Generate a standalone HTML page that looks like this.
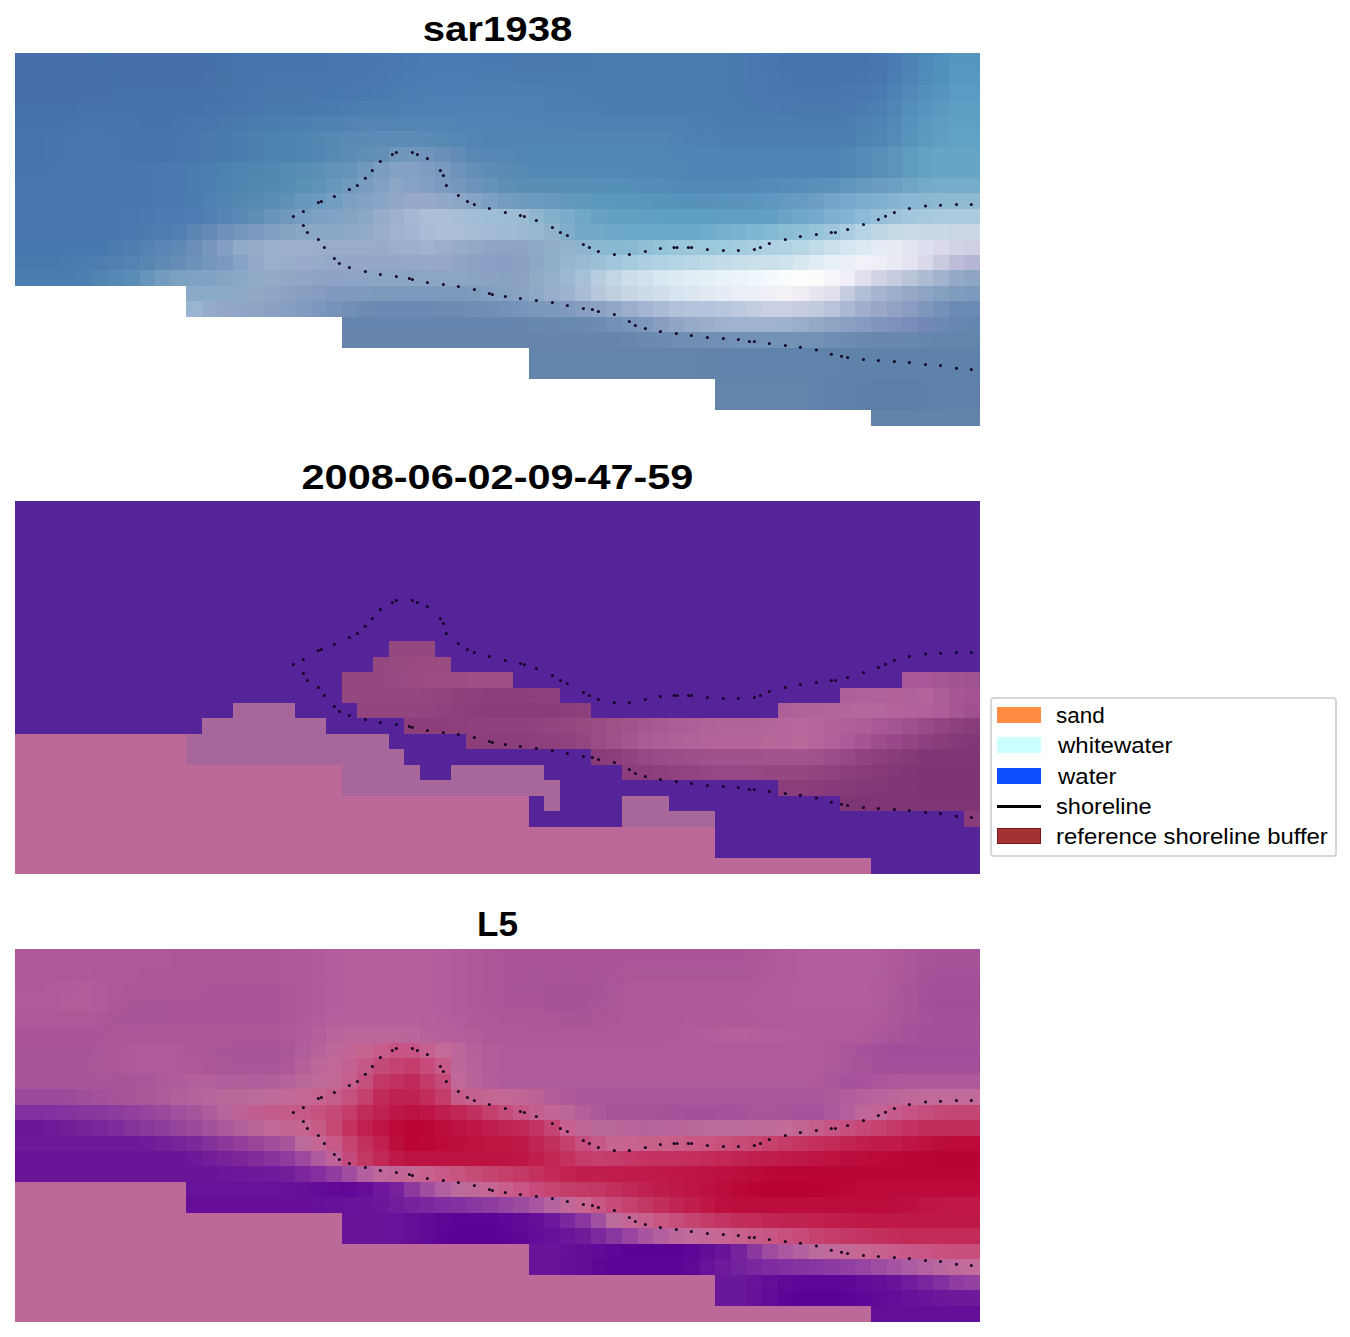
<!DOCTYPE html>
<html><head><meta charset="utf-8"><title>fig</title>
<style>
html,body{margin:0;padding:0;background:#fff;}
body{width:1350px;height:1337px;position:relative;overflow:hidden;font-family:"Liberation Sans",sans-serif;}
.t{position:absolute;left:15px;width:965px;text-align:center;font-weight:bold;color:#000;white-space:nowrap;line-height:1;}
.lg{position:absolute;left:990px;top:697px;width:343px;height:156px;border:2px solid #d6d6d6;border-radius:4px;background:#fff;}
.sw{position:absolute;left:997px;width:44px;height:16px;}
.lt{position:absolute;left:1056px;color:#000;white-space:nowrap;line-height:1;}
</style></head><body>
<svg width="1350" height="1337" viewBox="0 0 1350 1337" shape-rendering="crispEdges" style="position:absolute;left:0;top:0">
<rect x="15" y="501" width="965" height="373" fill="#552499"/>
<rect x="15" y="949" width="965" height="373" fill="#bc6899"/>
<rect x="15" y="53" width="62.56" height="16.9" fill="#466ea8"/>
<rect x="77.26" y="53" width="15.86" height="16.9" fill="#466ea7"/>
<rect x="92.82" y="53" width="15.87" height="16.9" fill="#456fa7"/>
<rect x="108.39" y="53" width="93.68" height="16.9" fill="#456fa6"/>
<rect x="201.77" y="53" width="15.87" height="16.9" fill="#4570a7"/>
<rect x="217.34" y="53" width="15.86" height="16.9" fill="#4671a8"/>
<rect x="232.9" y="53" width="15.87" height="16.9" fill="#4673a9"/>
<rect x="248.47" y="53" width="15.86" height="16.9" fill="#4774aa"/>
<rect x="264.03" y="53" width="62.56" height="16.9" fill="#4775ab"/>
<rect x="326.29" y="53" width="15.86" height="16.9" fill="#4776ac"/>
<rect x="341.85" y="53" width="15.87" height="16.9" fill="#4876ad"/>
<rect x="357.42" y="53" width="15.86" height="16.9" fill="#4877ae"/>
<rect x="372.98" y="53" width="15.87" height="16.9" fill="#4878ae"/>
<rect x="388.55" y="53" width="15.86" height="16.9" fill="#4979b0"/>
<rect x="404.11" y="53" width="15.87" height="16.9" fill="#497ab0"/>
<rect x="419.68" y="53" width="15.86" height="16.9" fill="#4a7bb2"/>
<rect x="435.24" y="53" width="47" height="16.9" fill="#4a7cb2"/>
<rect x="481.94" y="53" width="31.42" height="16.9" fill="#4a7bb0"/>
<rect x="513.06" y="53" width="47" height="16.9" fill="#4a7aae"/>
<rect x="559.76" y="53" width="31.43" height="16.9" fill="#4a7bae"/>
<rect x="590.89" y="53" width="140.38" height="16.9" fill="#4a7cae"/>
<rect x="730.97" y="53" width="15.86" height="16.9" fill="#4a7bae"/>
<rect x="746.53" y="53" width="15.87" height="16.9" fill="#4979ae"/>
<rect x="762.1" y="53" width="15.86" height="16.9" fill="#4976ad"/>
<rect x="777.66" y="53" width="15.87" height="16.9" fill="#4874ad"/>
<rect x="793.23" y="53" width="78.12" height="16.9" fill="#4873ad"/>
<rect x="871.05" y="53" width="15.86" height="16.9" fill="#4976ae"/>
<rect x="886.61" y="53" width="15.87" height="16.9" fill="#4a7cb1"/>
<rect x="902.18" y="53" width="15.86" height="16.9" fill="#4b83b4"/>
<rect x="917.74" y="53" width="15.87" height="16.9" fill="#4e89b7"/>
<rect x="933.31" y="53" width="15.86" height="16.9" fill="#518fbc"/>
<rect x="948.87" y="53" width="31.43" height="16.9" fill="#5595c0"/>
<rect x="15" y="69.6" width="62.56" height="15.75" fill="#466ea8"/>
<rect x="77.26" y="69.6" width="31.43" height="15.75" fill="#466fa7"/>
<rect x="108.39" y="69.6" width="15.86" height="15.75" fill="#456fa7"/>
<rect x="123.95" y="69.6" width="78.12" height="15.75" fill="#456fa6"/>
<rect x="201.77" y="69.6" width="15.87" height="15.75" fill="#4670a7"/>
<rect x="217.34" y="69.6" width="15.86" height="15.75" fill="#4672a8"/>
<rect x="232.9" y="69.6" width="15.87" height="15.75" fill="#4673aa"/>
<rect x="248.47" y="69.6" width="15.86" height="15.75" fill="#4775ab"/>
<rect x="264.03" y="69.6" width="62.56" height="15.75" fill="#4776ac"/>
<rect x="326.29" y="69.6" width="31.43" height="15.75" fill="#4877ad"/>
<rect x="357.42" y="69.6" width="15.86" height="15.75" fill="#4878ae"/>
<rect x="372.98" y="69.6" width="15.87" height="15.75" fill="#4979af"/>
<rect x="388.55" y="69.6" width="15.86" height="15.75" fill="#497ab0"/>
<rect x="404.11" y="69.6" width="15.87" height="15.75" fill="#4a7cb1"/>
<rect x="419.68" y="69.6" width="15.86" height="15.75" fill="#4a7db2"/>
<rect x="435.24" y="69.6" width="31.43" height="15.75" fill="#4b7eb2"/>
<rect x="466.37" y="69.6" width="15.87" height="15.75" fill="#4b7db2"/>
<rect x="481.94" y="69.6" width="31.42" height="15.75" fill="#4b7db1"/>
<rect x="513.06" y="69.6" width="15.87" height="15.75" fill="#4b7cb0"/>
<rect x="528.63" y="69.6" width="15.86" height="15.75" fill="#4b7caf"/>
<rect x="544.19" y="69.6" width="62.56" height="15.75" fill="#4a7caf"/>
<rect x="606.45" y="69.6" width="124.82" height="15.75" fill="#4a7cae"/>
<rect x="730.97" y="69.6" width="15.86" height="15.75" fill="#4a7bae"/>
<rect x="746.53" y="69.6" width="15.87" height="15.75" fill="#4979ae"/>
<rect x="762.1" y="69.6" width="15.86" height="15.75" fill="#4977ae"/>
<rect x="777.66" y="69.6" width="15.87" height="15.75" fill="#4875ad"/>
<rect x="793.23" y="69.6" width="62.55" height="15.75" fill="#4874ad"/>
<rect x="855.48" y="69.6" width="15.87" height="15.75" fill="#4875ae"/>
<rect x="871.05" y="69.6" width="15.86" height="15.75" fill="#4978af"/>
<rect x="886.61" y="69.6" width="15.87" height="15.75" fill="#4b7eb2"/>
<rect x="902.18" y="69.6" width="15.86" height="15.75" fill="#4d85b5"/>
<rect x="917.74" y="69.6" width="15.87" height="15.75" fill="#508bb9"/>
<rect x="933.31" y="69.6" width="15.86" height="15.75" fill="#5391bd"/>
<rect x="948.87" y="69.6" width="31.43" height="15.75" fill="#5797c1"/>
<rect x="15" y="85.05" width="93.69" height="15.75" fill="#466fa8"/>
<rect x="108.39" y="85.05" width="93.68" height="15.75" fill="#4670a8"/>
<rect x="201.77" y="85.05" width="15.87" height="15.75" fill="#4671a8"/>
<rect x="217.34" y="85.05" width="15.86" height="15.75" fill="#4673a9"/>
<rect x="232.9" y="85.05" width="15.87" height="15.75" fill="#4774ab"/>
<rect x="248.47" y="85.05" width="15.86" height="15.75" fill="#4876ac"/>
<rect x="264.03" y="85.05" width="47" height="15.75" fill="#4877ac"/>
<rect x="310.73" y="85.05" width="15.86" height="15.75" fill="#4878ad"/>
<rect x="326.29" y="85.05" width="15.86" height="15.75" fill="#4879ae"/>
<rect x="341.85" y="85.05" width="15.87" height="15.75" fill="#4979ae"/>
<rect x="357.42" y="85.05" width="15.86" height="15.75" fill="#497aaf"/>
<rect x="372.98" y="85.05" width="15.87" height="15.75" fill="#4a7bb0"/>
<rect x="388.55" y="85.05" width="15.86" height="15.75" fill="#4b7db1"/>
<rect x="404.11" y="85.05" width="15.87" height="15.75" fill="#4b7eb2"/>
<rect x="419.68" y="85.05" width="15.86" height="15.75" fill="#4c80b3"/>
<rect x="435.24" y="85.05" width="31.43" height="15.75" fill="#4c80b4"/>
<rect x="466.37" y="85.05" width="46.99" height="15.75" fill="#4c80b3"/>
<rect x="513.06" y="85.05" width="15.87" height="15.75" fill="#4c80b2"/>
<rect x="528.63" y="85.05" width="15.86" height="15.75" fill="#4c7fb2"/>
<rect x="544.19" y="85.05" width="31.43" height="15.75" fill="#4b7eb1"/>
<rect x="575.32" y="85.05" width="15.87" height="15.75" fill="#4b7db0"/>
<rect x="590.89" y="85.05" width="140.38" height="15.75" fill="#4a7cb0"/>
<rect x="730.97" y="85.05" width="15.86" height="15.75" fill="#4a7baf"/>
<rect x="746.53" y="85.05" width="15.87" height="15.75" fill="#4a7aaf"/>
<rect x="762.1" y="85.05" width="15.86" height="15.75" fill="#4978ae"/>
<rect x="777.66" y="85.05" width="15.87" height="15.75" fill="#4977ae"/>
<rect x="793.23" y="85.05" width="46.99" height="15.75" fill="#4976ae"/>
<rect x="839.92" y="85.05" width="15.86" height="15.75" fill="#4977ae"/>
<rect x="855.48" y="85.05" width="15.87" height="15.75" fill="#4a79af"/>
<rect x="871.05" y="85.05" width="15.86" height="15.75" fill="#4a7cb1"/>
<rect x="886.61" y="85.05" width="15.87" height="15.75" fill="#4d82b4"/>
<rect x="902.18" y="85.05" width="15.86" height="15.75" fill="#518ab8"/>
<rect x="917.74" y="85.05" width="15.87" height="15.75" fill="#5490bc"/>
<rect x="933.31" y="85.05" width="15.86" height="15.75" fill="#5795c0"/>
<rect x="948.87" y="85.05" width="31.43" height="15.75" fill="#5a9ac3"/>
<rect x="15" y="100.5" width="62.56" height="15.75" fill="#4670a9"/>
<rect x="77.26" y="100.5" width="124.81" height="15.75" fill="#4671a9"/>
<rect x="201.77" y="100.5" width="15.87" height="15.75" fill="#4773aa"/>
<rect x="217.34" y="100.5" width="15.86" height="15.75" fill="#4774ab"/>
<rect x="232.9" y="100.5" width="15.87" height="15.75" fill="#4876ac"/>
<rect x="248.47" y="100.5" width="15.86" height="15.75" fill="#4878ad"/>
<rect x="264.03" y="100.5" width="47" height="15.75" fill="#497aae"/>
<rect x="310.73" y="100.5" width="15.86" height="15.75" fill="#4a7bae"/>
<rect x="326.29" y="100.5" width="15.86" height="15.75" fill="#4b7caf"/>
<rect x="341.85" y="100.5" width="15.87" height="15.75" fill="#4c7db0"/>
<rect x="357.42" y="100.5" width="15.86" height="15.75" fill="#4c7eb0"/>
<rect x="372.98" y="100.5" width="15.87" height="15.75" fill="#4d7fb1"/>
<rect x="388.55" y="100.5" width="15.86" height="15.75" fill="#4d80b2"/>
<rect x="404.11" y="100.5" width="15.87" height="15.75" fill="#4d81b3"/>
<rect x="419.68" y="100.5" width="109.25" height="15.75" fill="#4e82b4"/>
<rect x="528.63" y="100.5" width="15.86" height="15.75" fill="#4d81b3"/>
<rect x="544.19" y="100.5" width="15.87" height="15.75" fill="#4c80b2"/>
<rect x="559.76" y="100.5" width="15.86" height="15.75" fill="#4c7fb2"/>
<rect x="575.32" y="100.5" width="15.87" height="15.75" fill="#4b7fb1"/>
<rect x="590.89" y="100.5" width="15.86" height="15.75" fill="#4b7eb1"/>
<rect x="606.45" y="100.5" width="62.56" height="15.75" fill="#4b7eb0"/>
<rect x="668.71" y="100.5" width="31.43" height="15.75" fill="#4b7db0"/>
<rect x="699.84" y="100.5" width="31.43" height="15.75" fill="#4a7db0"/>
<rect x="730.97" y="100.5" width="15.86" height="15.75" fill="#4a7cb0"/>
<rect x="746.53" y="100.5" width="15.87" height="15.75" fill="#4a7baf"/>
<rect x="762.1" y="100.5" width="15.86" height="15.75" fill="#4a7aaf"/>
<rect x="777.66" y="100.5" width="15.87" height="15.75" fill="#4a79af"/>
<rect x="793.23" y="100.5" width="46.99" height="15.75" fill="#4a79ae"/>
<rect x="839.92" y="100.5" width="15.86" height="15.75" fill="#4a7aaf"/>
<rect x="855.48" y="100.5" width="15.87" height="15.75" fill="#4b7db1"/>
<rect x="871.05" y="100.5" width="15.86" height="15.75" fill="#4c80b2"/>
<rect x="886.61" y="100.5" width="15.87" height="15.75" fill="#4f86b5"/>
<rect x="902.18" y="100.5" width="15.86" height="15.75" fill="#548eba"/>
<rect x="917.74" y="100.5" width="15.87" height="15.75" fill="#5894be"/>
<rect x="933.31" y="100.5" width="15.86" height="15.75" fill="#5b99c1"/>
<rect x="948.87" y="100.5" width="31.43" height="15.75" fill="#5e9ec4"/>
<rect x="15" y="115.95" width="46.99" height="15.75" fill="#4672ab"/>
<rect x="61.69" y="115.95" width="15.87" height="15.75" fill="#4773ab"/>
<rect x="77.26" y="115.95" width="31.43" height="15.75" fill="#4774ab"/>
<rect x="108.39" y="115.95" width="15.86" height="15.75" fill="#4773ab"/>
<rect x="123.95" y="115.95" width="15.87" height="15.75" fill="#4673ab"/>
<rect x="139.52" y="115.95" width="31.43" height="15.75" fill="#4672aa"/>
<rect x="170.65" y="115.95" width="15.86" height="15.75" fill="#4773ab"/>
<rect x="186.21" y="115.95" width="15.86" height="15.75" fill="#4875ab"/>
<rect x="201.77" y="115.95" width="15.87" height="15.75" fill="#4876ac"/>
<rect x="217.34" y="115.95" width="15.86" height="15.75" fill="#4978ad"/>
<rect x="232.9" y="115.95" width="15.87" height="15.75" fill="#497aae"/>
<rect x="248.47" y="115.95" width="15.86" height="15.75" fill="#4a7cae"/>
<rect x="264.03" y="115.95" width="15.87" height="15.75" fill="#4a7eaf"/>
<rect x="279.6" y="115.95" width="15.86" height="15.75" fill="#4a7faf"/>
<rect x="295.16" y="115.95" width="15.87" height="15.75" fill="#4c80b0"/>
<rect x="310.73" y="115.95" width="15.86" height="15.75" fill="#4e81b0"/>
<rect x="326.29" y="115.95" width="15.86" height="15.75" fill="#5082b1"/>
<rect x="341.85" y="115.95" width="15.87" height="15.75" fill="#5283b2"/>
<rect x="357.42" y="115.95" width="31.43" height="15.75" fill="#5384b3"/>
<rect x="388.55" y="115.95" width="31.43" height="15.75" fill="#5385b4"/>
<rect x="419.68" y="115.95" width="31.43" height="15.75" fill="#5285b4"/>
<rect x="450.81" y="115.95" width="15.86" height="15.75" fill="#5184b4"/>
<rect x="466.37" y="115.95" width="46.99" height="15.75" fill="#5084b4"/>
<rect x="513.06" y="115.95" width="15.87" height="15.75" fill="#4f83b4"/>
<rect x="528.63" y="115.95" width="15.86" height="15.75" fill="#4f83b3"/>
<rect x="544.19" y="115.95" width="15.87" height="15.75" fill="#4e82b3"/>
<rect x="559.76" y="115.95" width="15.86" height="15.75" fill="#4d82b2"/>
<rect x="575.32" y="115.95" width="93.69" height="15.75" fill="#4d81b2"/>
<rect x="668.71" y="115.95" width="15.86" height="15.75" fill="#4c81b2"/>
<rect x="684.27" y="115.95" width="15.87" height="15.75" fill="#4c80b1"/>
<rect x="699.84" y="115.95" width="15.86" height="15.75" fill="#4c7fb1"/>
<rect x="715.4" y="115.95" width="31.43" height="15.75" fill="#4b7eb0"/>
<rect x="746.53" y="115.95" width="47" height="15.75" fill="#4b7db0"/>
<rect x="793.23" y="115.95" width="46.99" height="15.75" fill="#4a7cb0"/>
<rect x="839.92" y="115.95" width="15.86" height="15.75" fill="#4b7eb0"/>
<rect x="855.48" y="115.95" width="15.87" height="15.75" fill="#4d81b2"/>
<rect x="871.05" y="115.95" width="15.86" height="15.75" fill="#4e84b3"/>
<rect x="886.61" y="115.95" width="15.87" height="15.75" fill="#528ab7"/>
<rect x="902.18" y="115.95" width="15.86" height="15.75" fill="#5792bc"/>
<rect x="917.74" y="115.95" width="15.87" height="15.75" fill="#5c98c0"/>
<rect x="933.31" y="115.95" width="15.86" height="15.75" fill="#5e9cc3"/>
<rect x="948.87" y="115.95" width="31.43" height="15.75" fill="#60a0c6"/>
<rect x="15" y="131.4" width="31.43" height="15.75" fill="#4673ad"/>
<rect x="46.13" y="131.4" width="15.86" height="15.75" fill="#4774ad"/>
<rect x="61.69" y="131.4" width="15.87" height="15.75" fill="#4776ad"/>
<rect x="77.26" y="131.4" width="31.43" height="15.75" fill="#4877ad"/>
<rect x="108.39" y="131.4" width="15.86" height="15.75" fill="#4776ac"/>
<rect x="123.95" y="131.4" width="15.87" height="15.75" fill="#4774ac"/>
<rect x="139.52" y="131.4" width="31.43" height="15.75" fill="#4673ab"/>
<rect x="170.65" y="131.4" width="15.86" height="15.75" fill="#4875ac"/>
<rect x="186.21" y="131.4" width="15.86" height="15.75" fill="#4877ad"/>
<rect x="201.77" y="131.4" width="15.87" height="15.75" fill="#4a79ae"/>
<rect x="217.34" y="131.4" width="15.86" height="15.75" fill="#4a7bae"/>
<rect x="232.9" y="131.4" width="15.87" height="15.75" fill="#4b7eaf"/>
<rect x="248.47" y="131.4" width="15.86" height="15.75" fill="#4b80af"/>
<rect x="264.03" y="131.4" width="15.87" height="15.75" fill="#4c83b0"/>
<rect x="279.6" y="131.4" width="15.86" height="15.75" fill="#4c84b0"/>
<rect x="295.16" y="131.4" width="15.87" height="15.75" fill="#4e85b1"/>
<rect x="310.73" y="131.4" width="15.86" height="15.75" fill="#5287b2"/>
<rect x="326.29" y="131.4" width="15.86" height="15.75" fill="#5688b4"/>
<rect x="341.85" y="131.4" width="15.87" height="15.75" fill="#5a8ab5"/>
<rect x="357.42" y="131.4" width="15.86" height="15.75" fill="#5b8bb5"/>
<rect x="372.98" y="131.4" width="15.87" height="15.75" fill="#5b8bb6"/>
<rect x="388.55" y="131.4" width="31.43" height="15.75" fill="#5c8cb6"/>
<rect x="419.68" y="131.4" width="15.86" height="15.75" fill="#5a8bb6"/>
<rect x="435.24" y="131.4" width="15.87" height="15.75" fill="#5789b5"/>
<rect x="450.81" y="131.4" width="15.86" height="15.75" fill="#5487b4"/>
<rect x="466.37" y="131.4" width="15.87" height="15.75" fill="#5185b3"/>
<rect x="481.94" y="131.4" width="187.07" height="15.75" fill="#4f84b3"/>
<rect x="668.71" y="131.4" width="15.86" height="15.75" fill="#4e83b3"/>
<rect x="684.27" y="131.4" width="15.87" height="15.75" fill="#4e82b2"/>
<rect x="699.84" y="131.4" width="15.86" height="15.75" fill="#4c81b1"/>
<rect x="715.4" y="131.4" width="15.87" height="15.75" fill="#4c80b0"/>
<rect x="730.97" y="131.4" width="109.25" height="15.75" fill="#4b7fb0"/>
<rect x="839.92" y="131.4" width="15.86" height="15.75" fill="#4c80b1"/>
<rect x="855.48" y="131.4" width="15.87" height="15.75" fill="#4e84b2"/>
<rect x="871.05" y="131.4" width="15.86" height="15.75" fill="#4f86b4"/>
<rect x="886.61" y="131.4" width="15.87" height="15.75" fill="#538cb8"/>
<rect x="902.18" y="131.4" width="15.86" height="15.75" fill="#5994bc"/>
<rect x="917.74" y="131.4" width="15.87" height="15.75" fill="#5d9ac0"/>
<rect x="933.31" y="131.4" width="15.86" height="15.75" fill="#609ec3"/>
<rect x="948.87" y="131.4" width="31.43" height="15.75" fill="#62a2c6"/>
<rect x="15" y="146.85" width="31.43" height="15.75" fill="#4673ad"/>
<rect x="46.13" y="146.85" width="15.86" height="15.75" fill="#4774ad"/>
<rect x="61.69" y="146.85" width="15.87" height="15.75" fill="#4776ad"/>
<rect x="77.26" y="146.85" width="31.43" height="15.75" fill="#4877ad"/>
<rect x="108.39" y="146.85" width="15.86" height="15.75" fill="#4776ac"/>
<rect x="123.95" y="146.85" width="15.87" height="15.75" fill="#4774ac"/>
<rect x="139.52" y="146.85" width="31.43" height="15.75" fill="#4673ab"/>
<rect x="170.65" y="146.85" width="15.86" height="15.75" fill="#4875ac"/>
<rect x="186.21" y="146.85" width="15.86" height="15.75" fill="#4877ad"/>
<rect x="201.77" y="146.85" width="15.87" height="15.75" fill="#4a79ae"/>
<rect x="217.34" y="146.85" width="15.86" height="15.75" fill="#4a7bae"/>
<rect x="232.9" y="146.85" width="15.87" height="15.75" fill="#4b7eaf"/>
<rect x="248.47" y="146.85" width="15.86" height="15.75" fill="#4b80af"/>
<rect x="264.03" y="146.85" width="15.87" height="15.75" fill="#4c83b0"/>
<rect x="279.6" y="146.85" width="15.86" height="15.75" fill="#4c84b0"/>
<rect x="295.16" y="146.85" width="15.87" height="15.75" fill="#4e85b1"/>
<rect x="310.73" y="146.85" width="15.86" height="15.75" fill="#5287b3"/>
<rect x="326.29" y="146.85" width="15.86" height="15.75" fill="#568ab4"/>
<rect x="341.85" y="146.85" width="15.87" height="15.75" fill="#5a8cb6"/>
<rect x="357.42" y="146.85" width="15.86" height="15.75" fill="#5f8eb7"/>
<rect x="372.98" y="146.85" width="15.87" height="15.75" fill="#6490b8"/>
<rect x="388.55" y="146.85" width="15.86" height="15.75" fill="#6f96bb"/>
<rect x="404.11" y="146.85" width="15.87" height="15.75" fill="#7297bc"/>
<rect x="419.68" y="146.85" width="15.86" height="15.75" fill="#7094bb"/>
<rect x="435.24" y="146.85" width="15.87" height="15.75" fill="#6a90b9"/>
<rect x="450.81" y="146.85" width="15.86" height="15.75" fill="#628cb7"/>
<rect x="466.37" y="146.85" width="15.87" height="15.75" fill="#5a88b5"/>
<rect x="481.94" y="146.85" width="15.86" height="15.75" fill="#5787b4"/>
<rect x="497.5" y="146.85" width="15.86" height="15.75" fill="#5487b4"/>
<rect x="513.06" y="146.85" width="15.87" height="15.75" fill="#5186b3"/>
<rect x="528.63" y="146.85" width="109.25" height="15.75" fill="#5086b3"/>
<rect x="637.58" y="146.85" width="15.87" height="15.75" fill="#4f86b3"/>
<rect x="653.15" y="146.85" width="15.86" height="15.75" fill="#4e86b4"/>
<rect x="668.71" y="146.85" width="171.51" height="15.75" fill="#4d86b4"/>
<rect x="839.92" y="146.85" width="15.86" height="15.75" fill="#4f88b5"/>
<rect x="855.48" y="146.85" width="15.87" height="15.75" fill="#548cb7"/>
<rect x="871.05" y="146.85" width="15.86" height="15.75" fill="#5890b9"/>
<rect x="886.61" y="146.85" width="15.87" height="15.75" fill="#5c95bc"/>
<rect x="902.18" y="146.85" width="15.86" height="15.75" fill="#609cc0"/>
<rect x="917.74" y="146.85" width="15.87" height="15.75" fill="#64a2c4"/>
<rect x="933.31" y="146.85" width="46.99" height="15.75" fill="#66a5c6"/>
<rect x="15" y="162.3" width="31.43" height="15.75" fill="#4675ad"/>
<rect x="46.13" y="162.3" width="31.43" height="15.75" fill="#4776ad"/>
<rect x="77.26" y="162.3" width="62.56" height="15.75" fill="#4877ad"/>
<rect x="139.52" y="162.3" width="15.86" height="15.75" fill="#4978ae"/>
<rect x="155.08" y="162.3" width="15.87" height="15.75" fill="#4979ae"/>
<rect x="170.65" y="162.3" width="15.86" height="15.75" fill="#4a7aaf"/>
<rect x="186.21" y="162.3" width="15.86" height="15.75" fill="#4a7caf"/>
<rect x="201.77" y="162.3" width="15.87" height="15.75" fill="#4c7eaf"/>
<rect x="217.34" y="162.3" width="15.86" height="15.75" fill="#4c82b0"/>
<rect x="232.9" y="162.3" width="15.87" height="15.75" fill="#4e84b0"/>
<rect x="248.47" y="162.3" width="15.86" height="15.75" fill="#4e86b0"/>
<rect x="264.03" y="162.3" width="15.87" height="15.75" fill="#5088b1"/>
<rect x="279.6" y="162.3" width="15.86" height="15.75" fill="#548bb3"/>
<rect x="295.16" y="162.3" width="15.87" height="15.75" fill="#588eb5"/>
<rect x="310.73" y="162.3" width="15.86" height="15.75" fill="#5c91b7"/>
<rect x="326.29" y="162.3" width="15.86" height="15.75" fill="#6192b8"/>
<rect x="341.85" y="162.3" width="15.87" height="15.75" fill="#6593ba"/>
<rect x="357.42" y="162.3" width="15.86" height="15.75" fill="#7098bd"/>
<rect x="372.98" y="162.3" width="15.87" height="15.75" fill="#7a9dc0"/>
<rect x="388.55" y="162.3" width="15.86" height="15.75" fill="#82a1c3"/>
<rect x="404.11" y="162.3" width="15.87" height="15.75" fill="#84a1c3"/>
<rect x="419.68" y="162.3" width="15.86" height="15.75" fill="#7f9cc1"/>
<rect x="435.24" y="162.3" width="15.87" height="15.75" fill="#7898be"/>
<rect x="450.81" y="162.3" width="15.86" height="15.75" fill="#6d93bb"/>
<rect x="466.37" y="162.3" width="15.87" height="15.75" fill="#628eb7"/>
<rect x="481.94" y="162.3" width="15.86" height="15.75" fill="#5d8db6"/>
<rect x="497.5" y="162.3" width="15.86" height="15.75" fill="#598bb5"/>
<rect x="513.06" y="162.3" width="15.87" height="15.75" fill="#548ab4"/>
<rect x="528.63" y="162.3" width="93.69" height="15.75" fill="#5289b4"/>
<rect x="622.02" y="162.3" width="15.86" height="15.75" fill="#5189b4"/>
<rect x="637.58" y="162.3" width="15.87" height="15.75" fill="#5088b4"/>
<rect x="653.15" y="162.3" width="15.86" height="15.75" fill="#4f87b4"/>
<rect x="668.71" y="162.3" width="15.86" height="15.75" fill="#4e86b4"/>
<rect x="684.27" y="162.3" width="155.95" height="15.75" fill="#4d86b4"/>
<rect x="839.92" y="162.3" width="15.86" height="15.75" fill="#4f88b5"/>
<rect x="855.48" y="162.3" width="15.87" height="15.75" fill="#548cb7"/>
<rect x="871.05" y="162.3" width="15.86" height="15.75" fill="#5890b9"/>
<rect x="886.61" y="162.3" width="15.87" height="15.75" fill="#5c95bc"/>
<rect x="902.18" y="162.3" width="15.86" height="15.75" fill="#609cc0"/>
<rect x="917.74" y="162.3" width="15.87" height="15.75" fill="#64a2c4"/>
<rect x="933.31" y="162.3" width="46.99" height="15.75" fill="#66a5c6"/>
<rect x="15" y="177.75" width="124.82" height="15.75" fill="#4877ae"/>
<rect x="139.52" y="177.75" width="15.86" height="15.75" fill="#4978af"/>
<rect x="155.08" y="177.75" width="15.87" height="15.75" fill="#4979af"/>
<rect x="170.65" y="177.75" width="15.86" height="15.75" fill="#4a7ab0"/>
<rect x="186.21" y="177.75" width="15.86" height="15.75" fill="#4a7cb0"/>
<rect x="201.77" y="177.75" width="15.87" height="15.75" fill="#4c7fb0"/>
<rect x="217.34" y="177.75" width="15.86" height="15.75" fill="#4c83b0"/>
<rect x="232.9" y="177.75" width="15.87" height="15.75" fill="#4e86b0"/>
<rect x="248.47" y="177.75" width="15.86" height="15.75" fill="#4e88b0"/>
<rect x="264.03" y="177.75" width="15.87" height="15.75" fill="#508ab1"/>
<rect x="279.6" y="177.75" width="15.86" height="15.75" fill="#548eb4"/>
<rect x="295.16" y="177.75" width="15.87" height="15.75" fill="#5991b7"/>
<rect x="310.73" y="177.75" width="15.86" height="15.75" fill="#5f94b9"/>
<rect x="326.29" y="177.75" width="15.86" height="15.75" fill="#6897bc"/>
<rect x="341.85" y="177.75" width="15.87" height="15.75" fill="#7099be"/>
<rect x="357.42" y="177.75" width="15.86" height="15.75" fill="#799dc1"/>
<rect x="372.98" y="177.75" width="15.87" height="15.75" fill="#81a1c3"/>
<rect x="388.55" y="177.75" width="15.86" height="15.75" fill="#8aa5c6"/>
<rect x="404.11" y="177.75" width="15.87" height="15.75" fill="#86a1c4"/>
<rect x="419.68" y="177.75" width="15.86" height="15.75" fill="#819ec3"/>
<rect x="435.24" y="177.75" width="15.87" height="15.75" fill="#7b9ac0"/>
<rect x="450.81" y="177.75" width="15.86" height="15.75" fill="#7397bd"/>
<rect x="466.37" y="177.75" width="15.87" height="15.75" fill="#6c94ba"/>
<rect x="481.94" y="177.75" width="15.86" height="15.75" fill="#6492b8"/>
<rect x="497.5" y="177.75" width="15.86" height="15.75" fill="#5e8fb6"/>
<rect x="513.06" y="177.75" width="31.43" height="15.75" fill="#5a8eb5"/>
<rect x="544.19" y="177.75" width="15.87" height="15.75" fill="#598eb5"/>
<rect x="559.76" y="177.75" width="15.86" height="15.75" fill="#588fb6"/>
<rect x="575.32" y="177.75" width="15.87" height="15.75" fill="#578fb7"/>
<rect x="590.89" y="177.75" width="15.86" height="15.75" fill="#5690b8"/>
<rect x="606.45" y="177.75" width="15.87" height="15.75" fill="#5590b8"/>
<rect x="622.02" y="177.75" width="15.86" height="15.75" fill="#548fb8"/>
<rect x="637.58" y="177.75" width="15.87" height="15.75" fill="#538db7"/>
<rect x="653.15" y="177.75" width="15.86" height="15.75" fill="#528cb7"/>
<rect x="668.71" y="177.75" width="15.86" height="15.75" fill="#518ab6"/>
<rect x="684.27" y="177.75" width="62.56" height="15.75" fill="#5089b6"/>
<rect x="746.53" y="177.75" width="15.87" height="15.75" fill="#518ab6"/>
<rect x="762.1" y="177.75" width="15.86" height="15.75" fill="#538cb8"/>
<rect x="777.66" y="177.75" width="15.87" height="15.75" fill="#558db8"/>
<rect x="793.23" y="177.75" width="15.86" height="15.75" fill="#578fba"/>
<rect x="808.79" y="177.75" width="15.86" height="15.75" fill="#5890ba"/>
<rect x="824.35" y="177.75" width="15.87" height="15.75" fill="#5b92bb"/>
<rect x="839.92" y="177.75" width="15.86" height="15.75" fill="#6095bd"/>
<rect x="855.48" y="177.75" width="15.87" height="15.75" fill="#6599be"/>
<rect x="871.05" y="177.75" width="15.86" height="15.75" fill="#6a9cc0"/>
<rect x="886.61" y="177.75" width="15.87" height="15.75" fill="#6da1c3"/>
<rect x="902.18" y="177.75" width="15.86" height="15.75" fill="#70a5c5"/>
<rect x="917.74" y="177.75" width="15.87" height="15.75" fill="#73aac8"/>
<rect x="933.31" y="177.75" width="46.99" height="15.75" fill="#74acc9"/>
<rect x="15" y="193.2" width="109.25" height="15.75" fill="#4877ae"/>
<rect x="123.95" y="193.2" width="15.87" height="15.75" fill="#4878ae"/>
<rect x="139.52" y="193.2" width="15.86" height="15.75" fill="#4978af"/>
<rect x="155.08" y="193.2" width="15.87" height="15.75" fill="#4a7aaf"/>
<rect x="170.65" y="193.2" width="15.86" height="15.75" fill="#4b7ab0"/>
<rect x="186.21" y="193.2" width="15.86" height="15.75" fill="#4c7db0"/>
<rect x="201.77" y="193.2" width="15.87" height="15.75" fill="#4e81b1"/>
<rect x="217.34" y="193.2" width="15.86" height="15.75" fill="#5084b1"/>
<rect x="232.9" y="193.2" width="15.87" height="15.75" fill="#5288b2"/>
<rect x="248.47" y="193.2" width="15.86" height="15.75" fill="#568ab4"/>
<rect x="264.03" y="193.2" width="15.87" height="15.75" fill="#5a8db5"/>
<rect x="279.6" y="193.2" width="15.86" height="15.75" fill="#6091b8"/>
<rect x="295.16" y="193.2" width="15.87" height="15.75" fill="#6697bd"/>
<rect x="310.73" y="193.2" width="15.86" height="15.75" fill="#6d9bc0"/>
<rect x="326.29" y="193.2" width="15.86" height="15.75" fill="#749ec1"/>
<rect x="341.85" y="193.2" width="15.87" height="15.75" fill="#7ba0c2"/>
<rect x="357.42" y="193.2" width="15.86" height="15.75" fill="#82a2c4"/>
<rect x="372.98" y="193.2" width="15.87" height="15.75" fill="#88a4c6"/>
<rect x="388.55" y="193.2" width="15.86" height="15.75" fill="#90a7c8"/>
<rect x="404.11" y="193.2" width="15.87" height="15.75" fill="#96a9ca"/>
<rect x="419.68" y="193.2" width="15.86" height="15.75" fill="#97a9ca"/>
<rect x="435.24" y="193.2" width="15.87" height="15.75" fill="#92a8ca"/>
<rect x="450.81" y="193.2" width="15.86" height="15.75" fill="#8da6c8"/>
<rect x="466.37" y="193.2" width="15.87" height="15.75" fill="#86a3c6"/>
<rect x="481.94" y="193.2" width="15.86" height="15.75" fill="#7ca0c4"/>
<rect x="497.5" y="193.2" width="15.86" height="15.75" fill="#749dc0"/>
<rect x="513.06" y="193.2" width="15.87" height="15.75" fill="#6f9bbf"/>
<rect x="528.63" y="193.2" width="15.86" height="15.75" fill="#6d9bbf"/>
<rect x="544.19" y="193.2" width="15.87" height="15.75" fill="#689abe"/>
<rect x="559.76" y="193.2" width="15.86" height="15.75" fill="#6399be"/>
<rect x="575.32" y="193.2" width="15.87" height="15.75" fill="#5e98bd"/>
<rect x="590.89" y="193.2" width="31.43" height="15.75" fill="#5c98bd"/>
<rect x="622.02" y="193.2" width="15.86" height="15.75" fill="#5b97bd"/>
<rect x="637.58" y="193.2" width="15.87" height="15.75" fill="#5a96bc"/>
<rect x="653.15" y="193.2" width="15.86" height="15.75" fill="#5994bc"/>
<rect x="668.71" y="193.2" width="15.86" height="15.75" fill="#5893bb"/>
<rect x="684.27" y="193.2" width="15.87" height="15.75" fill="#5792bb"/>
<rect x="699.84" y="193.2" width="15.86" height="15.75" fill="#5892bb"/>
<rect x="715.4" y="193.2" width="15.87" height="15.75" fill="#5994bc"/>
<rect x="730.97" y="193.2" width="15.86" height="15.75" fill="#5a94bd"/>
<rect x="746.53" y="193.2" width="15.87" height="15.75" fill="#5b96be"/>
<rect x="762.1" y="193.2" width="15.86" height="15.75" fill="#5e97bf"/>
<rect x="777.66" y="193.2" width="15.87" height="15.75" fill="#6399c2"/>
<rect x="793.23" y="193.2" width="15.86" height="15.75" fill="#689bc4"/>
<rect x="808.79" y="193.2" width="15.86" height="15.75" fill="#6d9ec6"/>
<rect x="824.35" y="193.2" width="15.87" height="15.75" fill="#72a3c9"/>
<rect x="839.92" y="193.2" width="15.86" height="15.75" fill="#78a8cc"/>
<rect x="855.48" y="193.2" width="15.87" height="15.75" fill="#7dacce"/>
<rect x="871.05" y="193.2" width="15.86" height="15.75" fill="#81afcf"/>
<rect x="886.61" y="193.2" width="15.87" height="15.75" fill="#86b3d1"/>
<rect x="902.18" y="193.2" width="15.86" height="15.75" fill="#89b6d2"/>
<rect x="917.74" y="193.2" width="15.87" height="15.75" fill="#8bb7d2"/>
<rect x="933.31" y="193.2" width="15.86" height="15.75" fill="#8eb9d2"/>
<rect x="948.87" y="193.2" width="31.43" height="15.75" fill="#90bad2"/>
<rect x="15" y="208.65" width="109.25" height="15.75" fill="#4878ae"/>
<rect x="123.95" y="208.65" width="15.87" height="15.75" fill="#4979ae"/>
<rect x="139.52" y="208.65" width="15.86" height="15.75" fill="#4a7ab0"/>
<rect x="155.08" y="208.65" width="15.87" height="15.75" fill="#4b7bb0"/>
<rect x="170.65" y="208.65" width="15.86" height="15.75" fill="#4c7cb2"/>
<rect x="186.21" y="208.65" width="15.86" height="15.75" fill="#4d7db2"/>
<rect x="201.77" y="208.65" width="15.87" height="15.75" fill="#507fb3"/>
<rect x="217.34" y="208.65" width="15.86" height="15.75" fill="#5684b4"/>
<rect x="232.9" y="208.65" width="15.87" height="15.75" fill="#5b89b6"/>
<rect x="248.47" y="208.65" width="15.86" height="15.75" fill="#618eb7"/>
<rect x="264.03" y="208.65" width="15.87" height="15.75" fill="#6893ba"/>
<rect x="279.6" y="208.65" width="15.86" height="15.75" fill="#7098bd"/>
<rect x="295.16" y="208.65" width="15.87" height="15.75" fill="#779dc0"/>
<rect x="310.73" y="208.65" width="15.86" height="15.75" fill="#7da1c2"/>
<rect x="326.29" y="208.65" width="15.86" height="15.75" fill="#80a2c4"/>
<rect x="341.85" y="208.65" width="15.87" height="15.75" fill="#84a4c4"/>
<rect x="357.42" y="208.65" width="15.86" height="15.75" fill="#8ba7c7"/>
<rect x="372.98" y="208.65" width="15.87" height="15.75" fill="#95acca"/>
<rect x="388.55" y="208.65" width="15.86" height="15.75" fill="#9fb0ce"/>
<rect x="404.11" y="208.65" width="15.87" height="15.75" fill="#a5b7d2"/>
<rect x="419.68" y="208.65" width="15.86" height="15.75" fill="#aabed6"/>
<rect x="435.24" y="208.65" width="15.87" height="15.75" fill="#abc0d8"/>
<rect x="450.81" y="208.65" width="15.86" height="15.75" fill="#a6bfd6"/>
<rect x="466.37" y="208.65" width="15.87" height="15.75" fill="#a2bed6"/>
<rect x="481.94" y="208.65" width="15.86" height="15.75" fill="#9fbdd4"/>
<rect x="497.5" y="208.65" width="15.86" height="15.75" fill="#9ebcd3"/>
<rect x="513.06" y="208.65" width="15.87" height="15.75" fill="#9cbbd2"/>
<rect x="528.63" y="208.65" width="15.86" height="15.75" fill="#90b5ce"/>
<rect x="544.19" y="208.65" width="15.87" height="15.75" fill="#85b0cb"/>
<rect x="559.76" y="208.65" width="15.86" height="15.75" fill="#7aabc8"/>
<rect x="575.32" y="208.65" width="15.87" height="15.75" fill="#70a6c6"/>
<rect x="590.89" y="208.65" width="15.86" height="15.75" fill="#67a2c5"/>
<rect x="606.45" y="208.65" width="31.43" height="15.75" fill="#62a0c4"/>
<rect x="637.58" y="208.65" width="15.87" height="15.75" fill="#619fc4"/>
<rect x="653.15" y="208.65" width="15.86" height="15.75" fill="#609fc4"/>
<rect x="668.71" y="208.65" width="46.99" height="15.75" fill="#5f9ec4"/>
<rect x="715.4" y="208.65" width="15.87" height="15.75" fill="#609ec4"/>
<rect x="730.97" y="208.65" width="15.86" height="15.75" fill="#619fc5"/>
<rect x="746.53" y="208.65" width="15.87" height="15.75" fill="#639fc5"/>
<rect x="762.1" y="208.65" width="15.86" height="15.75" fill="#64a0c6"/>
<rect x="777.66" y="208.65" width="15.87" height="15.75" fill="#6aa3c8"/>
<rect x="793.23" y="208.65" width="15.86" height="15.75" fill="#6fa6cb"/>
<rect x="808.79" y="208.65" width="15.86" height="15.75" fill="#76aacd"/>
<rect x="824.35" y="208.65" width="15.87" height="15.75" fill="#7dafd0"/>
<rect x="839.92" y="208.65" width="15.86" height="15.75" fill="#84b4d3"/>
<rect x="855.48" y="208.65" width="15.87" height="15.75" fill="#8dbad6"/>
<rect x="871.05" y="208.65" width="15.86" height="15.75" fill="#96bfd9"/>
<rect x="886.61" y="208.65" width="15.87" height="15.75" fill="#9dc3da"/>
<rect x="902.18" y="208.65" width="15.86" height="15.75" fill="#a2c6dc"/>
<rect x="917.74" y="208.65" width="15.87" height="15.75" fill="#a7c9dc"/>
<rect x="933.31" y="208.65" width="46.99" height="15.75" fill="#aacadd"/>
<rect x="15" y="224.1" width="109.25" height="15.75" fill="#4878ae"/>
<rect x="123.95" y="224.1" width="15.87" height="15.75" fill="#4979af"/>
<rect x="139.52" y="224.1" width="15.86" height="15.75" fill="#4c7bb0"/>
<rect x="155.08" y="224.1" width="15.87" height="15.75" fill="#4f7db1"/>
<rect x="170.65" y="224.1" width="15.86" height="15.75" fill="#527fb2"/>
<rect x="186.21" y="224.1" width="15.86" height="15.75" fill="#5c85b4"/>
<rect x="201.77" y="224.1" width="15.87" height="15.75" fill="#658ab7"/>
<rect x="217.34" y="224.1" width="15.86" height="15.75" fill="#6d90ba"/>
<rect x="232.9" y="224.1" width="15.87" height="15.75" fill="#7496bd"/>
<rect x="248.47" y="224.1" width="15.86" height="15.75" fill="#7b9cc0"/>
<rect x="264.03" y="224.1" width="15.87" height="15.75" fill="#80a0c2"/>
<rect x="279.6" y="224.1" width="15.86" height="15.75" fill="#85a4c4"/>
<rect x="295.16" y="224.1" width="15.87" height="15.75" fill="#8aa8c6"/>
<rect x="310.73" y="224.1" width="15.86" height="15.75" fill="#8ba8c7"/>
<rect x="326.29" y="224.1" width="15.86" height="15.75" fill="#8ca8c7"/>
<rect x="341.85" y="224.1" width="15.87" height="15.75" fill="#8da8c8"/>
<rect x="357.42" y="224.1" width="15.86" height="15.75" fill="#92aac9"/>
<rect x="372.98" y="224.1" width="15.87" height="15.75" fill="#98aecc"/>
<rect x="388.55" y="224.1" width="15.86" height="15.75" fill="#a0b2cf"/>
<rect x="404.11" y="224.1" width="15.87" height="15.75" fill="#a5b6d2"/>
<rect x="419.68" y="224.1" width="15.86" height="15.75" fill="#a9bbd5"/>
<rect x="435.24" y="224.1" width="15.87" height="15.75" fill="#adbfd8"/>
<rect x="450.81" y="224.1" width="15.86" height="15.75" fill="#aabed7"/>
<rect x="466.37" y="224.1" width="15.87" height="15.75" fill="#a7bdd6"/>
<rect x="481.94" y="224.1" width="15.86" height="15.75" fill="#a4bcd5"/>
<rect x="497.5" y="224.1" width="15.86" height="15.75" fill="#a2bbd4"/>
<rect x="513.06" y="224.1" width="15.87" height="15.75" fill="#a0b9d2"/>
<rect x="528.63" y="224.1" width="15.86" height="15.75" fill="#98b6d0"/>
<rect x="544.19" y="224.1" width="15.87" height="15.75" fill="#90b2cd"/>
<rect x="559.76" y="224.1" width="15.86" height="15.75" fill="#82adca"/>
<rect x="575.32" y="224.1" width="15.87" height="15.75" fill="#74a8c8"/>
<rect x="590.89" y="224.1" width="15.86" height="15.75" fill="#71a8c8"/>
<rect x="606.45" y="224.1" width="15.87" height="15.75" fill="#6ea7c8"/>
<rect x="622.02" y="224.1" width="15.86" height="15.75" fill="#6ba7c8"/>
<rect x="637.58" y="224.1" width="46.99" height="15.75" fill="#6aa7c8"/>
<rect x="684.27" y="224.1" width="15.87" height="15.75" fill="#6ca9c9"/>
<rect x="699.84" y="224.1" width="15.86" height="15.75" fill="#70accb"/>
<rect x="715.4" y="224.1" width="15.87" height="15.75" fill="#74b0cd"/>
<rect x="730.97" y="224.1" width="15.86" height="15.75" fill="#78b3cf"/>
<rect x="746.53" y="224.1" width="15.87" height="15.75" fill="#7db7d1"/>
<rect x="762.1" y="224.1" width="15.86" height="15.75" fill="#83bad3"/>
<rect x="777.66" y="224.1" width="15.87" height="15.75" fill="#8abdd6"/>
<rect x="793.23" y="224.1" width="15.86" height="15.75" fill="#90c0d8"/>
<rect x="808.79" y="224.1" width="15.86" height="15.75" fill="#97c4da"/>
<rect x="824.35" y="224.1" width="15.87" height="15.75" fill="#9ec7dd"/>
<rect x="839.92" y="224.1" width="15.86" height="15.75" fill="#a9cce0"/>
<rect x="855.48" y="224.1" width="15.87" height="15.75" fill="#b6d3e3"/>
<rect x="871.05" y="224.1" width="15.86" height="15.75" fill="#bdd7e5"/>
<rect x="886.61" y="224.1" width="15.87" height="15.75" fill="#c4dae7"/>
<rect x="902.18" y="224.1" width="15.86" height="15.75" fill="#c8dbe7"/>
<rect x="917.74" y="224.1" width="15.87" height="15.75" fill="#c9d9e6"/>
<rect x="933.31" y="224.1" width="15.86" height="15.75" fill="#c9d8e5"/>
<rect x="948.87" y="224.1" width="31.43" height="15.75" fill="#cad6e4"/>
<rect x="15" y="239.55" width="93.69" height="15.75" fill="#4879ae"/>
<rect x="108.39" y="239.55" width="15.86" height="15.75" fill="#4b7baf"/>
<rect x="123.95" y="239.55" width="15.87" height="15.75" fill="#507eb0"/>
<rect x="139.52" y="239.55" width="15.86" height="15.75" fill="#5582b2"/>
<rect x="155.08" y="239.55" width="15.87" height="15.75" fill="#5a85b4"/>
<rect x="170.65" y="239.55" width="15.86" height="15.75" fill="#5e88b5"/>
<rect x="186.21" y="239.55" width="15.86" height="15.75" fill="#6a8eb9"/>
<rect x="201.77" y="239.55" width="15.87" height="15.75" fill="#7695bc"/>
<rect x="217.34" y="239.55" width="15.86" height="15.75" fill="#839ec2"/>
<rect x="232.9" y="239.55" width="15.87" height="15.75" fill="#92aac9"/>
<rect x="248.47" y="239.55" width="15.86" height="15.75" fill="#96acca"/>
<rect x="264.03" y="239.55" width="15.87" height="15.75" fill="#99afcb"/>
<rect x="279.6" y="239.55" width="15.86" height="15.75" fill="#9bafcc"/>
<rect x="295.16" y="239.55" width="15.87" height="15.75" fill="#9baecc"/>
<rect x="310.73" y="239.55" width="15.86" height="15.75" fill="#9aadcb"/>
<rect x="326.29" y="239.55" width="15.86" height="15.75" fill="#9aaccb"/>
<rect x="341.85" y="239.55" width="31.43" height="15.75" fill="#9aabcb"/>
<rect x="372.98" y="239.55" width="15.87" height="15.75" fill="#9aaacb"/>
<rect x="388.55" y="239.55" width="15.86" height="15.75" fill="#9cadcd"/>
<rect x="404.11" y="239.55" width="15.87" height="15.75" fill="#9eafce"/>
<rect x="419.68" y="239.55" width="15.86" height="15.75" fill="#a0b2d0"/>
<rect x="435.24" y="239.55" width="15.87" height="15.75" fill="#9bafcd"/>
<rect x="450.81" y="239.55" width="15.86" height="15.75" fill="#96acca"/>
<rect x="466.37" y="239.55" width="15.87" height="15.75" fill="#93a9c7"/>
<rect x="481.94" y="239.55" width="15.86" height="15.75" fill="#91a6c6"/>
<rect x="497.5" y="239.55" width="15.86" height="15.75" fill="#8fa3c5"/>
<rect x="513.06" y="239.55" width="15.87" height="15.75" fill="#8fa4c5"/>
<rect x="528.63" y="239.55" width="15.86" height="15.75" fill="#91a9c8"/>
<rect x="544.19" y="239.55" width="15.87" height="15.75" fill="#93aecb"/>
<rect x="559.76" y="239.55" width="15.86" height="15.75" fill="#92b1cd"/>
<rect x="575.32" y="239.55" width="15.87" height="15.75" fill="#8eb4cf"/>
<rect x="590.89" y="239.55" width="15.86" height="15.75" fill="#8ab7d1"/>
<rect x="606.45" y="239.55" width="15.87" height="15.75" fill="#88b8d2"/>
<rect x="622.02" y="239.55" width="15.86" height="15.75" fill="#8abad3"/>
<rect x="637.58" y="239.55" width="15.87" height="15.75" fill="#90bed6"/>
<rect x="653.15" y="239.55" width="15.86" height="15.75" fill="#94c2d8"/>
<rect x="668.71" y="239.55" width="15.86" height="15.75" fill="#9ac6db"/>
<rect x="684.27" y="239.55" width="31.43" height="15.75" fill="#9cc8dc"/>
<rect x="715.4" y="239.55" width="15.87" height="15.75" fill="#9ecadd"/>
<rect x="730.97" y="239.55" width="15.86" height="15.75" fill="#a4ccdf"/>
<rect x="746.53" y="239.55" width="15.87" height="15.75" fill="#a8d0e1"/>
<rect x="762.1" y="239.55" width="15.86" height="15.75" fill="#aed2e3"/>
<rect x="777.66" y="239.55" width="15.87" height="15.75" fill="#b0d4e4"/>
<rect x="793.23" y="239.55" width="15.86" height="15.75" fill="#b5d7e6"/>
<rect x="808.79" y="239.55" width="15.86" height="15.75" fill="#c0dce9"/>
<rect x="824.35" y="239.55" width="15.87" height="15.75" fill="#cbe1ec"/>
<rect x="839.92" y="239.55" width="15.86" height="15.75" fill="#d4e6ef"/>
<rect x="855.48" y="239.55" width="15.87" height="15.75" fill="#dce9f2"/>
<rect x="871.05" y="239.55" width="15.86" height="15.75" fill="#e5ecf5"/>
<rect x="886.61" y="239.55" width="15.87" height="15.75" fill="#e7ebf4"/>
<rect x="902.18" y="239.55" width="15.86" height="15.75" fill="#e2e5f1"/>
<rect x="917.74" y="239.55" width="15.87" height="15.75" fill="#dedfee"/>
<rect x="933.31" y="239.55" width="15.86" height="15.75" fill="#d9d9ea"/>
<rect x="948.87" y="239.55" width="15.87" height="15.75" fill="#d3d3e6"/>
<rect x="964.44" y="239.55" width="15.86" height="15.75" fill="#d0d0e4"/>
<rect x="15" y="255" width="46.99" height="15.75" fill="#487aae"/>
<rect x="61.69" y="255" width="15.87" height="15.75" fill="#497bae"/>
<rect x="77.26" y="255" width="15.86" height="15.75" fill="#4b7daf"/>
<rect x="92.82" y="255" width="15.87" height="15.75" fill="#4d7eaf"/>
<rect x="108.39" y="255" width="15.86" height="15.75" fill="#4f80b0"/>
<rect x="123.95" y="255" width="15.87" height="15.75" fill="#5583b2"/>
<rect x="139.52" y="255" width="15.86" height="15.75" fill="#5a86b4"/>
<rect x="155.08" y="255" width="15.87" height="15.75" fill="#6089b6"/>
<rect x="170.65" y="255" width="15.86" height="15.75" fill="#668db8"/>
<rect x="186.21" y="255" width="15.86" height="15.75" fill="#6b92b9"/>
<rect x="201.77" y="255" width="15.87" height="15.75" fill="#7396bc"/>
<rect x="217.34" y="255" width="15.86" height="15.75" fill="#7c9abf"/>
<rect x="232.9" y="255" width="15.87" height="15.75" fill="#88a2c5"/>
<rect x="248.47" y="255" width="15.86" height="15.75" fill="#94aaca"/>
<rect x="264.03" y="255" width="15.87" height="15.75" fill="#9aaecd"/>
<rect x="279.6" y="255" width="15.86" height="15.75" fill="#99adcc"/>
<rect x="295.16" y="255" width="15.87" height="15.75" fill="#98abcc"/>
<rect x="310.73" y="255" width="15.86" height="15.75" fill="#96aaca"/>
<rect x="326.29" y="255" width="15.86" height="15.75" fill="#95a8ca"/>
<rect x="341.85" y="255" width="47" height="15.75" fill="#94a7c9"/>
<rect x="388.55" y="255" width="15.86" height="15.75" fill="#95a7c9"/>
<rect x="404.11" y="255" width="15.87" height="15.75" fill="#96a8ca"/>
<rect x="419.68" y="255" width="15.86" height="15.75" fill="#97a9cb"/>
<rect x="435.24" y="255" width="15.87" height="15.75" fill="#96a7ca"/>
<rect x="450.81" y="255" width="15.86" height="15.75" fill="#90a4c6"/>
<rect x="466.37" y="255" width="15.87" height="15.75" fill="#8da1c4"/>
<rect x="481.94" y="255" width="15.86" height="15.75" fill="#8a9fc3"/>
<rect x="497.5" y="255" width="15.86" height="15.75" fill="#889dc2"/>
<rect x="513.06" y="255" width="15.87" height="15.75" fill="#89a0c3"/>
<rect x="528.63" y="255" width="15.86" height="15.75" fill="#8da7c7"/>
<rect x="544.19" y="255" width="15.87" height="15.75" fill="#90afcb"/>
<rect x="559.76" y="255" width="15.86" height="15.75" fill="#94b6cf"/>
<rect x="575.32" y="255" width="15.87" height="15.75" fill="#98bbd3"/>
<rect x="590.89" y="255" width="15.86" height="15.75" fill="#9cc1d7"/>
<rect x="606.45" y="255" width="15.87" height="15.75" fill="#a0c6db"/>
<rect x="622.02" y="255" width="15.86" height="15.75" fill="#a6cade"/>
<rect x="637.58" y="255" width="15.87" height="15.75" fill="#accee0"/>
<rect x="653.15" y="255" width="15.86" height="15.75" fill="#b2d2e3"/>
<rect x="668.71" y="255" width="15.86" height="15.75" fill="#b5d4e4"/>
<rect x="684.27" y="255" width="15.87" height="15.75" fill="#b8d6e5"/>
<rect x="699.84" y="255" width="15.86" height="15.75" fill="#bdd9e7"/>
<rect x="715.4" y="255" width="15.87" height="15.75" fill="#c2dce9"/>
<rect x="730.97" y="255" width="15.86" height="15.75" fill="#c7dfeb"/>
<rect x="746.53" y="255" width="31.43" height="15.75" fill="#cae1ec"/>
<rect x="777.66" y="255" width="15.87" height="15.75" fill="#cee3ee"/>
<rect x="793.23" y="255" width="15.86" height="15.75" fill="#d7e8f0"/>
<rect x="808.79" y="255" width="15.86" height="15.75" fill="#e0edf4"/>
<rect x="824.35" y="255" width="15.87" height="15.75" fill="#e6f0f6"/>
<rect x="839.92" y="255" width="15.86" height="15.75" fill="#ebf0f7"/>
<rect x="855.48" y="255" width="15.87" height="15.75" fill="#f0f2f8"/>
<rect x="871.05" y="255" width="15.86" height="15.75" fill="#efeff7"/>
<rect x="886.61" y="255" width="15.87" height="15.75" fill="#eaeaf4"/>
<rect x="902.18" y="255" width="15.86" height="15.75" fill="#e4e4f1"/>
<rect x="917.74" y="255" width="15.87" height="15.75" fill="#d9d9ea"/>
<rect x="933.31" y="255" width="15.86" height="15.75" fill="#cacae1"/>
<rect x="948.87" y="255" width="15.87" height="15.75" fill="#bdbdda"/>
<rect x="964.44" y="255" width="15.86" height="15.75" fill="#b6b6d7"/>
<rect x="15" y="270.45" width="62.56" height="15.75" fill="#4a7eb0"/>
<rect x="77.26" y="270.45" width="15.86" height="15.75" fill="#4c80b1"/>
<rect x="92.82" y="270.45" width="15.87" height="15.75" fill="#5184b3"/>
<rect x="108.39" y="270.45" width="15.86" height="15.75" fill="#5588b6"/>
<rect x="123.95" y="270.45" width="15.87" height="15.75" fill="#5a8cb8"/>
<rect x="139.52" y="270.45" width="15.86" height="15.75" fill="#6794bb"/>
<rect x="155.08" y="270.45" width="15.87" height="15.75" fill="#749cbe"/>
<rect x="170.65" y="270.45" width="15.86" height="15.75" fill="#7ba1c1"/>
<rect x="186.21" y="270.45" width="15.86" height="15.75" fill="#7ea2c2"/>
<rect x="201.77" y="270.45" width="15.87" height="15.75" fill="#80a3c3"/>
<rect x="217.34" y="270.45" width="15.86" height="15.75" fill="#86a5c4"/>
<rect x="232.9" y="270.45" width="15.87" height="15.75" fill="#8ba8c6"/>
<rect x="248.47" y="270.45" width="15.86" height="15.75" fill="#91aac7"/>
<rect x="264.03" y="270.45" width="15.87" height="15.75" fill="#93aac8"/>
<rect x="279.6" y="270.45" width="15.86" height="15.75" fill="#91a8c7"/>
<rect x="295.16" y="270.45" width="15.87" height="15.75" fill="#90a6c7"/>
<rect x="310.73" y="270.45" width="15.86" height="15.75" fill="#8ea4c6"/>
<rect x="326.29" y="270.45" width="15.86" height="15.75" fill="#8da3c6"/>
<rect x="341.85" y="270.45" width="15.87" height="15.75" fill="#8da4c6"/>
<rect x="357.42" y="270.45" width="15.86" height="15.75" fill="#8ca4c5"/>
<rect x="372.98" y="270.45" width="78.13" height="15.75" fill="#8ca5c5"/>
<rect x="450.81" y="270.45" width="15.86" height="15.75" fill="#8ca4c5"/>
<rect x="466.37" y="270.45" width="15.87" height="15.75" fill="#8aa3c4"/>
<rect x="481.94" y="270.45" width="15.86" height="15.75" fill="#8aa1c3"/>
<rect x="497.5" y="270.45" width="15.86" height="15.75" fill="#88a0c2"/>
<rect x="513.06" y="270.45" width="15.87" height="15.75" fill="#8ba2c4"/>
<rect x="528.63" y="270.45" width="15.86" height="15.75" fill="#90aac8"/>
<rect x="544.19" y="270.45" width="15.87" height="15.75" fill="#95b0cc"/>
<rect x="559.76" y="270.45" width="15.86" height="15.75" fill="#9db8d1"/>
<rect x="575.32" y="270.45" width="15.87" height="15.75" fill="#a6c0d6"/>
<rect x="590.89" y="270.45" width="15.86" height="15.75" fill="#b6cee0"/>
<rect x="606.45" y="270.45" width="15.87" height="15.75" fill="#c2d7e5"/>
<rect x="622.02" y="270.45" width="15.86" height="15.75" fill="#ccdeea"/>
<rect x="637.58" y="270.45" width="15.87" height="15.75" fill="#d2e2ed"/>
<rect x="653.15" y="270.45" width="15.86" height="15.75" fill="#d8e7f0"/>
<rect x="668.71" y="270.45" width="15.86" height="15.75" fill="#ddeaf3"/>
<rect x="684.27" y="270.45" width="15.87" height="15.75" fill="#e2eef5"/>
<rect x="699.84" y="270.45" width="15.86" height="15.75" fill="#e5f0f6"/>
<rect x="715.4" y="270.45" width="15.87" height="15.75" fill="#e8f3f8"/>
<rect x="730.97" y="270.45" width="15.86" height="15.75" fill="#ebf5f9"/>
<rect x="746.53" y="270.45" width="15.87" height="15.75" fill="#eef7fb"/>
<rect x="762.1" y="270.45" width="15.86" height="15.75" fill="#f3f9fc"/>
<rect x="777.66" y="270.45" width="15.87" height="15.75" fill="#f8fcfd"/>
<rect x="793.23" y="270.45" width="15.86" height="15.75" fill="#fdfefe"/>
<rect x="808.79" y="270.45" width="15.86" height="15.75" fill="#fcfcfd"/>
<rect x="824.35" y="270.45" width="15.87" height="15.75" fill="#f6f5fa"/>
<rect x="839.92" y="270.45" width="15.86" height="15.75" fill="#f0eff7"/>
<rect x="855.48" y="270.45" width="15.87" height="15.75" fill="#e0e0ed"/>
<rect x="871.05" y="270.45" width="15.86" height="15.75" fill="#d2d4e5"/>
<rect x="886.61" y="270.45" width="15.87" height="15.75" fill="#c6ccdf"/>
<rect x="902.18" y="270.45" width="15.86" height="15.75" fill="#bac4d9"/>
<rect x="917.74" y="270.45" width="15.87" height="15.75" fill="#aebcd3"/>
<rect x="933.31" y="270.45" width="15.86" height="15.75" fill="#a2b3cd"/>
<rect x="948.87" y="270.45" width="15.87" height="15.75" fill="#94aac8"/>
<rect x="964.44" y="270.45" width="15.86" height="15.75" fill="#8ea5c5"/>
<rect x="186.21" y="285.9" width="31.43" height="15.75" fill="#8aaaca"/>
<rect x="217.34" y="285.9" width="15.86" height="15.75" fill="#8ca9c9"/>
<rect x="232.9" y="285.9" width="15.87" height="15.75" fill="#8fa9c8"/>
<rect x="248.47" y="285.9" width="15.86" height="15.75" fill="#91a8c7"/>
<rect x="264.03" y="285.9" width="15.87" height="15.75" fill="#90a6c6"/>
<rect x="279.6" y="285.9" width="15.86" height="15.75" fill="#8ca2c4"/>
<rect x="295.16" y="285.9" width="15.87" height="15.75" fill="#899fc2"/>
<rect x="310.73" y="285.9" width="15.86" height="15.75" fill="#859bc0"/>
<rect x="326.29" y="285.9" width="15.86" height="15.75" fill="#8299bf"/>
<rect x="341.85" y="285.9" width="15.87" height="15.75" fill="#8099be"/>
<rect x="357.42" y="285.9" width="15.86" height="15.75" fill="#7f9abe"/>
<rect x="372.98" y="285.9" width="15.87" height="15.75" fill="#7d9abd"/>
<rect x="388.55" y="285.9" width="78.12" height="15.75" fill="#7c9abd"/>
<rect x="466.37" y="285.9" width="15.87" height="15.75" fill="#7e9bbe"/>
<rect x="481.94" y="285.9" width="15.86" height="15.75" fill="#829ec0"/>
<rect x="497.5" y="285.9" width="15.86" height="15.75" fill="#86a0c2"/>
<rect x="513.06" y="285.9" width="15.87" height="15.75" fill="#8aa3c4"/>
<rect x="528.63" y="285.9" width="15.86" height="15.75" fill="#90a8c8"/>
<rect x="544.19" y="285.9" width="15.87" height="15.75" fill="#96aecb"/>
<rect x="559.76" y="285.9" width="15.86" height="15.75" fill="#9cb2ce"/>
<rect x="575.32" y="285.9" width="15.87" height="15.75" fill="#a8bcd4"/>
<rect x="590.89" y="285.9" width="15.86" height="15.75" fill="#b8c8dc"/>
<rect x="606.45" y="285.9" width="15.87" height="15.75" fill="#c0cee0"/>
<rect x="622.02" y="285.9" width="15.86" height="15.75" fill="#c8d5e5"/>
<rect x="637.58" y="285.9" width="15.87" height="15.75" fill="#cddae8"/>
<rect x="653.15" y="285.9" width="15.86" height="15.75" fill="#d2deeb"/>
<rect x="668.71" y="285.9" width="15.86" height="15.75" fill="#d7e3ee"/>
<rect x="684.27" y="285.9" width="15.87" height="15.75" fill="#dce6f1"/>
<rect x="699.84" y="285.9" width="15.86" height="15.75" fill="#e1e9f3"/>
<rect x="715.4" y="285.9" width="15.87" height="15.75" fill="#e5ecf5"/>
<rect x="730.97" y="285.9" width="15.86" height="15.75" fill="#eaeff7"/>
<rect x="746.53" y="285.9" width="15.87" height="15.75" fill="#edeff7"/>
<rect x="762.1" y="285.9" width="15.86" height="15.75" fill="#f0f0f6"/>
<rect x="777.66" y="285.9" width="15.87" height="15.75" fill="#f3f0f6"/>
<rect x="793.23" y="285.9" width="15.86" height="15.75" fill="#f0edf4"/>
<rect x="808.79" y="285.9" width="15.86" height="15.75" fill="#e7e6f0"/>
<rect x="824.35" y="285.9" width="15.87" height="15.75" fill="#dfe0ec"/>
<rect x="839.92" y="285.9" width="15.86" height="15.75" fill="#c5ccdf"/>
<rect x="855.48" y="285.9" width="15.87" height="15.75" fill="#b2bed5"/>
<rect x="871.05" y="285.9" width="15.86" height="15.75" fill="#a7b6d0"/>
<rect x="886.61" y="285.9" width="15.87" height="15.75" fill="#9caeca"/>
<rect x="902.18" y="285.9" width="15.86" height="15.75" fill="#95a9c7"/>
<rect x="917.74" y="285.9" width="15.87" height="15.75" fill="#8ea4c4"/>
<rect x="933.31" y="285.9" width="15.86" height="15.75" fill="#86a0c2"/>
<rect x="948.87" y="285.9" width="15.87" height="15.75" fill="#809cbf"/>
<rect x="964.44" y="285.9" width="15.86" height="15.75" fill="#7c9abe"/>
<rect x="186.21" y="301.35" width="15.86" height="15.75" fill="#9ab5d0"/>
<rect x="201.77" y="301.35" width="15.87" height="15.75" fill="#96accd"/>
<rect x="217.34" y="301.35" width="15.86" height="15.75" fill="#93a7cb"/>
<rect x="232.9" y="301.35" width="15.87" height="15.75" fill="#90a6c8"/>
<rect x="248.47" y="301.35" width="15.86" height="15.75" fill="#8ea5c6"/>
<rect x="264.03" y="301.35" width="15.87" height="15.75" fill="#8aa1c4"/>
<rect x="279.6" y="301.35" width="15.86" height="15.75" fill="#859ec1"/>
<rect x="295.16" y="301.35" width="15.87" height="15.75" fill="#819abf"/>
<rect x="310.73" y="301.35" width="15.86" height="15.75" fill="#7c96bd"/>
<rect x="326.29" y="301.35" width="15.86" height="15.75" fill="#7793ba"/>
<rect x="341.85" y="301.35" width="15.87" height="15.75" fill="#728fb7"/>
<rect x="357.42" y="301.35" width="15.86" height="15.75" fill="#6d8cb4"/>
<rect x="372.98" y="301.35" width="62.56" height="15.75" fill="#6a8ab3"/>
<rect x="435.24" y="301.35" width="31.43" height="15.75" fill="#6c8cb4"/>
<rect x="466.37" y="301.35" width="15.87" height="15.75" fill="#6e8eb5"/>
<rect x="481.94" y="301.35" width="15.86" height="15.75" fill="#708fb6"/>
<rect x="497.5" y="301.35" width="15.86" height="15.75" fill="#7392b8"/>
<rect x="513.06" y="301.35" width="15.87" height="15.75" fill="#7795ba"/>
<rect x="528.63" y="301.35" width="15.86" height="15.75" fill="#7a98bc"/>
<rect x="544.19" y="301.35" width="15.87" height="15.75" fill="#7d98bd"/>
<rect x="559.76" y="301.35" width="15.86" height="15.75" fill="#8099be"/>
<rect x="575.32" y="301.35" width="15.87" height="15.75" fill="#869ec2"/>
<rect x="590.89" y="301.35" width="15.86" height="15.75" fill="#8ba2c5"/>
<rect x="606.45" y="301.35" width="15.87" height="15.75" fill="#92a8c8"/>
<rect x="622.02" y="301.35" width="15.86" height="15.75" fill="#9caece"/>
<rect x="637.58" y="301.35" width="15.87" height="15.75" fill="#a3b5d2"/>
<rect x="653.15" y="301.35" width="15.86" height="15.75" fill="#aabbd6"/>
<rect x="668.71" y="301.35" width="15.86" height="15.75" fill="#b1c1da"/>
<rect x="684.27" y="301.35" width="31.43" height="15.75" fill="#b4c4dc"/>
<rect x="715.4" y="301.35" width="15.87" height="15.75" fill="#b7c6dd"/>
<rect x="730.97" y="301.35" width="15.86" height="15.75" fill="#bdc9df"/>
<rect x="746.53" y="301.35" width="15.87" height="15.75" fill="#c3cde1"/>
<rect x="762.1" y="301.35" width="15.86" height="15.75" fill="#c9d0e3"/>
<rect x="777.66" y="301.35" width="15.87" height="15.75" fill="#cad0e3"/>
<rect x="793.23" y="301.35" width="15.86" height="15.75" fill="#c6cde0"/>
<rect x="808.79" y="301.35" width="15.86" height="15.75" fill="#c2cadd"/>
<rect x="824.35" y="301.35" width="15.87" height="15.75" fill="#bac3d9"/>
<rect x="839.92" y="301.35" width="15.86" height="15.75" fill="#adb8d2"/>
<rect x="855.48" y="301.35" width="15.87" height="15.75" fill="#a0aecb"/>
<rect x="871.05" y="301.35" width="15.86" height="15.75" fill="#99a8c8"/>
<rect x="886.61" y="301.35" width="15.87" height="15.75" fill="#91a2c5"/>
<rect x="902.18" y="301.35" width="15.86" height="15.75" fill="#8a9cc2"/>
<rect x="917.74" y="301.35" width="15.87" height="15.75" fill="#7f97bd"/>
<rect x="933.31" y="301.35" width="15.86" height="15.75" fill="#7591b9"/>
<rect x="948.87" y="301.35" width="31.43" height="15.75" fill="#6a8cb4"/>
<rect x="341.85" y="316.8" width="171.51" height="15.75" fill="#6586ae"/>
<rect x="513.06" y="316.8" width="15.87" height="15.75" fill="#6686ae"/>
<rect x="528.63" y="316.8" width="15.86" height="15.75" fill="#6788af"/>
<rect x="544.19" y="316.8" width="15.87" height="15.75" fill="#6888b0"/>
<rect x="559.76" y="316.8" width="15.86" height="15.75" fill="#698ab1"/>
<rect x="575.32" y="316.8" width="15.87" height="15.75" fill="#6a8ab1"/>
<rect x="590.89" y="316.8" width="15.86" height="15.75" fill="#6d8cb3"/>
<rect x="606.45" y="316.8" width="15.87" height="15.75" fill="#7390b6"/>
<rect x="622.02" y="316.8" width="15.86" height="15.75" fill="#7894b9"/>
<rect x="637.58" y="316.8" width="15.87" height="15.75" fill="#7e98bc"/>
<rect x="653.15" y="316.8" width="15.86" height="15.75" fill="#879ec1"/>
<rect x="668.71" y="316.8" width="15.86" height="15.75" fill="#90a5c6"/>
<rect x="684.27" y="316.8" width="15.87" height="15.75" fill="#96aac9"/>
<rect x="699.84" y="316.8" width="15.86" height="15.75" fill="#9aaecc"/>
<rect x="715.4" y="316.8" width="15.87" height="15.75" fill="#9eb2ce"/>
<rect x="730.97" y="316.8" width="46.99" height="15.75" fill="#a0b4cf"/>
<rect x="777.66" y="316.8" width="15.87" height="15.75" fill="#9db2cd"/>
<rect x="793.23" y="316.8" width="15.86" height="15.75" fill="#98aeca"/>
<rect x="808.79" y="316.8" width="15.86" height="15.75" fill="#93a9c7"/>
<rect x="824.35" y="316.8" width="15.87" height="15.75" fill="#8ea5c4"/>
<rect x="839.92" y="316.8" width="15.86" height="15.75" fill="#89a0c2"/>
<rect x="855.48" y="316.8" width="15.87" height="15.75" fill="#859bbf"/>
<rect x="871.05" y="316.8" width="15.86" height="15.75" fill="#8096bd"/>
<rect x="886.61" y="316.8" width="15.87" height="15.75" fill="#7c91bb"/>
<rect x="902.18" y="316.8" width="15.86" height="15.75" fill="#788dba"/>
<rect x="917.74" y="316.8" width="15.87" height="15.75" fill="#7488b8"/>
<rect x="933.31" y="316.8" width="15.86" height="15.75" fill="#6e88b5"/>
<rect x="948.87" y="316.8" width="15.87" height="15.75" fill="#6787b2"/>
<rect x="964.44" y="316.8" width="15.86" height="15.75" fill="#6487b0"/>
<rect x="341.85" y="332.25" width="202.64" height="15.75" fill="#6585ad"/>
<rect x="544.19" y="332.25" width="78.13" height="15.75" fill="#6686ac"/>
<rect x="622.02" y="332.25" width="15.86" height="15.75" fill="#6787ad"/>
<rect x="637.58" y="332.25" width="15.87" height="15.75" fill="#6989af"/>
<rect x="653.15" y="332.25" width="15.86" height="15.75" fill="#6b8bb1"/>
<rect x="668.71" y="332.25" width="15.86" height="15.75" fill="#6d8db3"/>
<rect x="684.27" y="332.25" width="15.87" height="15.75" fill="#6e8eb4"/>
<rect x="699.84" y="332.25" width="31.43" height="15.75" fill="#7090b5"/>
<rect x="730.97" y="332.25" width="78.12" height="15.75" fill="#7292b6"/>
<rect x="808.79" y="332.25" width="15.86" height="15.75" fill="#7191b5"/>
<rect x="824.35" y="332.25" width="15.87" height="15.75" fill="#6e8eb4"/>
<rect x="839.92" y="332.25" width="15.86" height="15.75" fill="#6c8cb2"/>
<rect x="855.48" y="332.25" width="15.87" height="15.75" fill="#6989b1"/>
<rect x="871.05" y="332.25" width="31.43" height="15.75" fill="#6888b0"/>
<rect x="902.18" y="332.25" width="15.86" height="15.75" fill="#6788af"/>
<rect x="917.74" y="332.25" width="15.87" height="15.75" fill="#6587ae"/>
<rect x="933.31" y="332.25" width="15.86" height="15.75" fill="#6486ad"/>
<rect x="948.87" y="332.25" width="31.43" height="15.75" fill="#6285ac"/>
<rect x="528.63" y="347.7" width="171.51" height="15.75" fill="#6384ab"/>
<rect x="699.84" y="347.7" width="15.86" height="15.75" fill="#6284ab"/>
<rect x="715.4" y="347.7" width="15.87" height="15.75" fill="#6183ab"/>
<rect x="730.97" y="347.7" width="109.25" height="15.75" fill="#6083ab"/>
<rect x="839.92" y="347.7" width="140.38" height="15.75" fill="#5f82aa"/>
<rect x="528.63" y="363.15" width="171.51" height="15.75" fill="#6384ab"/>
<rect x="699.84" y="363.15" width="15.86" height="15.75" fill="#6284ab"/>
<rect x="715.4" y="363.15" width="15.87" height="15.75" fill="#6183ab"/>
<rect x="730.97" y="363.15" width="109.25" height="15.75" fill="#6083ab"/>
<rect x="839.92" y="363.15" width="140.38" height="15.75" fill="#5f82aa"/>
<rect x="715.4" y="378.6" width="93.69" height="15.75" fill="#6384ab"/>
<rect x="808.79" y="378.6" width="15.86" height="15.75" fill="#6283ab"/>
<rect x="824.35" y="378.6" width="15.87" height="15.75" fill="#6082aa"/>
<rect x="839.92" y="378.6" width="15.86" height="15.75" fill="#5e81a9"/>
<rect x="855.48" y="378.6" width="15.87" height="15.75" fill="#5c80a8"/>
<rect x="871.05" y="378.6" width="31.43" height="15.75" fill="#5b7fa8"/>
<rect x="902.18" y="378.6" width="15.86" height="15.75" fill="#5c7fa8"/>
<rect x="917.74" y="378.6" width="15.87" height="15.75" fill="#5d80a9"/>
<rect x="933.31" y="378.6" width="15.86" height="15.75" fill="#5f81a9"/>
<rect x="948.87" y="378.6" width="31.43" height="15.75" fill="#6082aa"/>
<rect x="715.4" y="394.05" width="93.69" height="15.75" fill="#6384ab"/>
<rect x="808.79" y="394.05" width="15.86" height="15.75" fill="#6283ab"/>
<rect x="824.35" y="394.05" width="15.87" height="15.75" fill="#6082aa"/>
<rect x="839.92" y="394.05" width="15.86" height="15.75" fill="#5e81a9"/>
<rect x="855.48" y="394.05" width="15.87" height="15.75" fill="#5c80a8"/>
<rect x="871.05" y="394.05" width="31.43" height="15.75" fill="#5b7fa8"/>
<rect x="902.18" y="394.05" width="15.86" height="15.75" fill="#5c7fa8"/>
<rect x="917.74" y="394.05" width="15.87" height="15.75" fill="#5d80a9"/>
<rect x="933.31" y="394.05" width="15.86" height="15.75" fill="#5f81a9"/>
<rect x="948.87" y="394.05" width="31.43" height="15.75" fill="#6082aa"/>
<rect x="871.05" y="409.5" width="109.25" height="16.8" fill="#6283aa"/>
<rect x="15" y="501" width="965.3" height="16.9" fill="#552499"/>
<rect x="15" y="517.6" width="965.3" height="15.75" fill="#552499"/>
<rect x="15" y="533.05" width="965.3" height="15.75" fill="#552499"/>
<rect x="15" y="548.5" width="965.3" height="15.75" fill="#552499"/>
<rect x="15" y="563.95" width="965.3" height="15.75" fill="#552499"/>
<rect x="15" y="579.4" width="965.3" height="15.75" fill="#552499"/>
<rect x="15" y="594.85" width="965.3" height="15.75" fill="#552499"/>
<rect x="15" y="610.3" width="965.3" height="15.75" fill="#552499"/>
<rect x="15" y="625.75" width="965.3" height="15.75" fill="#552499"/>
<rect x="15" y="641.2" width="373.85" height="15.75" fill="#552499"/>
<rect x="388.55" y="641.2" width="46.99" height="15.75" fill="#95487f"/>
<rect x="435.24" y="641.2" width="545.06" height="15.75" fill="#552499"/>
<rect x="15" y="656.65" width="358.28" height="15.75" fill="#552499"/>
<rect x="372.98" y="656.65" width="15.87" height="15.75" fill="#95487f"/>
<rect x="388.55" y="656.65" width="15.86" height="15.75" fill="#974a80"/>
<rect x="404.11" y="656.65" width="15.87" height="15.75" fill="#994b81"/>
<rect x="419.68" y="656.65" width="31.43" height="15.75" fill="#9a4c82"/>
<rect x="450.81" y="656.65" width="529.49" height="15.75" fill="#552499"/>
<rect x="15" y="672.1" width="327.15" height="15.75" fill="#552499"/>
<rect x="341.85" y="672.1" width="31.43" height="15.75" fill="#93467f"/>
<rect x="372.98" y="672.1" width="15.87" height="15.75" fill="#954880"/>
<rect x="388.55" y="672.1" width="15.86" height="15.75" fill="#974981"/>
<rect x="404.11" y="672.1" width="15.87" height="15.75" fill="#994b82"/>
<rect x="419.68" y="672.1" width="15.86" height="15.75" fill="#9a4c83"/>
<rect x="435.24" y="672.1" width="31.43" height="15.75" fill="#9b4d84"/>
<rect x="466.37" y="672.1" width="31.43" height="15.75" fill="#9c4e85"/>
<rect x="497.5" y="672.1" width="15.86" height="15.75" fill="#9d4f86"/>
<rect x="513.06" y="672.1" width="389.42" height="15.75" fill="#552499"/>
<rect x="902.18" y="672.1" width="15.86" height="15.75" fill="#a85899"/>
<rect x="917.74" y="672.1" width="15.87" height="15.75" fill="#a8589a"/>
<rect x="933.31" y="672.1" width="15.86" height="15.75" fill="#a55697"/>
<rect x="948.87" y="672.1" width="15.87" height="15.75" fill="#a25394"/>
<rect x="964.44" y="672.1" width="15.86" height="15.75" fill="#a05292"/>
<rect x="15" y="687.55" width="327.15" height="15.75" fill="#552499"/>
<rect x="341.85" y="687.55" width="78.13" height="15.75" fill="#95477f"/>
<rect x="419.68" y="687.55" width="15.86" height="15.75" fill="#94467e"/>
<rect x="435.24" y="687.55" width="15.87" height="15.75" fill="#91447e"/>
<rect x="450.81" y="687.55" width="15.86" height="15.75" fill="#8f417c"/>
<rect x="466.37" y="687.55" width="15.87" height="15.75" fill="#8c3f7c"/>
<rect x="481.94" y="687.55" width="46.99" height="15.75" fill="#8b3e7b"/>
<rect x="528.63" y="687.55" width="15.86" height="15.75" fill="#8c3f7c"/>
<rect x="544.19" y="687.55" width="15.87" height="15.75" fill="#8e407d"/>
<rect x="559.76" y="687.55" width="280.46" height="15.75" fill="#552499"/>
<rect x="839.92" y="687.55" width="15.86" height="15.75" fill="#ad6098"/>
<rect x="855.48" y="687.55" width="15.87" height="15.75" fill="#af6199"/>
<rect x="871.05" y="687.55" width="15.86" height="15.75" fill="#b0629a"/>
<rect x="886.61" y="687.55" width="15.87" height="15.75" fill="#b1639a"/>
<rect x="902.18" y="687.55" width="15.86" height="15.75" fill="#b1639b"/>
<rect x="917.74" y="687.55" width="15.87" height="15.75" fill="#b2649b"/>
<rect x="933.31" y="687.55" width="15.86" height="15.75" fill="#ac5e98"/>
<rect x="948.87" y="687.55" width="15.87" height="15.75" fill="#a75795"/>
<rect x="964.44" y="687.55" width="15.86" height="15.75" fill="#a45494"/>
<rect x="15" y="703" width="218.2" height="15.75" fill="#552499"/>
<rect x="232.9" y="703" width="62.56" height="15.75" fill="#a7679a"/>
<rect x="295.16" y="703" width="62.56" height="15.75" fill="#552499"/>
<rect x="357.42" y="703" width="62.56" height="15.75" fill="#93457f"/>
<rect x="419.68" y="703" width="15.86" height="15.75" fill="#92447e"/>
<rect x="435.24" y="703" width="15.87" height="15.75" fill="#8f427d"/>
<rect x="450.81" y="703" width="15.86" height="15.75" fill="#8d3f7c"/>
<rect x="466.37" y="703" width="15.87" height="15.75" fill="#8a3d7b"/>
<rect x="481.94" y="703" width="78.12" height="15.75" fill="#893c7a"/>
<rect x="559.76" y="703" width="15.86" height="15.75" fill="#8a3d7b"/>
<rect x="575.32" y="703" width="15.87" height="15.75" fill="#8d407d"/>
<rect x="590.89" y="703" width="187.07" height="15.75" fill="#552499"/>
<rect x="777.66" y="703" width="15.87" height="15.75" fill="#ac6097"/>
<rect x="793.23" y="703" width="15.86" height="15.75" fill="#af6399"/>
<rect x="808.79" y="703" width="15.86" height="15.75" fill="#b1649a"/>
<rect x="824.35" y="703" width="15.87" height="15.75" fill="#b2669b"/>
<rect x="839.92" y="703" width="15.86" height="15.75" fill="#b3669b"/>
<rect x="855.48" y="703" width="15.87" height="15.75" fill="#b4689c"/>
<rect x="871.05" y="703" width="15.86" height="15.75" fill="#b4679c"/>
<rect x="886.61" y="703" width="15.87" height="15.75" fill="#b3659b"/>
<rect x="902.18" y="703" width="15.86" height="15.75" fill="#b2639b"/>
<rect x="917.74" y="703" width="15.87" height="15.75" fill="#b1619a"/>
<rect x="933.31" y="703" width="15.86" height="15.75" fill="#ad5d98"/>
<rect x="948.87" y="703" width="15.87" height="15.75" fill="#a65694"/>
<rect x="964.44" y="703" width="15.86" height="15.75" fill="#a05090"/>
<rect x="15" y="718.45" width="187.07" height="15.75" fill="#552499"/>
<rect x="201.77" y="718.45" width="124.82" height="15.75" fill="#a7679a"/>
<rect x="326.29" y="718.45" width="78.12" height="15.75" fill="#552499"/>
<rect x="404.11" y="718.45" width="47" height="15.75" fill="#8c3e7b"/>
<rect x="450.81" y="718.45" width="15.86" height="15.75" fill="#8d3f7c"/>
<rect x="466.37" y="718.45" width="15.87" height="15.75" fill="#8d407c"/>
<rect x="481.94" y="718.45" width="46.99" height="15.75" fill="#8e417d"/>
<rect x="528.63" y="718.45" width="15.86" height="15.75" fill="#8f427d"/>
<rect x="544.19" y="718.45" width="15.87" height="15.75" fill="#92447e"/>
<rect x="559.76" y="718.45" width="15.86" height="15.75" fill="#94477f"/>
<rect x="575.32" y="718.45" width="15.87" height="15.75" fill="#964a80"/>
<rect x="590.89" y="718.45" width="15.86" height="15.75" fill="#994d84"/>
<rect x="606.45" y="718.45" width="15.87" height="15.75" fill="#9c5187"/>
<rect x="622.02" y="718.45" width="15.86" height="15.75" fill="#a0548c"/>
<rect x="637.58" y="718.45" width="15.87" height="15.75" fill="#a35890"/>
<rect x="653.15" y="718.45" width="15.86" height="15.75" fill="#a65b93"/>
<rect x="668.71" y="718.45" width="15.86" height="15.75" fill="#a95e95"/>
<rect x="684.27" y="718.45" width="15.87" height="15.75" fill="#ac6097"/>
<rect x="699.84" y="718.45" width="15.86" height="15.75" fill="#af6399"/>
<rect x="715.4" y="718.45" width="31.43" height="15.75" fill="#b0649a"/>
<rect x="746.53" y="718.45" width="15.87" height="15.75" fill="#b1649a"/>
<rect x="762.1" y="718.45" width="15.86" height="15.75" fill="#b3669b"/>
<rect x="777.66" y="718.45" width="15.87" height="15.75" fill="#b5669b"/>
<rect x="793.23" y="718.45" width="15.86" height="15.75" fill="#b7689c"/>
<rect x="808.79" y="718.45" width="15.86" height="15.75" fill="#b6669b"/>
<rect x="824.35" y="718.45" width="15.87" height="15.75" fill="#b3639a"/>
<rect x="839.92" y="718.45" width="15.86" height="15.75" fill="#b06099"/>
<rect x="855.48" y="718.45" width="15.87" height="15.75" fill="#ac5c97"/>
<rect x="871.05" y="718.45" width="15.86" height="15.75" fill="#a75895"/>
<rect x="886.61" y="718.45" width="15.87" height="15.75" fill="#a25493"/>
<rect x="902.18" y="718.45" width="15.86" height="15.75" fill="#9d4f8f"/>
<rect x="917.74" y="718.45" width="15.87" height="15.75" fill="#984a88"/>
<rect x="933.31" y="718.45" width="15.86" height="15.75" fill="#934582"/>
<rect x="948.87" y="718.45" width="15.87" height="15.75" fill="#8d407e"/>
<rect x="964.44" y="718.45" width="15.86" height="15.75" fill="#883c7c"/>
<rect x="15" y="733.9" width="171.51" height="15.75" fill="#bc6899"/>
<rect x="186.21" y="733.9" width="202.64" height="15.75" fill="#a7679a"/>
<rect x="388.55" y="733.9" width="78.12" height="15.75" fill="#552499"/>
<rect x="466.37" y="733.9" width="62.56" height="15.75" fill="#8c3e7b"/>
<rect x="528.63" y="733.9" width="15.86" height="15.75" fill="#8d3f7c"/>
<rect x="544.19" y="733.9" width="15.87" height="15.75" fill="#8e407c"/>
<rect x="559.76" y="733.9" width="15.86" height="15.75" fill="#8f427e"/>
<rect x="575.32" y="733.9" width="15.87" height="15.75" fill="#934680"/>
<rect x="590.89" y="733.9" width="15.86" height="15.75" fill="#994d86"/>
<rect x="606.45" y="733.9" width="15.87" height="15.75" fill="#9e528a"/>
<rect x="622.02" y="733.9" width="15.86" height="15.75" fill="#a3578e"/>
<rect x="637.58" y="733.9" width="15.87" height="15.75" fill="#a85c93"/>
<rect x="653.15" y="733.9" width="15.86" height="15.75" fill="#ab5f96"/>
<rect x="668.71" y="733.9" width="15.86" height="15.75" fill="#ae6197"/>
<rect x="684.27" y="733.9" width="15.87" height="15.75" fill="#b06399"/>
<rect x="699.84" y="733.9" width="15.86" height="15.75" fill="#b3659a"/>
<rect x="715.4" y="733.9" width="47" height="15.75" fill="#b4669b"/>
<rect x="762.1" y="733.9" width="15.86" height="15.75" fill="#b6689b"/>
<rect x="777.66" y="733.9" width="15.87" height="15.75" fill="#b6689c"/>
<rect x="793.23" y="733.9" width="15.86" height="15.75" fill="#b86a9c"/>
<rect x="808.79" y="733.9" width="15.86" height="15.75" fill="#b5679b"/>
<rect x="824.35" y="733.9" width="15.87" height="15.75" fill="#b06199"/>
<rect x="839.92" y="733.9" width="15.86" height="15.75" fill="#ab5b97"/>
<rect x="855.48" y="733.9" width="15.87" height="15.75" fill="#a55594"/>
<rect x="871.05" y="733.9" width="15.86" height="15.75" fill="#9e4e8f"/>
<rect x="886.61" y="733.9" width="15.87" height="15.75" fill="#98488a"/>
<rect x="902.18" y="733.9" width="15.86" height="15.75" fill="#934485"/>
<rect x="917.74" y="733.9" width="15.87" height="15.75" fill="#8d4081"/>
<rect x="933.31" y="733.9" width="15.86" height="15.75" fill="#883c7c"/>
<rect x="948.87" y="733.9" width="15.87" height="15.75" fill="#843a7a"/>
<rect x="964.44" y="733.9" width="15.86" height="15.75" fill="#803878"/>
<rect x="15" y="749.35" width="171.51" height="15.75" fill="#bc6899"/>
<rect x="186.21" y="749.35" width="218.2" height="15.75" fill="#a7679a"/>
<rect x="404.11" y="749.35" width="187.08" height="15.75" fill="#552499"/>
<rect x="590.89" y="749.35" width="15.86" height="15.75" fill="#8a3c7a"/>
<rect x="606.45" y="749.35" width="15.87" height="15.75" fill="#8c3e7c"/>
<rect x="622.02" y="749.35" width="15.86" height="15.75" fill="#914380"/>
<rect x="637.58" y="749.35" width="15.87" height="15.75" fill="#964884"/>
<rect x="653.15" y="749.35" width="15.86" height="15.75" fill="#994b87"/>
<rect x="668.71" y="749.35" width="15.86" height="15.75" fill="#9b4d88"/>
<rect x="684.27" y="749.35" width="15.87" height="15.75" fill="#9d4f8a"/>
<rect x="699.84" y="749.35" width="15.86" height="15.75" fill="#9f518b"/>
<rect x="715.4" y="749.35" width="47" height="15.75" fill="#a0528c"/>
<rect x="762.1" y="749.35" width="31.43" height="15.75" fill="#a1538d"/>
<rect x="793.23" y="749.35" width="15.86" height="15.75" fill="#a2548e"/>
<rect x="808.79" y="749.35" width="15.86" height="15.75" fill="#a0528c"/>
<rect x="824.35" y="749.35" width="15.87" height="15.75" fill="#9a4c88"/>
<rect x="839.92" y="749.35" width="15.86" height="15.75" fill="#964885"/>
<rect x="855.48" y="749.35" width="15.87" height="15.75" fill="#904281"/>
<rect x="871.05" y="749.35" width="15.86" height="15.75" fill="#8c3f7e"/>
<rect x="886.61" y="749.35" width="15.87" height="15.75" fill="#883c7c"/>
<rect x="902.18" y="749.35" width="15.86" height="15.75" fill="#843a79"/>
<rect x="917.74" y="749.35" width="15.87" height="15.75" fill="#803777"/>
<rect x="933.31" y="749.35" width="46.99" height="15.75" fill="#7e3676"/>
<rect x="15" y="764.8" width="327.15" height="15.75" fill="#bc6899"/>
<rect x="341.85" y="764.8" width="78.13" height="15.75" fill="#a7679a"/>
<rect x="419.68" y="764.8" width="31.43" height="15.75" fill="#552499"/>
<rect x="450.81" y="764.8" width="93.68" height="15.75" fill="#a7679a"/>
<rect x="544.19" y="764.8" width="78.13" height="15.75" fill="#552499"/>
<rect x="622.02" y="764.8" width="31.43" height="15.75" fill="#8c3e7c"/>
<rect x="653.15" y="764.8" width="15.86" height="15.75" fill="#8d3f7d"/>
<rect x="668.71" y="764.8" width="15.86" height="15.75" fill="#90427f"/>
<rect x="684.27" y="764.8" width="15.87" height="15.75" fill="#924481"/>
<rect x="699.84" y="764.8" width="15.86" height="15.75" fill="#954783"/>
<rect x="715.4" y="764.8" width="31.43" height="15.75" fill="#964884"/>
<rect x="746.53" y="764.8" width="15.87" height="15.75" fill="#964883"/>
<rect x="762.1" y="764.8" width="15.86" height="15.75" fill="#954782"/>
<rect x="777.66" y="764.8" width="15.87" height="15.75" fill="#954781"/>
<rect x="793.23" y="764.8" width="15.86" height="15.75" fill="#944680"/>
<rect x="808.79" y="764.8" width="15.86" height="15.75" fill="#92447e"/>
<rect x="824.35" y="764.8" width="15.87" height="15.75" fill="#8f427d"/>
<rect x="839.92" y="764.8" width="15.86" height="15.75" fill="#8b3e7c"/>
<rect x="855.48" y="764.8" width="15.87" height="15.75" fill="#883c7b"/>
<rect x="871.05" y="764.8" width="15.86" height="15.75" fill="#853979"/>
<rect x="886.61" y="764.8" width="15.87" height="15.75" fill="#823878"/>
<rect x="902.18" y="764.8" width="15.86" height="15.75" fill="#803677"/>
<rect x="917.74" y="764.8" width="15.87" height="15.75" fill="#7d3576"/>
<rect x="933.31" y="764.8" width="46.99" height="15.75" fill="#7c3475"/>
<rect x="15" y="780.25" width="327.15" height="15.75" fill="#bc6899"/>
<rect x="341.85" y="780.25" width="218.21" height="15.75" fill="#a7679a"/>
<rect x="559.76" y="780.25" width="218.2" height="15.75" fill="#552499"/>
<rect x="777.66" y="780.25" width="31.43" height="15.75" fill="#8a3c7b"/>
<rect x="808.79" y="780.25" width="15.86" height="15.75" fill="#893c7b"/>
<rect x="824.35" y="780.25" width="15.87" height="15.75" fill="#873a7b"/>
<rect x="839.92" y="780.25" width="15.86" height="15.75" fill="#853a7a"/>
<rect x="855.48" y="780.25" width="15.87" height="15.75" fill="#83387a"/>
<rect x="871.05" y="780.25" width="15.86" height="15.75" fill="#813879"/>
<rect x="886.61" y="780.25" width="15.87" height="15.75" fill="#803678"/>
<rect x="902.18" y="780.25" width="15.86" height="15.75" fill="#7e3677"/>
<rect x="917.74" y="780.25" width="15.87" height="15.75" fill="#7d3476"/>
<rect x="933.31" y="780.25" width="46.99" height="15.75" fill="#7c3475"/>
<rect x="15" y="795.7" width="513.93" height="15.75" fill="#bc6899"/>
<rect x="528.63" y="795.7" width="15.86" height="15.75" fill="#552499"/>
<rect x="544.19" y="795.7" width="15.87" height="15.75" fill="#a7679a"/>
<rect x="559.76" y="795.7" width="62.56" height="15.75" fill="#552499"/>
<rect x="622.02" y="795.7" width="46.99" height="15.75" fill="#a7679a"/>
<rect x="668.71" y="795.7" width="171.51" height="15.75" fill="#552499"/>
<rect x="839.92" y="795.7" width="140.38" height="15.75" fill="#7e3676"/>
<rect x="15" y="811.15" width="513.93" height="15.75" fill="#bc6899"/>
<rect x="528.63" y="811.15" width="93.69" height="15.75" fill="#552499"/>
<rect x="622.02" y="811.15" width="93.68" height="15.75" fill="#a7679a"/>
<rect x="715.4" y="811.15" width="249.34" height="15.75" fill="#552499"/>
<rect x="964.44" y="811.15" width="15.86" height="15.75" fill="#8a3c7c"/>
<rect x="15" y="826.6" width="700.7" height="15.75" fill="#bc6899"/>
<rect x="715.4" y="826.6" width="264.9" height="15.75" fill="#552499"/>
<rect x="15" y="842.05" width="700.7" height="15.75" fill="#bc6899"/>
<rect x="715.4" y="842.05" width="264.9" height="15.75" fill="#552499"/>
<rect x="15" y="857.5" width="856.35" height="16.8" fill="#bc6899"/>
<rect x="871.05" y="857.5" width="109.25" height="16.8" fill="#552499"/>
<rect x="15" y="949" width="155.95" height="16.9" fill="#ae5799"/>
<rect x="170.65" y="949" width="109.25" height="16.9" fill="#ad5699"/>
<rect x="279.6" y="949" width="15.86" height="16.9" fill="#ae5799"/>
<rect x="295.16" y="949" width="15.87" height="16.9" fill="#b0599a"/>
<rect x="310.73" y="949" width="15.86" height="16.9" fill="#b25b9b"/>
<rect x="326.29" y="949" width="15.86" height="16.9" fill="#b45d9c"/>
<rect x="341.85" y="949" width="93.69" height="16.9" fill="#b55e9c"/>
<rect x="435.24" y="949" width="15.87" height="16.9" fill="#b45d9c"/>
<rect x="450.81" y="949" width="15.86" height="16.9" fill="#b15a9b"/>
<rect x="466.37" y="949" width="15.87" height="16.9" fill="#af589a"/>
<rect x="481.94" y="949" width="15.86" height="16.9" fill="#ac5599"/>
<rect x="497.5" y="949" width="249.33" height="16.9" fill="#ab5499"/>
<rect x="746.53" y="949" width="15.87" height="16.9" fill="#ac5599"/>
<rect x="762.1" y="949" width="15.86" height="16.9" fill="#ae579a"/>
<rect x="777.66" y="949" width="15.87" height="16.9" fill="#b05a9b"/>
<rect x="793.23" y="949" width="15.86" height="16.9" fill="#b25c9c"/>
<rect x="808.79" y="949" width="62.56" height="16.9" fill="#b35d9c"/>
<rect x="871.05" y="949" width="15.86" height="16.9" fill="#b25c9c"/>
<rect x="886.61" y="949" width="15.87" height="16.9" fill="#af599b"/>
<rect x="902.18" y="949" width="15.86" height="16.9" fill="#ac569b"/>
<rect x="917.74" y="949" width="15.87" height="16.9" fill="#a9539a"/>
<rect x="933.31" y="949" width="46.99" height="16.9" fill="#a8529a"/>
<rect x="15" y="965.6" width="31.43" height="15.75" fill="#ae5899"/>
<rect x="46.13" y="965.6" width="31.43" height="15.75" fill="#af5899"/>
<rect x="77.26" y="965.6" width="15.86" height="15.75" fill="#b05999"/>
<rect x="92.82" y="965.6" width="15.87" height="15.75" fill="#af5899"/>
<rect x="108.39" y="965.6" width="31.43" height="15.75" fill="#ae5799"/>
<rect x="139.52" y="965.6" width="62.55" height="15.75" fill="#ad5699"/>
<rect x="201.77" y="965.6" width="78.13" height="15.75" fill="#ac5699"/>
<rect x="279.6" y="965.6" width="15.86" height="15.75" fill="#ae5799"/>
<rect x="295.16" y="965.6" width="15.87" height="15.75" fill="#b0599a"/>
<rect x="310.73" y="965.6" width="15.86" height="15.75" fill="#b25b9b"/>
<rect x="326.29" y="965.6" width="15.86" height="15.75" fill="#b45d9c"/>
<rect x="341.85" y="965.6" width="93.69" height="15.75" fill="#b55e9c"/>
<rect x="435.24" y="965.6" width="15.87" height="15.75" fill="#b45d9c"/>
<rect x="450.81" y="965.6" width="15.86" height="15.75" fill="#b15a9b"/>
<rect x="466.37" y="965.6" width="15.87" height="15.75" fill="#af589a"/>
<rect x="481.94" y="965.6" width="15.86" height="15.75" fill="#ac5599"/>
<rect x="497.5" y="965.6" width="31.43" height="15.75" fill="#ab5499"/>
<rect x="528.63" y="965.6" width="15.86" height="15.75" fill="#aa5499"/>
<rect x="544.19" y="965.6" width="15.87" height="15.75" fill="#aa5399"/>
<rect x="559.76" y="965.6" width="15.86" height="15.75" fill="#a95399"/>
<rect x="575.32" y="965.6" width="15.87" height="15.75" fill="#aa5399"/>
<rect x="590.89" y="965.6" width="15.86" height="15.75" fill="#aa5499"/>
<rect x="606.45" y="965.6" width="15.87" height="15.75" fill="#ab5499"/>
<rect x="622.02" y="965.6" width="15.86" height="15.75" fill="#ac5599"/>
<rect x="637.58" y="965.6" width="109.25" height="15.75" fill="#ac569a"/>
<rect x="746.53" y="965.6" width="15.87" height="15.75" fill="#ad569a"/>
<rect x="762.1" y="965.6" width="15.86" height="15.75" fill="#af589a"/>
<rect x="777.66" y="965.6" width="15.87" height="15.75" fill="#b05a9b"/>
<rect x="793.23" y="965.6" width="15.86" height="15.75" fill="#b25c9c"/>
<rect x="808.79" y="965.6" width="62.56" height="15.75" fill="#b35d9c"/>
<rect x="871.05" y="965.6" width="15.86" height="15.75" fill="#b15c9c"/>
<rect x="886.61" y="965.6" width="15.87" height="15.75" fill="#ae589b"/>
<rect x="902.18" y="965.6" width="15.86" height="15.75" fill="#ab569b"/>
<rect x="917.74" y="965.6" width="15.87" height="15.75" fill="#a8529a"/>
<rect x="933.31" y="965.6" width="46.99" height="15.75" fill="#a7519a"/>
<rect x="15" y="981.05" width="31.43" height="15.75" fill="#b0599a"/>
<rect x="46.13" y="981.05" width="15.86" height="15.75" fill="#b15a9a"/>
<rect x="61.69" y="981.05" width="15.87" height="15.75" fill="#b15b9a"/>
<rect x="77.26" y="981.05" width="15.86" height="15.75" fill="#b25c9a"/>
<rect x="92.82" y="981.05" width="15.87" height="15.75" fill="#b15a9a"/>
<rect x="108.39" y="981.05" width="15.86" height="15.75" fill="#af5899"/>
<rect x="123.95" y="981.05" width="15.87" height="15.75" fill="#ad5699"/>
<rect x="139.52" y="981.05" width="62.55" height="15.75" fill="#ac5599"/>
<rect x="201.77" y="981.05" width="78.13" height="15.75" fill="#ac5499"/>
<rect x="279.6" y="981.05" width="15.86" height="15.75" fill="#ad5699"/>
<rect x="295.16" y="981.05" width="15.87" height="15.75" fill="#af589a"/>
<rect x="310.73" y="981.05" width="15.86" height="15.75" fill="#b15a9b"/>
<rect x="326.29" y="981.05" width="15.86" height="15.75" fill="#b45d9c"/>
<rect x="341.85" y="981.05" width="93.69" height="15.75" fill="#b55e9c"/>
<rect x="435.24" y="981.05" width="15.87" height="15.75" fill="#b45d9c"/>
<rect x="450.81" y="981.05" width="15.86" height="15.75" fill="#b15a9b"/>
<rect x="466.37" y="981.05" width="15.87" height="15.75" fill="#af589a"/>
<rect x="481.94" y="981.05" width="15.86" height="15.75" fill="#ac5599"/>
<rect x="497.5" y="981.05" width="15.86" height="15.75" fill="#ab5499"/>
<rect x="513.06" y="981.05" width="15.87" height="15.75" fill="#aa5499"/>
<rect x="528.63" y="981.05" width="15.86" height="15.75" fill="#a95399"/>
<rect x="544.19" y="981.05" width="15.87" height="15.75" fill="#a85299"/>
<rect x="559.76" y="981.05" width="15.86" height="15.75" fill="#a65198"/>
<rect x="575.32" y="981.05" width="15.87" height="15.75" fill="#a75199"/>
<rect x="590.89" y="981.05" width="15.86" height="15.75" fill="#a95399"/>
<rect x="606.45" y="981.05" width="15.87" height="15.75" fill="#ab559a"/>
<rect x="622.02" y="981.05" width="15.86" height="15.75" fill="#ae579a"/>
<rect x="637.58" y="981.05" width="109.25" height="15.75" fill="#af589a"/>
<rect x="746.53" y="981.05" width="15.87" height="15.75" fill="#af599b"/>
<rect x="762.1" y="981.05" width="15.86" height="15.75" fill="#b05a9b"/>
<rect x="777.66" y="981.05" width="15.87" height="15.75" fill="#b15b9b"/>
<rect x="793.23" y="981.05" width="15.86" height="15.75" fill="#b25c9c"/>
<rect x="808.79" y="981.05" width="62.56" height="15.75" fill="#b35d9c"/>
<rect x="871.05" y="981.05" width="15.86" height="15.75" fill="#b15b9c"/>
<rect x="886.61" y="981.05" width="15.87" height="15.75" fill="#ad589b"/>
<rect x="902.18" y="981.05" width="15.86" height="15.75" fill="#aa549b"/>
<rect x="917.74" y="981.05" width="15.87" height="15.75" fill="#a6519a"/>
<rect x="933.31" y="981.05" width="46.99" height="15.75" fill="#a44f9a"/>
<rect x="15" y="996.5" width="31.43" height="15.75" fill="#b05a9a"/>
<rect x="46.13" y="996.5" width="15.86" height="15.75" fill="#b15a9a"/>
<rect x="61.69" y="996.5" width="31.43" height="15.75" fill="#b25c9a"/>
<rect x="92.82" y="996.5" width="15.87" height="15.75" fill="#b05a9a"/>
<rect x="108.39" y="996.5" width="15.86" height="15.75" fill="#ad579a"/>
<rect x="123.95" y="996.5" width="15.87" height="15.75" fill="#ab5599"/>
<rect x="139.52" y="996.5" width="31.43" height="15.75" fill="#aa5499"/>
<rect x="170.65" y="996.5" width="109.25" height="15.75" fill="#ab5499"/>
<rect x="279.6" y="996.5" width="15.86" height="15.75" fill="#ac5599"/>
<rect x="295.16" y="996.5" width="15.87" height="15.75" fill="#af589a"/>
<rect x="310.73" y="996.5" width="15.86" height="15.75" fill="#b15a9b"/>
<rect x="326.29" y="996.5" width="15.86" height="15.75" fill="#b45d9c"/>
<rect x="341.85" y="996.5" width="93.69" height="15.75" fill="#b55e9c"/>
<rect x="435.24" y="996.5" width="15.87" height="15.75" fill="#b45d9c"/>
<rect x="450.81" y="996.5" width="15.86" height="15.75" fill="#b15a9b"/>
<rect x="466.37" y="996.5" width="15.87" height="15.75" fill="#af589a"/>
<rect x="481.94" y="996.5" width="15.86" height="15.75" fill="#ad5699"/>
<rect x="497.5" y="996.5" width="15.86" height="15.75" fill="#ac5499"/>
<rect x="513.06" y="996.5" width="15.87" height="15.75" fill="#ab5499"/>
<rect x="528.63" y="996.5" width="15.86" height="15.75" fill="#aa5399"/>
<rect x="544.19" y="996.5" width="15.87" height="15.75" fill="#a85299"/>
<rect x="559.76" y="996.5" width="15.86" height="15.75" fill="#a75198"/>
<rect x="575.32" y="996.5" width="15.87" height="15.75" fill="#a75299"/>
<rect x="590.89" y="996.5" width="15.86" height="15.75" fill="#aa5499"/>
<rect x="606.45" y="996.5" width="15.87" height="15.75" fill="#ac569a"/>
<rect x="622.02" y="996.5" width="15.86" height="15.75" fill="#ae589a"/>
<rect x="637.58" y="996.5" width="109.25" height="15.75" fill="#af599a"/>
<rect x="746.53" y="996.5" width="15.87" height="15.75" fill="#b0599b"/>
<rect x="762.1" y="996.5" width="15.86" height="15.75" fill="#b05a9b"/>
<rect x="777.66" y="996.5" width="15.87" height="15.75" fill="#b15b9b"/>
<rect x="793.23" y="996.5" width="78.12" height="15.75" fill="#b25c9c"/>
<rect x="871.05" y="996.5" width="15.86" height="15.75" fill="#b05b9c"/>
<rect x="886.61" y="996.5" width="15.87" height="15.75" fill="#ad579b"/>
<rect x="902.18" y="996.5" width="15.86" height="15.75" fill="#a9549b"/>
<rect x="917.74" y="996.5" width="15.87" height="15.75" fill="#a6509a"/>
<rect x="933.31" y="996.5" width="46.99" height="15.75" fill="#a44e9a"/>
<rect x="15" y="1011.95" width="31.43" height="15.75" fill="#ae5899"/>
<rect x="46.13" y="1011.95" width="46.99" height="15.75" fill="#af5899"/>
<rect x="92.82" y="1011.95" width="15.87" height="15.75" fill="#ad5799"/>
<rect x="108.39" y="1011.95" width="15.86" height="15.75" fill="#ab5599"/>
<rect x="123.95" y="1011.95" width="15.87" height="15.75" fill="#a9549a"/>
<rect x="139.52" y="1011.95" width="15.86" height="15.75" fill="#a95499"/>
<rect x="155.08" y="1011.95" width="15.87" height="15.75" fill="#aa5499"/>
<rect x="170.65" y="1011.95" width="109.25" height="15.75" fill="#ab5499"/>
<rect x="279.6" y="1011.95" width="15.86" height="15.75" fill="#ad5699"/>
<rect x="295.16" y="1011.95" width="15.87" height="15.75" fill="#b0599a"/>
<rect x="310.73" y="1011.95" width="15.86" height="15.75" fill="#b25c9b"/>
<rect x="326.29" y="1011.95" width="15.86" height="15.75" fill="#b55f9c"/>
<rect x="341.85" y="1011.95" width="62.56" height="15.75" fill="#b7609c"/>
<rect x="404.11" y="1011.95" width="15.87" height="15.75" fill="#b6609c"/>
<rect x="419.68" y="1011.95" width="15.86" height="15.75" fill="#b65f9c"/>
<rect x="435.24" y="1011.95" width="15.87" height="15.75" fill="#b45e9c"/>
<rect x="450.81" y="1011.95" width="15.86" height="15.75" fill="#b25c9b"/>
<rect x="466.37" y="1011.95" width="15.87" height="15.75" fill="#b0599a"/>
<rect x="481.94" y="1011.95" width="15.86" height="15.75" fill="#ae5799"/>
<rect x="497.5" y="1011.95" width="31.43" height="15.75" fill="#ad5699"/>
<rect x="528.63" y="1011.95" width="15.86" height="15.75" fill="#ac5699"/>
<rect x="544.19" y="1011.95" width="15.87" height="15.75" fill="#ac5599"/>
<rect x="559.76" y="1011.95" width="31.43" height="15.75" fill="#ab5599"/>
<rect x="590.89" y="1011.95" width="15.86" height="15.75" fill="#ac5699"/>
<rect x="606.45" y="1011.95" width="15.87" height="15.75" fill="#ad5699"/>
<rect x="622.02" y="1011.95" width="15.86" height="15.75" fill="#ae5799"/>
<rect x="637.58" y="1011.95" width="46.99" height="15.75" fill="#ae589a"/>
<rect x="684.27" y="1011.95" width="15.87" height="15.75" fill="#af589a"/>
<rect x="699.84" y="1011.95" width="15.86" height="15.75" fill="#af599a"/>
<rect x="715.4" y="1011.95" width="47" height="15.75" fill="#b0599a"/>
<rect x="762.1" y="1011.95" width="31.43" height="15.75" fill="#b05a9b"/>
<rect x="793.23" y="1011.95" width="62.55" height="15.75" fill="#b15b9b"/>
<rect x="855.48" y="1011.95" width="15.87" height="15.75" fill="#b05a9b"/>
<rect x="871.05" y="1011.95" width="15.86" height="15.75" fill="#af599b"/>
<rect x="886.61" y="1011.95" width="15.87" height="15.75" fill="#ac569b"/>
<rect x="902.18" y="1011.95" width="15.86" height="15.75" fill="#a9539a"/>
<rect x="917.74" y="1011.95" width="15.87" height="15.75" fill="#a6519a"/>
<rect x="933.31" y="1011.95" width="46.99" height="15.75" fill="#a5509a"/>
<rect x="15" y="1027.4" width="93.69" height="15.75" fill="#ab5499"/>
<rect x="108.39" y="1027.4" width="171.51" height="15.75" fill="#ac5599"/>
<rect x="279.6" y="1027.4" width="15.86" height="15.75" fill="#ae5799"/>
<rect x="295.16" y="1027.4" width="15.87" height="15.75" fill="#b25b9a"/>
<rect x="310.73" y="1027.4" width="15.86" height="15.75" fill="#b6609b"/>
<rect x="326.29" y="1027.4" width="15.86" height="15.75" fill="#ba649c"/>
<rect x="341.85" y="1027.4" width="62.56" height="15.75" fill="#bc669c"/>
<rect x="404.11" y="1027.4" width="15.87" height="15.75" fill="#bb659c"/>
<rect x="419.68" y="1027.4" width="15.86" height="15.75" fill="#b8629c"/>
<rect x="435.24" y="1027.4" width="15.87" height="15.75" fill="#b6609c"/>
<rect x="450.81" y="1027.4" width="15.86" height="15.75" fill="#b45e9c"/>
<rect x="466.37" y="1027.4" width="15.87" height="15.75" fill="#b25c9a"/>
<rect x="481.94" y="1027.4" width="15.86" height="15.75" fill="#af599a"/>
<rect x="497.5" y="1027.4" width="171.51" height="15.75" fill="#ae5899"/>
<rect x="668.71" y="1027.4" width="15.86" height="15.75" fill="#af5999"/>
<rect x="684.27" y="1027.4" width="15.87" height="15.75" fill="#b15b9a"/>
<rect x="699.84" y="1027.4" width="15.86" height="15.75" fill="#b25c9b"/>
<rect x="715.4" y="1027.4" width="15.87" height="15.75" fill="#b45e9c"/>
<rect x="730.97" y="1027.4" width="15.86" height="15.75" fill="#b55f9c"/>
<rect x="746.53" y="1027.4" width="15.87" height="15.75" fill="#b45e9c"/>
<rect x="762.1" y="1027.4" width="15.86" height="15.75" fill="#b35d9c"/>
<rect x="777.66" y="1027.4" width="15.87" height="15.75" fill="#b25c9b"/>
<rect x="793.23" y="1027.4" width="15.86" height="15.75" fill="#b15b9b"/>
<rect x="808.79" y="1027.4" width="46.99" height="15.75" fill="#b05a9b"/>
<rect x="855.48" y="1027.4" width="15.87" height="15.75" fill="#af599b"/>
<rect x="871.05" y="1027.4" width="15.86" height="15.75" fill="#ac569b"/>
<rect x="886.61" y="1027.4" width="15.87" height="15.75" fill="#aa549a"/>
<rect x="902.18" y="1027.4" width="15.86" height="15.75" fill="#a7519a"/>
<rect x="917.74" y="1027.4" width="62.56" height="15.75" fill="#a6509a"/>
<rect x="15" y="1042.85" width="62.56" height="15.75" fill="#a8539a"/>
<rect x="77.26" y="1042.85" width="15.86" height="15.75" fill="#a9549a"/>
<rect x="92.82" y="1042.85" width="15.87" height="15.75" fill="#ab569a"/>
<rect x="108.39" y="1042.85" width="15.86" height="15.75" fill="#ad579a"/>
<rect x="123.95" y="1042.85" width="15.87" height="15.75" fill="#af599a"/>
<rect x="139.52" y="1042.85" width="31.43" height="15.75" fill="#b05a9a"/>
<rect x="170.65" y="1042.85" width="15.86" height="15.75" fill="#af599a"/>
<rect x="186.21" y="1042.85" width="15.86" height="15.75" fill="#ad579a"/>
<rect x="201.77" y="1042.85" width="15.87" height="15.75" fill="#ac569a"/>
<rect x="217.34" y="1042.85" width="15.86" height="15.75" fill="#aa549a"/>
<rect x="232.9" y="1042.85" width="47" height="15.75" fill="#a9539a"/>
<rect x="279.6" y="1042.85" width="15.86" height="15.75" fill="#ac569a"/>
<rect x="295.16" y="1042.85" width="15.87" height="15.75" fill="#b15c9b"/>
<rect x="310.73" y="1042.85" width="15.86" height="15.75" fill="#b7629b"/>
<rect x="326.29" y="1042.85" width="15.86" height="15.75" fill="#bc689c"/>
<rect x="341.85" y="1042.85" width="15.87" height="15.75" fill="#c16696"/>
<rect x="357.42" y="1042.85" width="15.86" height="15.75" fill="#c66590"/>
<rect x="372.98" y="1042.85" width="15.87" height="15.75" fill="#c75d8a"/>
<rect x="388.55" y="1042.85" width="15.86" height="15.75" fill="#c85483"/>
<rect x="404.11" y="1042.85" width="15.87" height="15.75" fill="#c75585"/>
<rect x="419.68" y="1042.85" width="15.86" height="15.75" fill="#c6608e"/>
<rect x="435.24" y="1042.85" width="15.87" height="15.75" fill="#c46a98"/>
<rect x="450.81" y="1042.85" width="15.86" height="15.75" fill="#bc669c"/>
<rect x="466.37" y="1042.85" width="15.87" height="15.75" fill="#b7619b"/>
<rect x="481.94" y="1042.85" width="15.86" height="15.75" fill="#b25c9a"/>
<rect x="497.5" y="1042.85" width="327.15" height="15.75" fill="#b05a9a"/>
<rect x="824.35" y="1042.85" width="15.87" height="15.75" fill="#ae589a"/>
<rect x="839.92" y="1042.85" width="15.86" height="15.75" fill="#ab569a"/>
<rect x="855.48" y="1042.85" width="15.87" height="15.75" fill="#a7529a"/>
<rect x="871.05" y="1042.85" width="15.86" height="15.75" fill="#a4509a"/>
<rect x="886.61" y="1042.85" width="93.69" height="15.75" fill="#a24e9a"/>
<rect x="15" y="1058.3" width="62.56" height="15.75" fill="#a9539a"/>
<rect x="77.26" y="1058.3" width="15.86" height="15.75" fill="#aa549a"/>
<rect x="92.82" y="1058.3" width="15.87" height="15.75" fill="#ac569a"/>
<rect x="108.39" y="1058.3" width="15.86" height="15.75" fill="#ad579a"/>
<rect x="123.95" y="1058.3" width="15.87" height="15.75" fill="#af599a"/>
<rect x="139.52" y="1058.3" width="31.43" height="15.75" fill="#b05a9a"/>
<rect x="170.65" y="1058.3" width="15.86" height="15.75" fill="#af599a"/>
<rect x="186.21" y="1058.3" width="15.86" height="15.75" fill="#ae589a"/>
<rect x="201.77" y="1058.3" width="15.87" height="15.75" fill="#ad579a"/>
<rect x="217.34" y="1058.3" width="15.86" height="15.75" fill="#ac569a"/>
<rect x="232.9" y="1058.3" width="47" height="15.75" fill="#ab559a"/>
<rect x="279.6" y="1058.3" width="15.86" height="15.75" fill="#ae589a"/>
<rect x="295.16" y="1058.3" width="15.87" height="15.75" fill="#b6609a"/>
<rect x="310.73" y="1058.3" width="15.86" height="15.75" fill="#bc669a"/>
<rect x="326.29" y="1058.3" width="15.86" height="15.75" fill="#c16898"/>
<rect x="341.85" y="1058.3" width="15.87" height="15.75" fill="#c36292"/>
<rect x="357.42" y="1058.3" width="15.86" height="15.75" fill="#c45988"/>
<rect x="372.98" y="1058.3" width="15.87" height="15.75" fill="#c44a78"/>
<rect x="388.55" y="1058.3" width="15.86" height="15.75" fill="#c44372"/>
<rect x="404.11" y="1058.3" width="15.87" height="15.75" fill="#c43c6c"/>
<rect x="419.68" y="1058.3" width="15.86" height="15.75" fill="#c64b7a"/>
<rect x="435.24" y="1058.3" width="15.87" height="15.75" fill="#c85a88"/>
<rect x="450.81" y="1058.3" width="15.86" height="15.75" fill="#bc689c"/>
<rect x="466.37" y="1058.3" width="15.87" height="15.75" fill="#b7629b"/>
<rect x="481.94" y="1058.3" width="15.86" height="15.75" fill="#b25d9a"/>
<rect x="497.5" y="1058.3" width="327.15" height="15.75" fill="#b05a9a"/>
<rect x="824.35" y="1058.3" width="15.87" height="15.75" fill="#ae599a"/>
<rect x="839.92" y="1058.3" width="15.86" height="15.75" fill="#ab569a"/>
<rect x="855.48" y="1058.3" width="15.87" height="15.75" fill="#a8539a"/>
<rect x="871.05" y="1058.3" width="15.86" height="15.75" fill="#a5509a"/>
<rect x="886.61" y="1058.3" width="93.69" height="15.75" fill="#a34f9a"/>
<rect x="15" y="1073.75" width="124.82" height="15.75" fill="#a8559a"/>
<rect x="139.52" y="1073.75" width="15.86" height="15.75" fill="#aa569a"/>
<rect x="155.08" y="1073.75" width="15.87" height="15.75" fill="#ad599b"/>
<rect x="170.65" y="1073.75" width="15.86" height="15.75" fill="#b05c9b"/>
<rect x="186.21" y="1073.75" width="15.86" height="15.75" fill="#b35f9c"/>
<rect x="201.77" y="1073.75" width="15.87" height="15.75" fill="#b4609c"/>
<rect x="217.34" y="1073.75" width="15.86" height="15.75" fill="#b35e9c"/>
<rect x="232.9" y="1073.75" width="15.87" height="15.75" fill="#b25e9b"/>
<rect x="248.47" y="1073.75" width="15.86" height="15.75" fill="#b15c9b"/>
<rect x="264.03" y="1073.75" width="15.87" height="15.75" fill="#b25e9b"/>
<rect x="279.6" y="1073.75" width="15.86" height="15.75" fill="#b6639c"/>
<rect x="295.16" y="1073.75" width="15.87" height="15.75" fill="#ba689c"/>
<rect x="310.73" y="1073.75" width="15.86" height="15.75" fill="#be6a9a"/>
<rect x="326.29" y="1073.75" width="15.86" height="15.75" fill="#c26894"/>
<rect x="341.85" y="1073.75" width="15.87" height="15.75" fill="#c4608b"/>
<rect x="357.42" y="1073.75" width="15.86" height="15.75" fill="#c4507e"/>
<rect x="372.98" y="1073.75" width="15.87" height="15.75" fill="#c23868"/>
<rect x="388.55" y="1073.75" width="15.86" height="15.75" fill="#c13161"/>
<rect x="404.11" y="1073.75" width="15.87" height="15.75" fill="#c02a5a"/>
<rect x="419.68" y="1073.75" width="15.86" height="15.75" fill="#c23a69"/>
<rect x="435.24" y="1073.75" width="15.87" height="15.75" fill="#c44a78"/>
<rect x="450.81" y="1073.75" width="15.86" height="15.75" fill="#c0689a"/>
<rect x="466.37" y="1073.75" width="15.87" height="15.75" fill="#ba639a"/>
<rect x="481.94" y="1073.75" width="15.86" height="15.75" fill="#b35e9b"/>
<rect x="497.5" y="1073.75" width="311.59" height="15.75" fill="#b05b9b"/>
<rect x="808.79" y="1073.75" width="15.86" height="15.75" fill="#af599b"/>
<rect x="824.35" y="1073.75" width="15.87" height="15.75" fill="#ac569c"/>
<rect x="839.92" y="1073.75" width="15.86" height="15.75" fill="#a9529c"/>
<rect x="855.48" y="1073.75" width="15.87" height="15.75" fill="#a9519c"/>
<rect x="871.05" y="1073.75" width="15.86" height="15.75" fill="#ac549c"/>
<rect x="886.61" y="1073.75" width="15.87" height="15.75" fill="#af579c"/>
<rect x="902.18" y="1073.75" width="78.12" height="15.75" fill="#b0589c"/>
<rect x="15" y="1089.2" width="46.99" height="15.75" fill="#9a4a9a"/>
<rect x="61.69" y="1089.2" width="15.87" height="15.75" fill="#9c4b9a"/>
<rect x="77.26" y="1089.2" width="15.86" height="15.75" fill="#9f4e9a"/>
<rect x="92.82" y="1089.2" width="15.87" height="15.75" fill="#a3519a"/>
<rect x="108.39" y="1089.2" width="15.86" height="15.75" fill="#a6549a"/>
<rect x="123.95" y="1089.2" width="15.87" height="15.75" fill="#a8559a"/>
<rect x="139.52" y="1089.2" width="15.86" height="15.75" fill="#aa579a"/>
<rect x="155.08" y="1089.2" width="15.87" height="15.75" fill="#ae5b9b"/>
<rect x="170.65" y="1089.2" width="15.86" height="15.75" fill="#b25f9b"/>
<rect x="186.21" y="1089.2" width="15.86" height="15.75" fill="#b6639c"/>
<rect x="201.77" y="1089.2" width="15.87" height="15.75" fill="#b8669c"/>
<rect x="217.34" y="1089.2" width="15.86" height="15.75" fill="#ba679c"/>
<rect x="232.9" y="1089.2" width="15.87" height="15.75" fill="#ba689c"/>
<rect x="248.47" y="1089.2" width="15.86" height="15.75" fill="#bc699c"/>
<rect x="264.03" y="1089.2" width="15.87" height="15.75" fill="#be6a9a"/>
<rect x="279.6" y="1089.2" width="15.86" height="15.75" fill="#c26997"/>
<rect x="295.16" y="1089.2" width="15.87" height="15.75" fill="#c66894"/>
<rect x="310.73" y="1089.2" width="15.86" height="15.75" fill="#c86490"/>
<rect x="326.29" y="1089.2" width="15.86" height="15.75" fill="#c65e8a"/>
<rect x="341.85" y="1089.2" width="15.87" height="15.75" fill="#c5517f"/>
<rect x="357.42" y="1089.2" width="15.86" height="15.75" fill="#c4406e"/>
<rect x="372.98" y="1089.2" width="15.87" height="15.75" fill="#c02a58"/>
<rect x="388.55" y="1089.2" width="15.86" height="15.75" fill="#bf2150"/>
<rect x="404.11" y="1089.2" width="15.87" height="15.75" fill="#bf2151"/>
<rect x="419.68" y="1089.2" width="15.86" height="15.75" fill="#c22c5a"/>
<rect x="435.24" y="1089.2" width="15.87" height="15.75" fill="#c43c6a"/>
<rect x="450.81" y="1089.2" width="15.86" height="15.75" fill="#c65c88"/>
<rect x="466.37" y="1089.2" width="15.87" height="15.75" fill="#c5618d"/>
<rect x="481.94" y="1089.2" width="15.86" height="15.75" fill="#c46692"/>
<rect x="497.5" y="1089.2" width="15.86" height="15.75" fill="#c46894"/>
<rect x="513.06" y="1089.2" width="15.87" height="15.75" fill="#c16695"/>
<rect x="528.63" y="1089.2" width="15.86" height="15.75" fill="#bb6297"/>
<rect x="544.19" y="1089.2" width="15.87" height="15.75" fill="#b55d99"/>
<rect x="559.76" y="1089.2" width="15.86" height="15.75" fill="#af599b"/>
<rect x="575.32" y="1089.2" width="249.33" height="15.75" fill="#ac579c"/>
<rect x="824.35" y="1089.2" width="15.87" height="15.75" fill="#ae599c"/>
<rect x="839.92" y="1089.2" width="15.86" height="15.75" fill="#b25c9c"/>
<rect x="855.48" y="1089.2" width="15.87" height="15.75" fill="#b6609c"/>
<rect x="871.05" y="1089.2" width="15.86" height="15.75" fill="#ba639c"/>
<rect x="886.61" y="1089.2" width="15.87" height="15.75" fill="#bd669b"/>
<rect x="902.18" y="1089.2" width="15.86" height="15.75" fill="#c0699a"/>
<rect x="917.74" y="1089.2" width="62.56" height="15.75" fill="#c26a9a"/>
<rect x="15" y="1104.65" width="31.43" height="15.75" fill="#8030a0"/>
<rect x="46.13" y="1104.65" width="15.86" height="15.75" fill="#8131a0"/>
<rect x="61.69" y="1104.65" width="15.87" height="15.75" fill="#84349f"/>
<rect x="77.26" y="1104.65" width="15.86" height="15.75" fill="#86369f"/>
<rect x="92.82" y="1104.65" width="15.87" height="15.75" fill="#89399e"/>
<rect x="108.39" y="1104.65" width="15.86" height="15.75" fill="#8c3c9e"/>
<rect x="123.95" y="1104.65" width="15.87" height="15.75" fill="#91419d"/>
<rect x="139.52" y="1104.65" width="15.86" height="15.75" fill="#95459d"/>
<rect x="155.08" y="1104.65" width="15.87" height="15.75" fill="#9a4a9c"/>
<rect x="170.65" y="1104.65" width="15.86" height="15.75" fill="#a0509c"/>
<rect x="186.21" y="1104.65" width="15.86" height="15.75" fill="#a5559c"/>
<rect x="201.77" y="1104.65" width="15.87" height="15.75" fill="#ad5c9c"/>
<rect x="217.34" y="1104.65" width="15.86" height="15.75" fill="#b8659c"/>
<rect x="232.9" y="1104.65" width="15.87" height="15.75" fill="#bd6196"/>
<rect x="248.47" y="1104.65" width="15.86" height="15.75" fill="#c25e8f"/>
<rect x="264.03" y="1104.65" width="15.87" height="15.75" fill="#c45c8b"/>
<rect x="279.6" y="1104.65" width="15.86" height="15.75" fill="#c55b88"/>
<rect x="295.16" y="1104.65" width="15.87" height="15.75" fill="#c65a86"/>
<rect x="310.73" y="1104.65" width="15.86" height="15.75" fill="#c6537f"/>
<rect x="326.29" y="1104.65" width="15.86" height="15.75" fill="#c54976"/>
<rect x="341.85" y="1104.65" width="15.87" height="15.75" fill="#c43c6a"/>
<rect x="357.42" y="1104.65" width="15.86" height="15.75" fill="#c02c5a"/>
<rect x="372.98" y="1104.65" width="15.87" height="15.75" fill="#be2250"/>
<rect x="388.55" y="1104.65" width="15.86" height="15.75" fill="#bd1747"/>
<rect x="404.11" y="1104.65" width="15.87" height="15.75" fill="#bc1242"/>
<rect x="419.68" y="1104.65" width="15.86" height="15.75" fill="#bd1646"/>
<rect x="435.24" y="1104.65" width="15.87" height="15.75" fill="#be1e4d"/>
<rect x="450.81" y="1104.65" width="15.86" height="15.75" fill="#bf2654"/>
<rect x="466.37" y="1104.65" width="15.87" height="15.75" fill="#c1315f"/>
<rect x="481.94" y="1104.65" width="15.86" height="15.75" fill="#c33f6d"/>
<rect x="497.5" y="1104.65" width="15.86" height="15.75" fill="#c44c7a"/>
<rect x="513.06" y="1104.65" width="15.87" height="15.75" fill="#c65684"/>
<rect x="528.63" y="1104.65" width="15.86" height="15.75" fill="#c4608e"/>
<rect x="544.19" y="1104.65" width="15.87" height="15.75" fill="#c26696"/>
<rect x="559.76" y="1104.65" width="15.86" height="15.75" fill="#bc669a"/>
<rect x="575.32" y="1104.65" width="15.87" height="15.75" fill="#b45f9a"/>
<rect x="590.89" y="1104.65" width="15.86" height="15.75" fill="#ac589a"/>
<rect x="606.45" y="1104.65" width="47" height="15.75" fill="#a8549a"/>
<rect x="653.15" y="1104.65" width="15.86" height="15.75" fill="#a7539a"/>
<rect x="668.71" y="1104.65" width="15.86" height="15.75" fill="#a6529a"/>
<rect x="684.27" y="1104.65" width="15.87" height="15.75" fill="#a5519a"/>
<rect x="699.84" y="1104.65" width="15.86" height="15.75" fill="#a4509a"/>
<rect x="715.4" y="1104.65" width="15.87" height="15.75" fill="#a6519a"/>
<rect x="730.97" y="1104.65" width="15.86" height="15.75" fill="#a7539b"/>
<rect x="746.53" y="1104.65" width="15.87" height="15.75" fill="#a9549b"/>
<rect x="762.1" y="1104.65" width="15.86" height="15.75" fill="#a9559b"/>
<rect x="777.66" y="1104.65" width="15.87" height="15.75" fill="#a8549b"/>
<rect x="793.23" y="1104.65" width="15.86" height="15.75" fill="#a7539c"/>
<rect x="808.79" y="1104.65" width="15.86" height="15.75" fill="#a6529c"/>
<rect x="824.35" y="1104.65" width="15.87" height="15.75" fill="#ad589d"/>
<rect x="839.92" y="1104.65" width="15.86" height="15.75" fill="#b45e9e"/>
<rect x="855.48" y="1104.65" width="15.87" height="15.75" fill="#bf679b"/>
<rect x="871.05" y="1104.65" width="15.86" height="15.75" fill="#c46695"/>
<rect x="886.61" y="1104.65" width="15.87" height="15.75" fill="#c65c8b"/>
<rect x="902.18" y="1104.65" width="15.86" height="15.75" fill="#c65383"/>
<rect x="917.74" y="1104.65" width="15.87" height="15.75" fill="#c54e7d"/>
<rect x="933.31" y="1104.65" width="15.86" height="15.75" fill="#c44977"/>
<rect x="948.87" y="1104.65" width="31.43" height="15.75" fill="#c44674"/>
<rect x="15" y="1120.1" width="31.43" height="15.75" fill="#6a1898"/>
<rect x="46.13" y="1120.1" width="15.86" height="15.75" fill="#6d1b99"/>
<rect x="61.69" y="1120.1" width="15.87" height="15.75" fill="#701f99"/>
<rect x="77.26" y="1120.1" width="15.86" height="15.75" fill="#73229a"/>
<rect x="92.82" y="1120.1" width="15.87" height="15.75" fill="#77279a"/>
<rect x="108.39" y="1120.1" width="15.86" height="15.75" fill="#7d2d9b"/>
<rect x="123.95" y="1120.1" width="15.87" height="15.75" fill="#82349b"/>
<rect x="139.52" y="1120.1" width="15.86" height="15.75" fill="#883a9c"/>
<rect x="155.08" y="1120.1" width="15.87" height="15.75" fill="#8e3f9b"/>
<rect x="170.65" y="1120.1" width="15.86" height="15.75" fill="#94459b"/>
<rect x="186.21" y="1120.1" width="15.86" height="15.75" fill="#9a4a9a"/>
<rect x="201.77" y="1120.1" width="15.87" height="15.75" fill="#a2529b"/>
<rect x="217.34" y="1120.1" width="15.86" height="15.75" fill="#aa5a9c"/>
<rect x="232.9" y="1120.1" width="15.87" height="15.75" fill="#b2609a"/>
<rect x="248.47" y="1120.1" width="15.86" height="15.75" fill="#bb6599"/>
<rect x="264.03" y="1120.1" width="15.87" height="15.75" fill="#c06896"/>
<rect x="279.6" y="1120.1" width="15.86" height="15.75" fill="#c26793"/>
<rect x="295.16" y="1120.1" width="15.87" height="15.75" fill="#c46690"/>
<rect x="310.73" y="1120.1" width="15.86" height="15.75" fill="#c65c86"/>
<rect x="326.29" y="1120.1" width="15.86" height="15.75" fill="#c64874"/>
<rect x="341.85" y="1120.1" width="15.87" height="15.75" fill="#c43260"/>
<rect x="357.42" y="1120.1" width="15.86" height="15.75" fill="#c02050"/>
<rect x="372.98" y="1120.1" width="15.87" height="15.75" fill="#be1545"/>
<rect x="388.55" y="1120.1" width="15.86" height="15.75" fill="#bb0a3a"/>
<rect x="404.11" y="1120.1" width="15.87" height="15.75" fill="#ba0434"/>
<rect x="419.68" y="1120.1" width="15.86" height="15.75" fill="#ba0737"/>
<rect x="435.24" y="1120.1" width="15.87" height="15.75" fill="#bc0c3c"/>
<rect x="450.81" y="1120.1" width="15.86" height="15.75" fill="#bc1242"/>
<rect x="466.37" y="1120.1" width="15.87" height="15.75" fill="#be1747"/>
<rect x="481.94" y="1120.1" width="15.86" height="15.75" fill="#be1d4d"/>
<rect x="497.5" y="1120.1" width="15.86" height="15.75" fill="#bf2352"/>
<rect x="513.06" y="1120.1" width="15.87" height="15.75" fill="#c02957"/>
<rect x="528.63" y="1120.1" width="15.86" height="15.75" fill="#c23463"/>
<rect x="544.19" y="1120.1" width="15.87" height="15.75" fill="#c64474"/>
<rect x="559.76" y="1120.1" width="15.86" height="15.75" fill="#c86090"/>
<rect x="575.32" y="1120.1" width="15.87" height="15.75" fill="#c06798"/>
<rect x="590.89" y="1120.1" width="15.86" height="15.75" fill="#bb699c"/>
<rect x="606.45" y="1120.1" width="15.87" height="15.75" fill="#ba679c"/>
<rect x="622.02" y="1120.1" width="15.86" height="15.75" fill="#b9659c"/>
<rect x="637.58" y="1120.1" width="15.87" height="15.75" fill="#b8649c"/>
<rect x="653.15" y="1120.1" width="15.86" height="15.75" fill="#b8659c"/>
<rect x="668.71" y="1120.1" width="15.86" height="15.75" fill="#ba669c"/>
<rect x="684.27" y="1120.1" width="15.87" height="15.75" fill="#ba689c"/>
<rect x="699.84" y="1120.1" width="15.86" height="15.75" fill="#bc699c"/>
<rect x="715.4" y="1120.1" width="31.43" height="15.75" fill="#bc6a9c"/>
<rect x="746.53" y="1120.1" width="15.87" height="15.75" fill="#bd6a9b"/>
<rect x="762.1" y="1120.1" width="15.86" height="15.75" fill="#c06a99"/>
<rect x="777.66" y="1120.1" width="15.87" height="15.75" fill="#c36a97"/>
<rect x="793.23" y="1120.1" width="15.86" height="15.75" fill="#c46692"/>
<rect x="808.79" y="1120.1" width="15.86" height="15.75" fill="#c65e8c"/>
<rect x="824.35" y="1120.1" width="15.87" height="15.75" fill="#c65684"/>
<rect x="839.92" y="1120.1" width="15.86" height="15.75" fill="#c64f7d"/>
<rect x="855.48" y="1120.1" width="15.87" height="15.75" fill="#c64876"/>
<rect x="871.05" y="1120.1" width="15.86" height="15.75" fill="#c5416f"/>
<rect x="886.61" y="1120.1" width="15.87" height="15.75" fill="#c43967"/>
<rect x="902.18" y="1120.1" width="15.86" height="15.75" fill="#c33260"/>
<rect x="917.74" y="1120.1" width="62.56" height="15.75" fill="#c22e5c"/>
<rect x="15" y="1135.55" width="124.82" height="15.75" fill="#6c1a99"/>
<rect x="139.52" y="1135.55" width="15.86" height="15.75" fill="#6e1c99"/>
<rect x="155.08" y="1135.55" width="15.87" height="15.75" fill="#722099"/>
<rect x="170.65" y="1135.55" width="15.86" height="15.75" fill="#76249a"/>
<rect x="186.21" y="1135.55" width="15.86" height="15.75" fill="#7a289a"/>
<rect x="201.77" y="1135.55" width="15.87" height="15.75" fill="#82309a"/>
<rect x="217.34" y="1135.55" width="15.86" height="15.75" fill="#8a389a"/>
<rect x="232.9" y="1135.55" width="15.87" height="15.75" fill="#923e9a"/>
<rect x="248.47" y="1135.55" width="15.86" height="15.75" fill="#9a459a"/>
<rect x="264.03" y="1135.55" width="15.87" height="15.75" fill="#a14d9b"/>
<rect x="279.6" y="1135.55" width="15.86" height="15.75" fill="#a8559c"/>
<rect x="295.16" y="1135.55" width="15.87" height="15.75" fill="#bc6a9c"/>
<rect x="310.73" y="1135.55" width="15.86" height="15.75" fill="#c46794"/>
<rect x="326.29" y="1135.55" width="15.86" height="15.75" fill="#c75a86"/>
<rect x="341.85" y="1135.55" width="15.87" height="15.75" fill="#c54570"/>
<rect x="357.42" y="1135.55" width="15.86" height="15.75" fill="#c2315e"/>
<rect x="372.98" y="1135.55" width="15.87" height="15.75" fill="#c0204e"/>
<rect x="388.55" y="1135.55" width="15.86" height="15.75" fill="#bc0e3d"/>
<rect x="404.11" y="1135.55" width="15.87" height="15.75" fill="#bb0535"/>
<rect x="419.68" y="1135.55" width="15.86" height="15.75" fill="#bb0737"/>
<rect x="435.24" y="1135.55" width="15.87" height="15.75" fill="#bc0b3a"/>
<rect x="450.81" y="1135.55" width="15.86" height="15.75" fill="#bc0e3d"/>
<rect x="466.37" y="1135.55" width="15.87" height="15.75" fill="#bd1240"/>
<rect x="481.94" y="1135.55" width="31.42" height="15.75" fill="#bd1442"/>
<rect x="513.06" y="1135.55" width="15.87" height="15.75" fill="#be1a47"/>
<rect x="528.63" y="1135.55" width="15.86" height="15.75" fill="#bf2552"/>
<rect x="544.19" y="1135.55" width="15.87" height="15.75" fill="#c0305c"/>
<rect x="559.76" y="1135.55" width="15.86" height="15.75" fill="#c4416f"/>
<rect x="575.32" y="1135.55" width="15.87" height="15.75" fill="#c64f7d"/>
<rect x="590.89" y="1135.55" width="15.86" height="15.75" fill="#c65a86"/>
<rect x="606.45" y="1135.55" width="15.87" height="15.75" fill="#c66590"/>
<rect x="622.02" y="1135.55" width="15.86" height="15.75" fill="#c7638d"/>
<rect x="637.58" y="1135.55" width="15.87" height="15.75" fill="#c7628b"/>
<rect x="653.15" y="1135.55" width="15.86" height="15.75" fill="#c86088"/>
<rect x="668.71" y="1135.55" width="15.86" height="15.75" fill="#c85d85"/>
<rect x="684.27" y="1135.55" width="15.87" height="15.75" fill="#c85983"/>
<rect x="699.84" y="1135.55" width="15.86" height="15.75" fill="#c85680"/>
<rect x="715.4" y="1135.55" width="15.87" height="15.75" fill="#c8517c"/>
<rect x="730.97" y="1135.55" width="15.86" height="15.75" fill="#c74c77"/>
<rect x="746.53" y="1135.55" width="15.87" height="15.75" fill="#c64772"/>
<rect x="762.1" y="1135.55" width="15.86" height="15.75" fill="#c6416c"/>
<rect x="777.66" y="1135.55" width="15.87" height="15.75" fill="#c53b68"/>
<rect x="793.23" y="1135.55" width="15.86" height="15.75" fill="#c43562"/>
<rect x="808.79" y="1135.55" width="15.86" height="15.75" fill="#c42f5d"/>
<rect x="824.35" y="1135.55" width="15.87" height="15.75" fill="#c22a58"/>
<rect x="839.92" y="1135.55" width="15.86" height="15.75" fill="#c22452"/>
<rect x="855.48" y="1135.55" width="15.87" height="15.75" fill="#c01f4d"/>
<rect x="871.05" y="1135.55" width="15.86" height="15.75" fill="#c01c4a"/>
<rect x="886.61" y="1135.55" width="15.87" height="15.75" fill="#c01a48"/>
<rect x="902.18" y="1135.55" width="15.86" height="15.75" fill="#be1544"/>
<rect x="917.74" y="1135.55" width="15.87" height="15.75" fill="#be1140"/>
<rect x="933.31" y="1135.55" width="15.86" height="15.75" fill="#bc0c3c"/>
<rect x="948.87" y="1135.55" width="31.43" height="15.75" fill="#bc0a3a"/>
<rect x="15" y="1151" width="171.51" height="15.75" fill="#6a1499"/>
<rect x="186.21" y="1151" width="15.86" height="15.75" fill="#6d1799"/>
<rect x="201.77" y="1151" width="15.87" height="15.75" fill="#721c9a"/>
<rect x="217.34" y="1151" width="15.86" height="15.75" fill="#77219a"/>
<rect x="232.9" y="1151" width="15.87" height="15.75" fill="#7c269a"/>
<rect x="248.47" y="1151" width="15.86" height="15.75" fill="#822c9c"/>
<rect x="264.03" y="1151" width="15.87" height="15.75" fill="#88329d"/>
<rect x="279.6" y="1151" width="15.86" height="15.75" fill="#903c9f"/>
<rect x="295.16" y="1151" width="15.87" height="15.75" fill="#9d49a0"/>
<rect x="310.73" y="1151" width="15.86" height="15.75" fill="#b05a9f"/>
<rect x="326.29" y="1151" width="15.86" height="15.75" fill="#c0629a"/>
<rect x="341.85" y="1151" width="15.87" height="15.75" fill="#c34a7a"/>
<rect x="357.42" y="1151" width="15.86" height="15.75" fill="#c33763"/>
<rect x="372.98" y="1151" width="15.87" height="15.75" fill="#c02856"/>
<rect x="388.55" y="1151" width="15.86" height="15.75" fill="#be1a49"/>
<rect x="404.11" y="1151" width="109.25" height="15.75" fill="#bd1342"/>
<rect x="513.06" y="1151" width="15.87" height="15.75" fill="#be1745"/>
<rect x="528.63" y="1151" width="15.86" height="15.75" fill="#c01e4c"/>
<rect x="544.19" y="1151" width="15.87" height="15.75" fill="#c22652"/>
<rect x="559.76" y="1151" width="15.86" height="15.75" fill="#c4315e"/>
<rect x="575.32" y="1151" width="15.87" height="15.75" fill="#c53c6a"/>
<rect x="590.89" y="1151" width="15.86" height="15.75" fill="#c6406e"/>
<rect x="606.45" y="1151" width="15.87" height="15.75" fill="#c53c6a"/>
<rect x="622.02" y="1151" width="15.86" height="15.75" fill="#c53766"/>
<rect x="637.58" y="1151" width="15.87" height="15.75" fill="#c43362"/>
<rect x="653.15" y="1151" width="31.42" height="15.75" fill="#c43160"/>
<rect x="684.27" y="1151" width="15.87" height="15.75" fill="#c42f5e"/>
<rect x="699.84" y="1151" width="15.86" height="15.75" fill="#c22b5a"/>
<rect x="715.4" y="1151" width="15.87" height="15.75" fill="#c22856"/>
<rect x="730.97" y="1151" width="15.86" height="15.75" fill="#c02452"/>
<rect x="746.53" y="1151" width="15.87" height="15.75" fill="#c0204e"/>
<rect x="762.1" y="1151" width="15.86" height="15.75" fill="#bf1e4c"/>
<rect x="777.66" y="1151" width="15.87" height="15.75" fill="#bf1a48"/>
<rect x="793.23" y="1151" width="15.86" height="15.75" fill="#be1846"/>
<rect x="808.79" y="1151" width="15.86" height="15.75" fill="#be1443"/>
<rect x="824.35" y="1151" width="15.87" height="15.75" fill="#bd1240"/>
<rect x="839.92" y="1151" width="15.86" height="15.75" fill="#bc0e3e"/>
<rect x="855.48" y="1151" width="15.87" height="15.75" fill="#bb0c3b"/>
<rect x="871.05" y="1151" width="15.86" height="15.75" fill="#bb0939"/>
<rect x="886.61" y="1151" width="15.87" height="15.75" fill="#ba0838"/>
<rect x="902.18" y="1151" width="15.86" height="15.75" fill="#b90636"/>
<rect x="917.74" y="1151" width="15.87" height="15.75" fill="#b80535"/>
<rect x="933.31" y="1151" width="46.99" height="15.75" fill="#b80434"/>
<rect x="15" y="1166.45" width="187.07" height="15.75" fill="#6a1499"/>
<rect x="201.77" y="1166.45" width="15.87" height="15.75" fill="#6a1599"/>
<rect x="217.34" y="1166.45" width="15.86" height="15.75" fill="#6c1699"/>
<rect x="232.9" y="1166.45" width="15.87" height="15.75" fill="#6c189a"/>
<rect x="248.47" y="1166.45" width="15.86" height="15.75" fill="#6e199a"/>
<rect x="264.03" y="1166.45" width="15.87" height="15.75" fill="#6e1a9a"/>
<rect x="279.6" y="1166.45" width="15.86" height="15.75" fill="#721e9b"/>
<rect x="295.16" y="1166.45" width="15.87" height="15.75" fill="#7b269d"/>
<rect x="310.73" y="1166.45" width="15.86" height="15.75" fill="#842e9f"/>
<rect x="326.29" y="1166.45" width="15.86" height="15.75" fill="#903ba0"/>
<rect x="341.85" y="1166.45" width="15.87" height="15.75" fill="#a04ca0"/>
<rect x="357.42" y="1166.45" width="15.86" height="15.75" fill="#b35f9f"/>
<rect x="372.98" y="1166.45" width="15.87" height="15.75" fill="#be689c"/>
<rect x="388.55" y="1166.45" width="15.86" height="15.75" fill="#c26697"/>
<rect x="404.11" y="1166.45" width="15.87" height="15.75" fill="#c66692"/>
<rect x="419.68" y="1166.45" width="15.86" height="15.75" fill="#c8618d"/>
<rect x="435.24" y="1166.45" width="15.87" height="15.75" fill="#c75a86"/>
<rect x="450.81" y="1166.45" width="15.86" height="15.75" fill="#c7537f"/>
<rect x="466.37" y="1166.45" width="15.87" height="15.75" fill="#c64c78"/>
<rect x="481.94" y="1166.45" width="15.86" height="15.75" fill="#c54572"/>
<rect x="497.5" y="1166.45" width="15.86" height="15.75" fill="#c53f6b"/>
<rect x="513.06" y="1166.45" width="15.87" height="15.75" fill="#c43865"/>
<rect x="528.63" y="1166.45" width="15.86" height="15.75" fill="#c3315e"/>
<rect x="544.19" y="1166.45" width="15.87" height="15.75" fill="#c22957"/>
<rect x="559.76" y="1166.45" width="15.86" height="15.75" fill="#c12250"/>
<rect x="575.32" y="1166.45" width="31.43" height="15.75" fill="#c01e4d"/>
<rect x="606.45" y="1166.45" width="15.87" height="15.75" fill="#c01d4c"/>
<rect x="622.02" y="1166.45" width="15.86" height="15.75" fill="#bf1c4a"/>
<rect x="637.58" y="1166.45" width="15.87" height="15.75" fill="#bf1a49"/>
<rect x="653.15" y="1166.45" width="15.86" height="15.75" fill="#be1947"/>
<rect x="668.71" y="1166.45" width="15.86" height="15.75" fill="#be1745"/>
<rect x="684.27" y="1166.45" width="15.87" height="15.75" fill="#bd1543"/>
<rect x="699.84" y="1166.45" width="15.86" height="15.75" fill="#bd1342"/>
<rect x="715.4" y="1166.45" width="15.87" height="15.75" fill="#bc1140"/>
<rect x="730.97" y="1166.45" width="15.86" height="15.75" fill="#bb0e3d"/>
<rect x="746.53" y="1166.45" width="15.87" height="15.75" fill="#ba0b3a"/>
<rect x="762.1" y="1166.45" width="15.86" height="15.75" fill="#b90837"/>
<rect x="777.66" y="1166.45" width="202.64" height="15.75" fill="#b90636"/>
<rect x="15" y="1181.9" width="171.51" height="15.75" fill="#bc6899"/>
<rect x="186.21" y="1181.9" width="93.69" height="15.75" fill="#67129a"/>
<rect x="279.6" y="1181.9" width="15.86" height="15.75" fill="#66119a"/>
<rect x="295.16" y="1181.9" width="15.87" height="15.75" fill="#650e99"/>
<rect x="310.73" y="1181.9" width="15.86" height="15.75" fill="#630c99"/>
<rect x="326.29" y="1181.9" width="15.86" height="15.75" fill="#620998"/>
<rect x="341.85" y="1181.9" width="15.87" height="15.75" fill="#610898"/>
<rect x="357.42" y="1181.9" width="15.86" height="15.75" fill="#650d99"/>
<rect x="372.98" y="1181.9" width="15.87" height="15.75" fill="#6e169c"/>
<rect x="388.55" y="1181.9" width="15.86" height="15.75" fill="#77209e"/>
<rect x="404.11" y="1181.9" width="15.87" height="15.75" fill="#8d389f"/>
<rect x="419.68" y="1181.9" width="15.86" height="15.75" fill="#a04ea0"/>
<rect x="435.24" y="1181.9" width="15.87" height="15.75" fill="#b060a0"/>
<rect x="450.81" y="1181.9" width="15.86" height="15.75" fill="#bb6a9e"/>
<rect x="466.37" y="1181.9" width="15.87" height="15.75" fill="#c06999"/>
<rect x="481.94" y="1181.9" width="15.86" height="15.75" fill="#c66894"/>
<rect x="497.5" y="1181.9" width="15.86" height="15.75" fill="#c75e8c"/>
<rect x="513.06" y="1181.9" width="15.87" height="15.75" fill="#c85584"/>
<rect x="528.63" y="1181.9" width="15.86" height="15.75" fill="#c74c7c"/>
<rect x="544.19" y="1181.9" width="15.87" height="15.75" fill="#c64573"/>
<rect x="559.76" y="1181.9" width="15.86" height="15.75" fill="#c43e6a"/>
<rect x="575.32" y="1181.9" width="15.87" height="15.75" fill="#c33a66"/>
<rect x="590.89" y="1181.9" width="15.86" height="15.75" fill="#c23763"/>
<rect x="606.45" y="1181.9" width="15.87" height="15.75" fill="#c1305d"/>
<rect x="622.02" y="1181.9" width="15.86" height="15.75" fill="#c02957"/>
<rect x="637.58" y="1181.9" width="15.87" height="15.75" fill="#bf2251"/>
<rect x="653.15" y="1181.9" width="15.86" height="15.75" fill="#be1d4c"/>
<rect x="668.71" y="1181.9" width="15.86" height="15.75" fill="#bd1948"/>
<rect x="684.27" y="1181.9" width="15.87" height="15.75" fill="#bd1444"/>
<rect x="699.84" y="1181.9" width="15.86" height="15.75" fill="#bc1040"/>
<rect x="715.4" y="1181.9" width="15.87" height="15.75" fill="#bb0c3c"/>
<rect x="730.97" y="1181.9" width="15.86" height="15.75" fill="#ba0838"/>
<rect x="746.53" y="1181.9" width="15.87" height="15.75" fill="#b90434"/>
<rect x="762.1" y="1181.9" width="46.99" height="15.75" fill="#b80232"/>
<rect x="808.79" y="1181.9" width="15.86" height="15.75" fill="#b80333"/>
<rect x="824.35" y="1181.9" width="15.87" height="15.75" fill="#ba0535"/>
<rect x="839.92" y="1181.9" width="15.86" height="15.75" fill="#ba0737"/>
<rect x="855.48" y="1181.9" width="15.87" height="15.75" fill="#bc0939"/>
<rect x="871.05" y="1181.9" width="109.25" height="15.75" fill="#bc0a3a"/>
<rect x="15" y="1197.35" width="171.51" height="15.75" fill="#bc6899"/>
<rect x="186.21" y="1197.35" width="124.82" height="15.75" fill="#660e98"/>
<rect x="310.73" y="1197.35" width="15.86" height="15.75" fill="#660f98"/>
<rect x="326.29" y="1197.35" width="15.86" height="15.75" fill="#671098"/>
<rect x="341.85" y="1197.35" width="15.87" height="15.75" fill="#671298"/>
<rect x="357.42" y="1197.35" width="15.86" height="15.75" fill="#681398"/>
<rect x="372.98" y="1197.35" width="15.87" height="15.75" fill="#6b1799"/>
<rect x="388.55" y="1197.35" width="15.86" height="15.75" fill="#701d9b"/>
<rect x="404.11" y="1197.35" width="15.87" height="15.75" fill="#75229e"/>
<rect x="419.68" y="1197.35" width="15.86" height="15.75" fill="#7a28a0"/>
<rect x="435.24" y="1197.35" width="15.87" height="15.75" fill="#7f2da0"/>
<rect x="450.81" y="1197.35" width="15.86" height="15.75" fill="#8331a0"/>
<rect x="466.37" y="1197.35" width="15.87" height="15.75" fill="#8836a0"/>
<rect x="481.94" y="1197.35" width="15.86" height="15.75" fill="#8e3ca0"/>
<rect x="497.5" y="1197.35" width="15.86" height="15.75" fill="#9544a0"/>
<rect x="513.06" y="1197.35" width="15.87" height="15.75" fill="#9c4ca0"/>
<rect x="528.63" y="1197.35" width="15.86" height="15.75" fill="#a7569f"/>
<rect x="544.19" y="1197.35" width="15.87" height="15.75" fill="#b5649d"/>
<rect x="559.76" y="1197.35" width="15.86" height="15.75" fill="#c06898"/>
<rect x="575.32" y="1197.35" width="15.87" height="15.75" fill="#c86590"/>
<rect x="590.89" y="1197.35" width="15.86" height="15.75" fill="#c85784"/>
<rect x="606.45" y="1197.35" width="15.87" height="15.75" fill="#c74b78"/>
<rect x="622.02" y="1197.35" width="15.86" height="15.75" fill="#c5416e"/>
<rect x="637.58" y="1197.35" width="15.87" height="15.75" fill="#c33764"/>
<rect x="653.15" y="1197.35" width="15.86" height="15.75" fill="#c22e5b"/>
<rect x="668.71" y="1197.35" width="15.86" height="15.75" fill="#c02452"/>
<rect x="684.27" y="1197.35" width="15.87" height="15.75" fill="#bf1d4c"/>
<rect x="699.84" y="1197.35" width="15.86" height="15.75" fill="#be1645"/>
<rect x="715.4" y="1197.35" width="15.87" height="15.75" fill="#bd0f3f"/>
<rect x="730.97" y="1197.35" width="155.94" height="15.75" fill="#bc0c3c"/>
<rect x="886.61" y="1197.35" width="15.87" height="15.75" fill="#bc0e3e"/>
<rect x="902.18" y="1197.35" width="15.86" height="15.75" fill="#be1040"/>
<rect x="917.74" y="1197.35" width="15.87" height="15.75" fill="#be1444"/>
<rect x="933.31" y="1197.35" width="15.86" height="15.75" fill="#c01646"/>
<rect x="948.87" y="1197.35" width="31.43" height="15.75" fill="#c01848"/>
<rect x="15" y="1212.8" width="327.15" height="15.75" fill="#bc6899"/>
<rect x="341.85" y="1212.8" width="47" height="15.75" fill="#681499"/>
<rect x="388.55" y="1212.8" width="15.86" height="15.75" fill="#661299"/>
<rect x="404.11" y="1212.8" width="15.87" height="15.75" fill="#640e98"/>
<rect x="419.68" y="1212.8" width="15.86" height="15.75" fill="#600a97"/>
<rect x="435.24" y="1212.8" width="15.87" height="15.75" fill="#5e0696"/>
<rect x="450.81" y="1212.8" width="46.99" height="15.75" fill="#5c0496"/>
<rect x="497.5" y="1212.8" width="15.86" height="15.75" fill="#5e0697"/>
<rect x="513.06" y="1212.8" width="15.87" height="15.75" fill="#610a98"/>
<rect x="528.63" y="1212.8" width="15.86" height="15.75" fill="#640e99"/>
<rect x="544.19" y="1212.8" width="15.87" height="15.75" fill="#6d189c"/>
<rect x="559.76" y="1212.8" width="15.86" height="15.75" fill="#7a28a0"/>
<rect x="575.32" y="1212.8" width="15.87" height="15.75" fill="#8a36a0"/>
<rect x="590.89" y="1212.8" width="15.86" height="15.75" fill="#a050a0"/>
<rect x="606.45" y="1212.8" width="15.87" height="15.75" fill="#bc6a9c"/>
<rect x="622.02" y="1212.8" width="15.86" height="15.75" fill="#c46794"/>
<rect x="637.58" y="1212.8" width="15.87" height="15.75" fill="#c8608c"/>
<rect x="653.15" y="1212.8" width="15.86" height="15.75" fill="#c85782"/>
<rect x="668.71" y="1212.8" width="15.86" height="15.75" fill="#c74d7a"/>
<rect x="684.27" y="1212.8" width="15.87" height="15.75" fill="#c64471"/>
<rect x="699.84" y="1212.8" width="15.86" height="15.75" fill="#c53b68"/>
<rect x="715.4" y="1212.8" width="15.87" height="15.75" fill="#c43462"/>
<rect x="730.97" y="1212.8" width="15.86" height="15.75" fill="#c22e5c"/>
<rect x="746.53" y="1212.8" width="15.87" height="15.75" fill="#c22a58"/>
<rect x="762.1" y="1212.8" width="15.86" height="15.75" fill="#c02452"/>
<rect x="777.66" y="1212.8" width="31.43" height="15.75" fill="#c02250"/>
<rect x="808.79" y="1212.8" width="15.86" height="15.75" fill="#c0214f"/>
<rect x="824.35" y="1212.8" width="15.87" height="15.75" fill="#bf1e4c"/>
<rect x="839.92" y="1212.8" width="15.86" height="15.75" fill="#bf1c4a"/>
<rect x="855.48" y="1212.8" width="15.87" height="15.75" fill="#be1947"/>
<rect x="871.05" y="1212.8" width="109.25" height="15.75" fill="#be1846"/>
<rect x="15" y="1228.25" width="327.15" height="15.75" fill="#bc6899"/>
<rect x="341.85" y="1228.25" width="47" height="15.75" fill="#681499"/>
<rect x="388.55" y="1228.25" width="15.86" height="15.75" fill="#661299"/>
<rect x="404.11" y="1228.25" width="15.87" height="15.75" fill="#630d98"/>
<rect x="419.68" y="1228.25" width="15.86" height="15.75" fill="#5f0997"/>
<rect x="435.24" y="1228.25" width="15.87" height="15.75" fill="#5c0496"/>
<rect x="450.81" y="1228.25" width="46.99" height="15.75" fill="#5a0296"/>
<rect x="497.5" y="1228.25" width="15.86" height="15.75" fill="#5c0497"/>
<rect x="513.06" y="1228.25" width="15.87" height="15.75" fill="#5f0898"/>
<rect x="528.63" y="1228.25" width="15.86" height="15.75" fill="#630c99"/>
<rect x="544.19" y="1228.25" width="15.87" height="15.75" fill="#66109a"/>
<rect x="559.76" y="1228.25" width="15.86" height="15.75" fill="#6b169a"/>
<rect x="575.32" y="1228.25" width="15.87" height="15.75" fill="#701c9a"/>
<rect x="590.89" y="1228.25" width="15.86" height="15.75" fill="#7c299e"/>
<rect x="606.45" y="1228.25" width="15.87" height="15.75" fill="#8937a0"/>
<rect x="622.02" y="1228.25" width="15.86" height="15.75" fill="#9844a0"/>
<rect x="637.58" y="1228.25" width="15.87" height="15.75" fill="#a854a0"/>
<rect x="653.15" y="1228.25" width="15.86" height="15.75" fill="#b4609f"/>
<rect x="668.71" y="1228.25" width="15.86" height="15.75" fill="#bc689d"/>
<rect x="684.27" y="1228.25" width="15.87" height="15.75" fill="#c16b9a"/>
<rect x="699.84" y="1228.25" width="15.86" height="15.75" fill="#c46896"/>
<rect x="715.4" y="1228.25" width="15.87" height="15.75" fill="#c76692"/>
<rect x="730.97" y="1228.25" width="15.86" height="15.75" fill="#c8628d"/>
<rect x="746.53" y="1228.25" width="15.87" height="15.75" fill="#c85c88"/>
<rect x="762.1" y="1228.25" width="15.86" height="15.75" fill="#c85683"/>
<rect x="777.66" y="1228.25" width="15.87" height="15.75" fill="#c8507e"/>
<rect x="793.23" y="1228.25" width="15.86" height="15.75" fill="#c74a78"/>
<rect x="808.79" y="1228.25" width="15.86" height="15.75" fill="#c64371"/>
<rect x="824.35" y="1228.25" width="15.87" height="15.75" fill="#c53d6b"/>
<rect x="839.92" y="1228.25" width="15.86" height="15.75" fill="#c43866"/>
<rect x="855.48" y="1228.25" width="15.87" height="15.75" fill="#c33462"/>
<rect x="871.05" y="1228.25" width="15.86" height="15.75" fill="#c3305e"/>
<rect x="886.61" y="1228.25" width="15.87" height="15.75" fill="#c22c5a"/>
<rect x="902.18" y="1228.25" width="78.12" height="15.75" fill="#c22a58"/>
<rect x="15" y="1243.7" width="513.93" height="15.75" fill="#bc6899"/>
<rect x="528.63" y="1243.7" width="31.43" height="15.75" fill="#681499"/>
<rect x="559.76" y="1243.7" width="15.86" height="15.75" fill="#661099"/>
<rect x="575.32" y="1243.7" width="15.87" height="15.75" fill="#630c98"/>
<rect x="590.89" y="1243.7" width="15.86" height="15.75" fill="#610998"/>
<rect x="606.45" y="1243.7" width="15.87" height="15.75" fill="#5e0697"/>
<rect x="622.02" y="1243.7" width="15.86" height="15.75" fill="#5b0396"/>
<rect x="637.58" y="1243.7" width="46.99" height="15.75" fill="#5a0296"/>
<rect x="684.27" y="1243.7" width="15.87" height="15.75" fill="#5d0697"/>
<rect x="699.84" y="1243.7" width="15.86" height="15.75" fill="#620d98"/>
<rect x="715.4" y="1243.7" width="15.87" height="15.75" fill="#671499"/>
<rect x="730.97" y="1243.7" width="15.86" height="15.75" fill="#75239c"/>
<rect x="746.53" y="1243.7" width="15.87" height="15.75" fill="#8a38a0"/>
<rect x="762.1" y="1243.7" width="15.86" height="15.75" fill="#9e4ba0"/>
<rect x="777.66" y="1243.7" width="15.87" height="15.75" fill="#ac58a0"/>
<rect x="793.23" y="1243.7" width="15.86" height="15.75" fill="#b4619f"/>
<rect x="808.79" y="1243.7" width="15.86" height="15.75" fill="#bc6a9e"/>
<rect x="824.35" y="1243.7" width="15.87" height="15.75" fill="#c0699a"/>
<rect x="839.92" y="1243.7" width="15.86" height="15.75" fill="#c46996"/>
<rect x="855.48" y="1243.7" width="15.87" height="15.75" fill="#c86892"/>
<rect x="871.05" y="1243.7" width="15.86" height="15.75" fill="#c8638f"/>
<rect x="886.61" y="1243.7" width="15.87" height="15.75" fill="#c85d8b"/>
<rect x="902.18" y="1243.7" width="15.86" height="15.75" fill="#c85888"/>
<rect x="917.74" y="1243.7" width="15.87" height="15.75" fill="#c85584"/>
<rect x="933.31" y="1243.7" width="15.86" height="15.75" fill="#c85180"/>
<rect x="948.87" y="1243.7" width="31.43" height="15.75" fill="#c84e7c"/>
<rect x="15" y="1259.15" width="513.93" height="15.75" fill="#bc6899"/>
<rect x="528.63" y="1259.15" width="31.43" height="15.75" fill="#681499"/>
<rect x="559.76" y="1259.15" width="15.86" height="15.75" fill="#650f98"/>
<rect x="575.32" y="1259.15" width="15.87" height="15.75" fill="#610b97"/>
<rect x="590.89" y="1259.15" width="15.86" height="15.75" fill="#5e0696"/>
<rect x="606.45" y="1259.15" width="78.12" height="15.75" fill="#5c0496"/>
<rect x="684.27" y="1259.15" width="15.87" height="15.75" fill="#5f0997"/>
<rect x="699.84" y="1259.15" width="15.86" height="15.75" fill="#661299"/>
<rect x="715.4" y="1259.15" width="15.87" height="15.75" fill="#6d1b9b"/>
<rect x="730.97" y="1259.15" width="15.86" height="15.75" fill="#73229d"/>
<rect x="746.53" y="1259.15" width="15.87" height="15.75" fill="#78279e"/>
<rect x="762.1" y="1259.15" width="15.86" height="15.75" fill="#7e2ca0"/>
<rect x="777.66" y="1259.15" width="15.87" height="15.75" fill="#812fa1"/>
<rect x="793.23" y="1259.15" width="15.86" height="15.75" fill="#8533a1"/>
<rect x="808.79" y="1259.15" width="15.86" height="15.75" fill="#8836a2"/>
<rect x="824.35" y="1259.15" width="15.87" height="15.75" fill="#8c3ba2"/>
<rect x="839.92" y="1259.15" width="15.86" height="15.75" fill="#9140a2"/>
<rect x="855.48" y="1259.15" width="15.87" height="15.75" fill="#9645a2"/>
<rect x="871.05" y="1259.15" width="15.86" height="15.75" fill="#9c4ca2"/>
<rect x="886.61" y="1259.15" width="15.87" height="15.75" fill="#a454a2"/>
<rect x="902.18" y="1259.15" width="15.86" height="15.75" fill="#ac5ca2"/>
<rect x="917.74" y="1259.15" width="15.87" height="15.75" fill="#b462a0"/>
<rect x="933.31" y="1259.15" width="15.86" height="15.75" fill="#bb689f"/>
<rect x="948.87" y="1259.15" width="15.87" height="15.75" fill="#c16a9d"/>
<rect x="964.44" y="1259.15" width="15.86" height="15.75" fill="#c46c9c"/>
<rect x="15" y="1274.6" width="700.7" height="15.75" fill="#bc6899"/>
<rect x="715.4" y="1274.6" width="31.43" height="15.75" fill="#6a189a"/>
<rect x="746.53" y="1274.6" width="15.87" height="15.75" fill="#671399"/>
<rect x="762.1" y="1274.6" width="15.86" height="15.75" fill="#630e99"/>
<rect x="777.66" y="1274.6" width="15.87" height="15.75" fill="#600998"/>
<rect x="793.23" y="1274.6" width="46.99" height="15.75" fill="#5e0698"/>
<rect x="839.92" y="1274.6" width="15.86" height="15.75" fill="#5f0898"/>
<rect x="855.48" y="1274.6" width="15.87" height="15.75" fill="#620b99"/>
<rect x="871.05" y="1274.6" width="15.86" height="15.75" fill="#650e9a"/>
<rect x="886.61" y="1274.6" width="15.87" height="15.75" fill="#6a149a"/>
<rect x="902.18" y="1274.6" width="15.86" height="15.75" fill="#701c9c"/>
<rect x="917.74" y="1274.6" width="15.87" height="15.75" fill="#79259d"/>
<rect x="933.31" y="1274.6" width="15.86" height="15.75" fill="#8230a0"/>
<rect x="948.87" y="1274.6" width="15.87" height="15.75" fill="#8e3ca1"/>
<rect x="964.44" y="1274.6" width="15.86" height="15.75" fill="#9442a2"/>
<rect x="15" y="1290.05" width="700.7" height="15.75" fill="#bc6899"/>
<rect x="715.4" y="1290.05" width="31.43" height="15.75" fill="#6a189a"/>
<rect x="746.53" y="1290.05" width="15.87" height="15.75" fill="#651299"/>
<rect x="762.1" y="1290.05" width="15.86" height="15.75" fill="#610b98"/>
<rect x="777.66" y="1290.05" width="15.87" height="15.75" fill="#5c0597"/>
<rect x="793.23" y="1290.05" width="46.99" height="15.75" fill="#5a0296"/>
<rect x="839.92" y="1290.05" width="15.86" height="15.75" fill="#5b0496"/>
<rect x="855.48" y="1290.05" width="15.87" height="15.75" fill="#5e0798"/>
<rect x="871.05" y="1290.05" width="15.86" height="15.75" fill="#600b98"/>
<rect x="886.61" y="1290.05" width="15.87" height="15.75" fill="#630e9a"/>
<rect x="902.18" y="1290.05" width="15.86" height="15.75" fill="#65119a"/>
<rect x="917.74" y="1290.05" width="15.87" height="15.75" fill="#67149a"/>
<rect x="933.31" y="1290.05" width="15.86" height="15.75" fill="#6a179a"/>
<rect x="948.87" y="1290.05" width="31.43" height="15.75" fill="#6c1a9a"/>
<rect x="15" y="1305.5" width="856.35" height="16.8" fill="#bc6899"/>
<rect x="871.05" y="1305.5" width="109.25" height="16.8" fill="#620e99"/>
<g fill="#10021f" shape-rendering="geometricPrecision"><circle cx="293.4" cy="216.4" r="1.5"/><circle cx="303.4" cy="211.4" r="1.5"/><circle cx="318.4" cy="202.4" r="1.5"/><circle cx="321.4" cy="201.4" r="1.5"/><circle cx="334.4" cy="196.4" r="1.5"/><circle cx="349.4" cy="189.4" r="1.5"/><circle cx="357.4" cy="185.4" r="1.5"/><circle cx="365.4" cy="178.2" r="1.5"/><circle cx="372.4" cy="170.4" r="1.5"/><circle cx="380.4" cy="161.4" r="1.5"/><circle cx="392.4" cy="154.4" r="1.5"/><circle cx="396.4" cy="152.4" r="1.5"/><circle cx="412.4" cy="152.4" r="1.5"/><circle cx="417.4" cy="154.4" r="1.5"/><circle cx="427.4" cy="158.4" r="1.5"/><circle cx="440.4" cy="170.4" r="1.5"/><circle cx="443.4" cy="175.4" r="1.5"/><circle cx="446.4" cy="185.4" r="1.5"/><circle cx="458.4" cy="195.4" r="1.5"/><circle cx="467.4" cy="201.4" r="1.5"/><circle cx="474.4" cy="204.4" r="1.5"/><circle cx="489.4" cy="208.4" r="1.5"/><circle cx="505.4" cy="212.4" r="1.5"/><circle cx="520.4" cy="215.4" r="1.5"/><circle cx="524.4" cy="216.4" r="1.5"/><circle cx="536.4" cy="220.4" r="1.5"/><circle cx="552.4" cy="227.4" r="1.5"/><circle cx="560.4" cy="232.4" r="1.5"/><circle cx="567.4" cy="235.4" r="1.5"/><circle cx="583.4" cy="244.4" r="1.5"/><circle cx="589.4" cy="247.4" r="1.5"/><circle cx="598.4" cy="251.4" r="1.5"/><circle cx="614.4" cy="254.4" r="1.5"/><circle cx="629.4" cy="254.4" r="1.5"/><circle cx="645.4" cy="251.4" r="1.5"/><circle cx="660.4" cy="248.4" r="1.5"/><circle cx="674" cy="247.4" r="1.5"/><circle cx="677" cy="247.4" r="1.5"/><circle cx="688.4" cy="247.4" r="1.5"/><circle cx="691.6" cy="247.4" r="1.5"/><circle cx="707.4" cy="249.4" r="1.5"/><circle cx="723.4" cy="250.4" r="1.5"/><circle cx="738.4" cy="250.4" r="1.5"/><circle cx="754.4" cy="249.4" r="1.5"/><circle cx="760.4" cy="247.4" r="1.5"/><circle cx="769.4" cy="243.4" r="1.5"/><circle cx="785.4" cy="239.4" r="1.5"/><circle cx="800.4" cy="236.4" r="1.5"/><circle cx="816.4" cy="234.4" r="1.5"/><circle cx="831.3" cy="232.4" r="1.5"/><circle cx="835.4" cy="232.4" r="1.5"/><circle cx="847.6" cy="229.5" r="1.5"/><circle cx="863.5" cy="224.4" r="1.5"/><circle cx="878.4" cy="219.4" r="1.5"/><circle cx="885.5" cy="216.3" r="1.5"/><circle cx="894.4" cy="212.4" r="1.5"/><circle cx="909.4" cy="208.6" r="1.5"/><circle cx="925.5" cy="206.1" r="1.5"/><circle cx="940.5" cy="205.2" r="1.5"/><circle cx="956.5" cy="204.5" r="1.5"/><circle cx="971.3" cy="204.5" r="1.5"/><circle cx="303.4" cy="225.4" r="1.5"/><circle cx="307.4" cy="232.4" r="1.5"/><circle cx="318.4" cy="239.4" r="1.5"/><circle cx="324.4" cy="247.4" r="1.5"/><circle cx="334.4" cy="258.4" r="1.5"/><circle cx="339.4" cy="263.4" r="1.5"/><circle cx="349.4" cy="267.4" r="1.5"/><circle cx="365.4" cy="271.4" r="1.5"/><circle cx="380.4" cy="274.4" r="1.5"/><circle cx="396.4" cy="276.4" r="1.5"/><circle cx="409.4" cy="278.4" r="1.5"/><circle cx="412.4" cy="279.4" r="1.5"/><circle cx="427.4" cy="282.4" r="1.5"/><circle cx="443.4" cy="284.4" r="1.5"/><circle cx="458.4" cy="286.4" r="1.5"/><circle cx="474.4" cy="289.4" r="1.5"/><circle cx="489.4" cy="293.4" r="1.5"/><circle cx="492.4" cy="294.4" r="1.5"/><circle cx="505.4" cy="296.4" r="1.5"/><circle cx="520.4" cy="298.4" r="1.5"/><circle cx="536.4" cy="300.4" r="1.5"/><circle cx="552.4" cy="302.4" r="1.5"/><circle cx="567.4" cy="305.4" r="1.5"/><circle cx="583.4" cy="308.4" r="1.5"/><circle cx="592.4" cy="309.4" r="1.5"/><circle cx="598.4" cy="311.4" r="1.5"/><circle cx="614.4" cy="314.4" r="1.5"/><circle cx="629.4" cy="321.4" r="1.5"/><circle cx="635.4" cy="325.4" r="1.5"/><circle cx="645.4" cy="328.4" r="1.5"/><circle cx="660.4" cy="331.4" r="1.5"/><circle cx="676.4" cy="333.4" r="1.5"/><circle cx="691.4" cy="335.4" r="1.5"/><circle cx="707.4" cy="337.4" r="1.5"/><circle cx="723.4" cy="338.4" r="1.5"/><circle cx="738.4" cy="339.4" r="1.5"/><circle cx="749.4" cy="341.4" r="1.5"/><circle cx="754.4" cy="341.4" r="1.5"/><circle cx="769.4" cy="343.4" r="1.5"/><circle cx="785.4" cy="345.4" r="1.5"/><circle cx="800.4" cy="347.2" r="1.5"/><circle cx="816.4" cy="350.1" r="1.5"/><circle cx="831.3" cy="354.2" r="1.5"/><circle cx="841.5" cy="356.3" r="1.5"/><circle cx="847.6" cy="357.5" r="1.5"/><circle cx="863.5" cy="359.4" r="1.5"/><circle cx="878.4" cy="360.4" r="1.5"/><circle cx="894.4" cy="361.5" r="1.5"/><circle cx="909.4" cy="362.4" r="1.5"/><circle cx="925.5" cy="364.4" r="1.5"/><circle cx="940.5" cy="365.4" r="1.5"/><circle cx="956.5" cy="368.3" r="1.5"/><circle cx="971.3" cy="369.4" r="1.5"/><circle cx="293.4" cy="664.4" r="1.5"/><circle cx="303.4" cy="659.4" r="1.5"/><circle cx="318.4" cy="650.4" r="1.5"/><circle cx="321.4" cy="649.4" r="1.5"/><circle cx="334.4" cy="644.4" r="1.5"/><circle cx="349.4" cy="637.4" r="1.5"/><circle cx="357.4" cy="633.4" r="1.5"/><circle cx="365.4" cy="626.2" r="1.5"/><circle cx="372.4" cy="618.4" r="1.5"/><circle cx="380.4" cy="609.4" r="1.5"/><circle cx="392.4" cy="602.4" r="1.5"/><circle cx="396.4" cy="600.4" r="1.5"/><circle cx="412.4" cy="600.4" r="1.5"/><circle cx="417.4" cy="602.4" r="1.5"/><circle cx="427.4" cy="606.4" r="1.5"/><circle cx="440.4" cy="618.4" r="1.5"/><circle cx="443.4" cy="623.4" r="1.5"/><circle cx="446.4" cy="633.4" r="1.5"/><circle cx="458.4" cy="643.4" r="1.5"/><circle cx="467.4" cy="649.4" r="1.5"/><circle cx="474.4" cy="652.4" r="1.5"/><circle cx="489.4" cy="656.4" r="1.5"/><circle cx="505.4" cy="660.4" r="1.5"/><circle cx="520.4" cy="663.4" r="1.5"/><circle cx="524.4" cy="664.4" r="1.5"/><circle cx="536.4" cy="668.4" r="1.5"/><circle cx="552.4" cy="675.4" r="1.5"/><circle cx="560.4" cy="680.4" r="1.5"/><circle cx="567.4" cy="683.4" r="1.5"/><circle cx="583.4" cy="692.4" r="1.5"/><circle cx="589.4" cy="695.4" r="1.5"/><circle cx="598.4" cy="699.4" r="1.5"/><circle cx="614.4" cy="702.4" r="1.5"/><circle cx="629.4" cy="702.4" r="1.5"/><circle cx="645.4" cy="699.4" r="1.5"/><circle cx="660.4" cy="696.4" r="1.5"/><circle cx="674" cy="695.4" r="1.5"/><circle cx="677" cy="695.4" r="1.5"/><circle cx="688.4" cy="695.4" r="1.5"/><circle cx="691.6" cy="695.4" r="1.5"/><circle cx="707.4" cy="697.4" r="1.5"/><circle cx="723.4" cy="698.4" r="1.5"/><circle cx="738.4" cy="698.4" r="1.5"/><circle cx="754.4" cy="697.4" r="1.5"/><circle cx="760.4" cy="695.4" r="1.5"/><circle cx="769.4" cy="691.4" r="1.5"/><circle cx="785.4" cy="687.4" r="1.5"/><circle cx="800.4" cy="684.4" r="1.5"/><circle cx="816.4" cy="682.4" r="1.5"/><circle cx="831.3" cy="680.4" r="1.5"/><circle cx="835.4" cy="680.4" r="1.5"/><circle cx="847.6" cy="677.5" r="1.5"/><circle cx="863.5" cy="672.4" r="1.5"/><circle cx="878.4" cy="667.4" r="1.5"/><circle cx="885.5" cy="664.3" r="1.5"/><circle cx="894.4" cy="660.4" r="1.5"/><circle cx="909.4" cy="656.6" r="1.5"/><circle cx="925.5" cy="654.1" r="1.5"/><circle cx="940.5" cy="653.2" r="1.5"/><circle cx="956.5" cy="652.5" r="1.5"/><circle cx="971.3" cy="652.5" r="1.5"/><circle cx="303.4" cy="673.4" r="1.5"/><circle cx="307.4" cy="680.4" r="1.5"/><circle cx="318.4" cy="687.4" r="1.5"/><circle cx="324.4" cy="695.4" r="1.5"/><circle cx="334.4" cy="706.4" r="1.5"/><circle cx="339.4" cy="711.4" r="1.5"/><circle cx="349.4" cy="715.4" r="1.5"/><circle cx="365.4" cy="719.4" r="1.5"/><circle cx="380.4" cy="722.4" r="1.5"/><circle cx="396.4" cy="724.4" r="1.5"/><circle cx="409.4" cy="726.4" r="1.5"/><circle cx="412.4" cy="727.4" r="1.5"/><circle cx="427.4" cy="730.4" r="1.5"/><circle cx="443.4" cy="732.4" r="1.5"/><circle cx="458.4" cy="734.4" r="1.5"/><circle cx="474.4" cy="737.4" r="1.5"/><circle cx="489.4" cy="741.4" r="1.5"/><circle cx="492.4" cy="742.4" r="1.5"/><circle cx="505.4" cy="744.4" r="1.5"/><circle cx="520.4" cy="746.4" r="1.5"/><circle cx="536.4" cy="748.4" r="1.5"/><circle cx="552.4" cy="750.4" r="1.5"/><circle cx="567.4" cy="753.4" r="1.5"/><circle cx="583.4" cy="756.4" r="1.5"/><circle cx="592.4" cy="757.4" r="1.5"/><circle cx="598.4" cy="759.4" r="1.5"/><circle cx="614.4" cy="762.4" r="1.5"/><circle cx="629.4" cy="769.4" r="1.5"/><circle cx="635.4" cy="773.4" r="1.5"/><circle cx="645.4" cy="776.4" r="1.5"/><circle cx="660.4" cy="779.4" r="1.5"/><circle cx="676.4" cy="781.4" r="1.5"/><circle cx="691.4" cy="783.4" r="1.5"/><circle cx="707.4" cy="785.4" r="1.5"/><circle cx="723.4" cy="786.4" r="1.5"/><circle cx="738.4" cy="787.4" r="1.5"/><circle cx="749.4" cy="789.4" r="1.5"/><circle cx="754.4" cy="789.4" r="1.5"/><circle cx="769.4" cy="791.4" r="1.5"/><circle cx="785.4" cy="793.4" r="1.5"/><circle cx="800.4" cy="795.2" r="1.5"/><circle cx="816.4" cy="798.1" r="1.5"/><circle cx="831.3" cy="802.2" r="1.5"/><circle cx="841.5" cy="804.3" r="1.5"/><circle cx="847.6" cy="805.5" r="1.5"/><circle cx="863.5" cy="807.4" r="1.5"/><circle cx="878.4" cy="808.4" r="1.5"/><circle cx="894.4" cy="809.5" r="1.5"/><circle cx="909.4" cy="810.4" r="1.5"/><circle cx="925.5" cy="812.4" r="1.5"/><circle cx="940.5" cy="813.4" r="1.5"/><circle cx="956.5" cy="816.3" r="1.5"/><circle cx="971.3" cy="817.4" r="1.5"/><circle cx="293.4" cy="1112.4" r="1.5"/><circle cx="303.4" cy="1107.4" r="1.5"/><circle cx="318.4" cy="1098.4" r="1.5"/><circle cx="321.4" cy="1097.4" r="1.5"/><circle cx="334.4" cy="1092.4" r="1.5"/><circle cx="349.4" cy="1085.4" r="1.5"/><circle cx="357.4" cy="1081.4" r="1.5"/><circle cx="365.4" cy="1074.2" r="1.5"/><circle cx="372.4" cy="1066.4" r="1.5"/><circle cx="380.4" cy="1057.4" r="1.5"/><circle cx="392.4" cy="1050.4" r="1.5"/><circle cx="396.4" cy="1048.4" r="1.5"/><circle cx="412.4" cy="1048.4" r="1.5"/><circle cx="417.4" cy="1050.4" r="1.5"/><circle cx="427.4" cy="1054.4" r="1.5"/><circle cx="440.4" cy="1066.4" r="1.5"/><circle cx="443.4" cy="1071.4" r="1.5"/><circle cx="446.4" cy="1081.4" r="1.5"/><circle cx="458.4" cy="1091.4" r="1.5"/><circle cx="467.4" cy="1097.4" r="1.5"/><circle cx="474.4" cy="1100.4" r="1.5"/><circle cx="489.4" cy="1104.4" r="1.5"/><circle cx="505.4" cy="1108.4" r="1.5"/><circle cx="520.4" cy="1111.4" r="1.5"/><circle cx="524.4" cy="1112.4" r="1.5"/><circle cx="536.4" cy="1116.4" r="1.5"/><circle cx="552.4" cy="1123.4" r="1.5"/><circle cx="560.4" cy="1128.4" r="1.5"/><circle cx="567.4" cy="1131.4" r="1.5"/><circle cx="583.4" cy="1140.4" r="1.5"/><circle cx="589.4" cy="1143.4" r="1.5"/><circle cx="598.4" cy="1147.4" r="1.5"/><circle cx="614.4" cy="1150.4" r="1.5"/><circle cx="629.4" cy="1150.4" r="1.5"/><circle cx="645.4" cy="1147.4" r="1.5"/><circle cx="660.4" cy="1144.4" r="1.5"/><circle cx="674" cy="1143.4" r="1.5"/><circle cx="677" cy="1143.4" r="1.5"/><circle cx="688.4" cy="1143.4" r="1.5"/><circle cx="691.6" cy="1143.4" r="1.5"/><circle cx="707.4" cy="1145.4" r="1.5"/><circle cx="723.4" cy="1146.4" r="1.5"/><circle cx="738.4" cy="1146.4" r="1.5"/><circle cx="754.4" cy="1145.4" r="1.5"/><circle cx="760.4" cy="1143.4" r="1.5"/><circle cx="769.4" cy="1139.4" r="1.5"/><circle cx="785.4" cy="1135.4" r="1.5"/><circle cx="800.4" cy="1132.4" r="1.5"/><circle cx="816.4" cy="1130.4" r="1.5"/><circle cx="831.3" cy="1128.4" r="1.5"/><circle cx="835.4" cy="1128.4" r="1.5"/><circle cx="847.6" cy="1125.5" r="1.5"/><circle cx="863.5" cy="1120.4" r="1.5"/><circle cx="878.4" cy="1115.4" r="1.5"/><circle cx="885.5" cy="1112.3" r="1.5"/><circle cx="894.4" cy="1108.4" r="1.5"/><circle cx="909.4" cy="1104.6" r="1.5"/><circle cx="925.5" cy="1102.1" r="1.5"/><circle cx="940.5" cy="1101.2" r="1.5"/><circle cx="956.5" cy="1100.5" r="1.5"/><circle cx="971.3" cy="1100.5" r="1.5"/><circle cx="303.4" cy="1121.4" r="1.5"/><circle cx="307.4" cy="1128.4" r="1.5"/><circle cx="318.4" cy="1135.4" r="1.5"/><circle cx="324.4" cy="1143.4" r="1.5"/><circle cx="334.4" cy="1154.4" r="1.5"/><circle cx="339.4" cy="1159.4" r="1.5"/><circle cx="349.4" cy="1163.4" r="1.5"/><circle cx="365.4" cy="1167.4" r="1.5"/><circle cx="380.4" cy="1170.4" r="1.5"/><circle cx="396.4" cy="1172.4" r="1.5"/><circle cx="409.4" cy="1174.4" r="1.5"/><circle cx="412.4" cy="1175.4" r="1.5"/><circle cx="427.4" cy="1178.4" r="1.5"/><circle cx="443.4" cy="1180.4" r="1.5"/><circle cx="458.4" cy="1182.4" r="1.5"/><circle cx="474.4" cy="1185.4" r="1.5"/><circle cx="489.4" cy="1189.4" r="1.5"/><circle cx="492.4" cy="1190.4" r="1.5"/><circle cx="505.4" cy="1192.4" r="1.5"/><circle cx="520.4" cy="1194.4" r="1.5"/><circle cx="536.4" cy="1196.4" r="1.5"/><circle cx="552.4" cy="1198.4" r="1.5"/><circle cx="567.4" cy="1201.4" r="1.5"/><circle cx="583.4" cy="1204.4" r="1.5"/><circle cx="592.4" cy="1205.4" r="1.5"/><circle cx="598.4" cy="1207.4" r="1.5"/><circle cx="614.4" cy="1210.4" r="1.5"/><circle cx="629.4" cy="1217.4" r="1.5"/><circle cx="635.4" cy="1221.4" r="1.5"/><circle cx="645.4" cy="1224.4" r="1.5"/><circle cx="660.4" cy="1227.4" r="1.5"/><circle cx="676.4" cy="1229.4" r="1.5"/><circle cx="691.4" cy="1231.4" r="1.5"/><circle cx="707.4" cy="1233.4" r="1.5"/><circle cx="723.4" cy="1234.4" r="1.5"/><circle cx="738.4" cy="1235.4" r="1.5"/><circle cx="749.4" cy="1237.4" r="1.5"/><circle cx="754.4" cy="1237.4" r="1.5"/><circle cx="769.4" cy="1239.4" r="1.5"/><circle cx="785.4" cy="1241.4" r="1.5"/><circle cx="800.4" cy="1243.2" r="1.5"/><circle cx="816.4" cy="1246.1" r="1.5"/><circle cx="831.3" cy="1250.2" r="1.5"/><circle cx="841.5" cy="1252.3" r="1.5"/><circle cx="847.6" cy="1253.5" r="1.5"/><circle cx="863.5" cy="1255.4" r="1.5"/><circle cx="878.4" cy="1256.4" r="1.5"/><circle cx="894.4" cy="1257.5" r="1.5"/><circle cx="909.4" cy="1258.4" r="1.5"/><circle cx="925.5" cy="1260.4" r="1.5"/><circle cx="940.5" cy="1261.4" r="1.5"/><circle cx="956.5" cy="1264.3" r="1.5"/><circle cx="971.3" cy="1265.4" r="1.5"/></g>
</svg>
<div class="t" style="top:12px;font-size:35.5px;transform:scaleX(1.132)">sar1938</div>
<div class="t" style="top:460px;font-size:35.5px;transform:scaleX(1.168)">2008-06-02-09-47-59</div>
<div class="t" style="top:907.1px;font-size:35.5px;transform:scaleX(0.99)">L5</div>
<div class="lg"></div>
<div class="sw" style="top:707px;background:#ff8c40"></div>
<div class="sw" style="top:737px;background:#ccffff"></div>
<div class="sw" style="top:768px;background:#0d50ff"></div>
<div class="sw" style="top:805px;height:3px;background:#000"></div>
<div class="sw" style="top:828px;background:#a53232;border:1.5px solid #801818;box-sizing:border-box"></div>
<div class="lt" style="left:1055.7px;top:704.7px;font-size:22px;transform-origin:0 0;transform:scaleX(1.02)">sand</div>
<div class="lt" style="left:1058px;top:734.7px;font-size:22px;transform-origin:0 0;transform:scaleX(1.089)">whitewater</div>
<div class="lt" style="left:1058px;top:765.7px;font-size:22px;transform-origin:0 0;transform:scaleX(1.089)">water</div>
<div class="lt" style="left:1055.7px;top:795.7px;font-size:22px;transform-origin:0 0;transform:scaleX(1.072)">shoreline</div>
<div class="lt" style="left:1055.7px;top:825.7px;font-size:22px;transform-origin:0 0;transform:scaleX(1.086)">reference shoreline buffer</div>
</body></html>
